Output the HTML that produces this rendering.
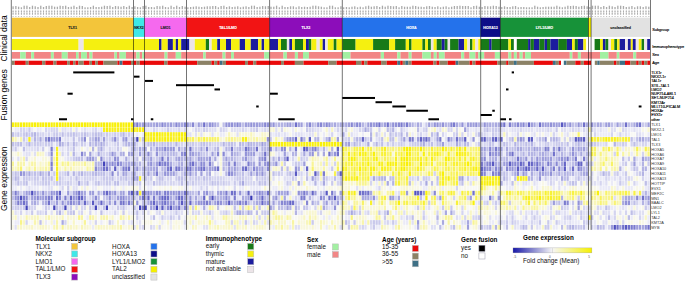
<!DOCTYPE html>
<html><head><meta charset="utf-8"><title>T-ALL clinical and molecular overview</title>
<style>
html,body{margin:0;padding:0;background:#fff;width:685px;height:282px;overflow:hidden;}
svg{display:block;font-family:"Liberation Sans",sans-serif;}
svg text{shape-rendering:auto;}
.q0{fill:#1818aa}.q1{fill:#2323ae}.q2{fill:#2e2eb2}.q3{fill:#3939b6}.q4{fill:#4444ba}.q5{fill:#4f4fbe}.q6{fill:#5a5ac2}.q7{fill:#6565c6}.q8{fill:#7070ca}.q9{fill:#7b7bce}.q10{fill:#8787d3}.q11{fill:#9292d7}.q12{fill:#9d9ddb}.q13{fill:#a8a8df}.q14{fill:#b3b3e3}.q15{fill:#bebee7}.q16{fill:#c9c9eb}.q17{fill:#d4d4ef}.q18{fill:#dfdff3}.q19{fill:#eaeaf7}.q20{fill:#f8f8f4}.q21{fill:#f8f7e8}.q22{fill:#f8f7dc}.q23{fill:#f8f6d0}.q24{fill:#f8f6c5}.q25{fill:#f8f6b9}.q26{fill:#f8f5ad}.q27{fill:#f8f5a2}.q28{fill:#f8f496}.q29{fill:#f8f48a}.q30{fill:#f8f47f}.q31{fill:#f8f373}.q32{fill:#f8f367}.q33{fill:#f8f25b}.q34{fill:#f8f250}.q35{fill:#f8f244}.q36{fill:#f8f138}.q37{fill:#f8f12d}.q38{fill:#f8f021}.q39{fill:#f8f015}.q40{fill:#f8f00a}.w0 rect{width:2.27px;height:4.69px}.w1 rect{width:2.25px;height:4.69px}.w2 rect{width:2.30px;height:4.69px}.w3 rect{width:2.27px;height:4.69px}.w4 rect{width:2.30px;height:4.69px}.w5 rect{width:2.27px;height:4.69px}.w6 rect{width:2.31px;height:4.69px}.w7 rect{width:2.25px;height:4.69px}.w8 rect{width:2.10px;height:4.69px}.w9 rect{width:2.31px;height:4.69px}
</style></head><body>
<svg width="685" height="282" viewBox="0 0 685 282" font-family='"Liberation Sans", sans-serif'><rect x="12.43" y="6.30" width="1.30" height="2.90" fill="#aaaaaa"/>
<rect x="12.63" y="10.00" width="0.90" height="4.90" fill="#c8c8c8"/>
<rect x="12.58" y="11.00" width="1.00" height="1.10" fill="#acacac"/>
<rect x="12.58" y="13.20" width="1.00" height="1.20" fill="#a8a8a8"/>
<rect x="12.48" y="16.10" width="1.20" height="0.70" fill="#a8a8a8"/>
<rect x="15.20" y="6.00" width="1.30" height="3.20" fill="#aaaaaa"/>
<rect x="15.40" y="10.00" width="0.90" height="4.90" fill="#c8c8c8"/>
<rect x="15.35" y="11.00" width="1.00" height="1.10" fill="#acacac"/>
<rect x="15.35" y="13.20" width="1.00" height="1.20" fill="#a8a8a8"/>
<rect x="15.25" y="16.10" width="1.20" height="0.70" fill="#a8a8a8"/>
<rect x="17.97" y="6.70" width="1.30" height="2.50" fill="#aaaaaa"/>
<rect x="18.17" y="10.00" width="0.90" height="4.90" fill="#c8c8c8"/>
<rect x="18.12" y="11.00" width="1.00" height="1.10" fill="#acacac"/>
<rect x="18.12" y="13.20" width="1.00" height="1.20" fill="#a8a8a8"/>
<rect x="18.02" y="16.10" width="1.20" height="0.70" fill="#a8a8a8"/>
<rect x="20.74" y="7.30" width="1.30" height="1.90" fill="#aaaaaa"/>
<rect x="20.94" y="10.00" width="0.90" height="4.90" fill="#c8c8c8"/>
<rect x="20.89" y="11.00" width="1.00" height="1.10" fill="#acacac"/>
<rect x="20.89" y="13.20" width="1.00" height="1.20" fill="#a8a8a8"/>
<rect x="20.79" y="16.10" width="1.20" height="0.70" fill="#a8a8a8"/>
<rect x="23.51" y="5.70" width="1.30" height="3.50" fill="#aaaaaa"/>
<rect x="23.71" y="10.00" width="0.90" height="4.90" fill="#c8c8c8"/>
<rect x="23.66" y="11.00" width="1.00" height="1.10" fill="#acacac"/>
<rect x="23.66" y="13.20" width="1.00" height="1.20" fill="#a8a8a8"/>
<rect x="23.56" y="16.10" width="1.20" height="0.70" fill="#a8a8a8"/>
<rect x="26.27" y="5.70" width="1.30" height="3.50" fill="#aaaaaa"/>
<rect x="26.47" y="10.00" width="0.90" height="4.90" fill="#c8c8c8"/>
<rect x="26.42" y="11.00" width="1.00" height="1.10" fill="#acacac"/>
<rect x="26.42" y="13.20" width="1.00" height="1.20" fill="#a8a8a8"/>
<rect x="26.32" y="16.10" width="1.20" height="0.70" fill="#a8a8a8"/>
<rect x="29.04" y="7.00" width="1.30" height="2.20" fill="#aaaaaa"/>
<rect x="29.24" y="10.00" width="0.90" height="4.90" fill="#c8c8c8"/>
<rect x="29.19" y="11.00" width="1.00" height="1.10" fill="#acacac"/>
<rect x="29.19" y="13.20" width="1.00" height="1.20" fill="#a8a8a8"/>
<rect x="29.09" y="16.10" width="1.20" height="0.70" fill="#a8a8a8"/>
<rect x="31.81" y="5.70" width="1.30" height="3.50" fill="#aaaaaa"/>
<rect x="32.01" y="10.00" width="0.90" height="4.90" fill="#c8c8c8"/>
<rect x="31.96" y="11.00" width="1.00" height="1.10" fill="#acacac"/>
<rect x="31.96" y="13.20" width="1.00" height="1.20" fill="#a8a8a8"/>
<rect x="31.86" y="16.10" width="1.20" height="0.70" fill="#a8a8a8"/>
<rect x="34.58" y="6.30" width="1.30" height="2.90" fill="#aaaaaa"/>
<rect x="34.78" y="10.00" width="0.90" height="4.90" fill="#c8c8c8"/>
<rect x="34.73" y="11.00" width="1.00" height="1.10" fill="#acacac"/>
<rect x="34.73" y="13.20" width="1.00" height="1.20" fill="#a8a8a8"/>
<rect x="34.63" y="16.10" width="1.20" height="0.70" fill="#a8a8a8"/>
<rect x="37.35" y="7.00" width="1.30" height="2.20" fill="#aaaaaa"/>
<rect x="37.55" y="10.00" width="0.90" height="4.90" fill="#c8c8c8"/>
<rect x="37.50" y="11.00" width="1.00" height="1.10" fill="#acacac"/>
<rect x="37.50" y="13.20" width="1.00" height="1.20" fill="#a8a8a8"/>
<rect x="37.40" y="16.10" width="1.20" height="0.70" fill="#a8a8a8"/>
<rect x="40.12" y="5.70" width="1.30" height="3.50" fill="#aaaaaa"/>
<rect x="40.32" y="10.00" width="0.90" height="4.90" fill="#c8c8c8"/>
<rect x="40.27" y="11.00" width="1.00" height="1.10" fill="#acacac"/>
<rect x="40.27" y="13.20" width="1.00" height="1.20" fill="#a8a8a8"/>
<rect x="40.17" y="16.10" width="1.20" height="0.70" fill="#a8a8a8"/>
<rect x="42.88" y="7.00" width="1.30" height="2.20" fill="#aaaaaa"/>
<rect x="43.08" y="10.00" width="0.90" height="4.90" fill="#c8c8c8"/>
<rect x="43.03" y="11.00" width="1.00" height="1.10" fill="#acacac"/>
<rect x="43.03" y="13.20" width="1.00" height="1.20" fill="#a8a8a8"/>
<rect x="42.93" y="16.10" width="1.20" height="0.70" fill="#a8a8a8"/>
<rect x="45.65" y="6.00" width="1.30" height="3.20" fill="#aaaaaa"/>
<rect x="45.85" y="10.00" width="0.90" height="4.90" fill="#c8c8c8"/>
<rect x="45.80" y="11.00" width="1.00" height="1.10" fill="#acacac"/>
<rect x="45.80" y="13.20" width="1.00" height="1.20" fill="#a8a8a8"/>
<rect x="45.70" y="16.10" width="1.20" height="0.70" fill="#a8a8a8"/>
<rect x="48.42" y="5.70" width="1.30" height="3.50" fill="#aaaaaa"/>
<rect x="48.62" y="10.00" width="0.90" height="4.90" fill="#c8c8c8"/>
<rect x="48.57" y="11.00" width="1.00" height="1.10" fill="#acacac"/>
<rect x="48.57" y="13.20" width="1.00" height="1.20" fill="#a8a8a8"/>
<rect x="48.47" y="16.10" width="1.20" height="0.70" fill="#a8a8a8"/>
<rect x="51.19" y="5.70" width="1.30" height="3.50" fill="#aaaaaa"/>
<rect x="51.39" y="10.00" width="0.90" height="4.90" fill="#c8c8c8"/>
<rect x="51.34" y="11.00" width="1.00" height="1.10" fill="#acacac"/>
<rect x="51.34" y="13.20" width="1.00" height="1.20" fill="#a8a8a8"/>
<rect x="51.24" y="16.10" width="1.20" height="0.70" fill="#a8a8a8"/>
<rect x="53.96" y="6.70" width="1.30" height="2.50" fill="#aaaaaa"/>
<rect x="54.16" y="10.00" width="0.90" height="4.90" fill="#c8c8c8"/>
<rect x="54.11" y="11.00" width="1.00" height="1.10" fill="#acacac"/>
<rect x="54.11" y="13.20" width="1.00" height="1.20" fill="#a8a8a8"/>
<rect x="54.01" y="16.10" width="1.20" height="0.70" fill="#a8a8a8"/>
<rect x="56.72" y="6.70" width="1.30" height="2.50" fill="#aaaaaa"/>
<rect x="56.92" y="10.00" width="0.90" height="4.90" fill="#c8c8c8"/>
<rect x="56.87" y="11.00" width="1.00" height="1.10" fill="#acacac"/>
<rect x="56.87" y="13.20" width="1.00" height="1.20" fill="#a8a8a8"/>
<rect x="56.77" y="16.10" width="1.20" height="0.70" fill="#a8a8a8"/>
<rect x="59.49" y="5.70" width="1.30" height="3.50" fill="#aaaaaa"/>
<rect x="59.69" y="10.00" width="0.90" height="4.90" fill="#c8c8c8"/>
<rect x="59.64" y="11.00" width="1.00" height="1.10" fill="#acacac"/>
<rect x="59.64" y="13.20" width="1.00" height="1.20" fill="#a8a8a8"/>
<rect x="59.54" y="16.10" width="1.20" height="0.70" fill="#a8a8a8"/>
<rect x="62.26" y="6.00" width="1.30" height="3.20" fill="#aaaaaa"/>
<rect x="62.46" y="10.00" width="0.90" height="4.90" fill="#c8c8c8"/>
<rect x="62.41" y="11.00" width="1.00" height="1.10" fill="#acacac"/>
<rect x="62.41" y="13.20" width="1.00" height="1.20" fill="#a8a8a8"/>
<rect x="62.31" y="16.10" width="1.20" height="0.70" fill="#a8a8a8"/>
<rect x="65.03" y="5.70" width="1.30" height="3.50" fill="#aaaaaa"/>
<rect x="65.23" y="10.00" width="0.90" height="4.90" fill="#c8c8c8"/>
<rect x="65.18" y="11.00" width="1.00" height="1.10" fill="#acacac"/>
<rect x="65.18" y="13.20" width="1.00" height="1.20" fill="#a8a8a8"/>
<rect x="65.08" y="16.10" width="1.20" height="0.70" fill="#a8a8a8"/>
<rect x="67.80" y="7.00" width="1.30" height="2.20" fill="#aaaaaa"/>
<rect x="68.00" y="10.00" width="0.90" height="4.90" fill="#c8c8c8"/>
<rect x="67.95" y="11.00" width="1.00" height="1.10" fill="#acacac"/>
<rect x="67.95" y="13.20" width="1.00" height="1.20" fill="#a8a8a8"/>
<rect x="67.85" y="16.10" width="1.20" height="0.70" fill="#a8a8a8"/>
<rect x="70.57" y="6.70" width="1.30" height="2.50" fill="#aaaaaa"/>
<rect x="70.77" y="10.00" width="0.90" height="4.90" fill="#c8c8c8"/>
<rect x="70.72" y="11.00" width="1.00" height="1.10" fill="#acacac"/>
<rect x="70.72" y="13.20" width="1.00" height="1.20" fill="#a8a8a8"/>
<rect x="70.62" y="16.10" width="1.20" height="0.70" fill="#a8a8a8"/>
<rect x="73.33" y="5.70" width="1.30" height="3.50" fill="#aaaaaa"/>
<rect x="73.53" y="10.00" width="0.90" height="4.90" fill="#c8c8c8"/>
<rect x="73.48" y="11.00" width="1.00" height="1.10" fill="#acacac"/>
<rect x="73.48" y="13.20" width="1.00" height="1.20" fill="#a8a8a8"/>
<rect x="73.38" y="16.10" width="1.20" height="0.70" fill="#a8a8a8"/>
<rect x="76.10" y="7.00" width="1.30" height="2.20" fill="#aaaaaa"/>
<rect x="76.30" y="10.00" width="0.90" height="4.90" fill="#c8c8c8"/>
<rect x="76.25" y="11.00" width="1.00" height="1.10" fill="#acacac"/>
<rect x="76.25" y="13.20" width="1.00" height="1.20" fill="#a8a8a8"/>
<rect x="76.15" y="16.10" width="1.20" height="0.70" fill="#a8a8a8"/>
<rect x="78.87" y="5.70" width="1.30" height="3.50" fill="#aaaaaa"/>
<rect x="79.07" y="10.00" width="0.90" height="4.90" fill="#c8c8c8"/>
<rect x="79.02" y="11.00" width="1.00" height="1.10" fill="#acacac"/>
<rect x="79.02" y="13.20" width="1.00" height="1.20" fill="#a8a8a8"/>
<rect x="78.92" y="16.10" width="1.20" height="0.70" fill="#a8a8a8"/>
<rect x="81.64" y="6.00" width="1.30" height="3.20" fill="#aaaaaa"/>
<rect x="81.84" y="10.00" width="0.90" height="4.90" fill="#c8c8c8"/>
<rect x="81.79" y="11.00" width="1.00" height="1.10" fill="#acacac"/>
<rect x="81.79" y="13.20" width="1.00" height="1.20" fill="#a8a8a8"/>
<rect x="81.69" y="16.10" width="1.20" height="0.70" fill="#a8a8a8"/>
<rect x="84.41" y="7.30" width="1.30" height="1.90" fill="#aaaaaa"/>
<rect x="84.61" y="10.00" width="0.90" height="4.90" fill="#c8c8c8"/>
<rect x="84.56" y="11.00" width="1.00" height="1.10" fill="#acacac"/>
<rect x="84.56" y="13.20" width="1.00" height="1.20" fill="#a8a8a8"/>
<rect x="84.46" y="16.10" width="1.20" height="0.70" fill="#a8a8a8"/>
<rect x="87.17" y="7.30" width="1.30" height="1.90" fill="#aaaaaa"/>
<rect x="87.37" y="10.00" width="0.90" height="4.90" fill="#c8c8c8"/>
<rect x="87.32" y="11.00" width="1.00" height="1.10" fill="#acacac"/>
<rect x="87.32" y="13.20" width="1.00" height="1.20" fill="#a8a8a8"/>
<rect x="87.22" y="16.10" width="1.20" height="0.70" fill="#a8a8a8"/>
<rect x="89.94" y="7.00" width="1.30" height="2.20" fill="#aaaaaa"/>
<rect x="90.14" y="10.00" width="0.90" height="4.90" fill="#c8c8c8"/>
<rect x="90.09" y="11.00" width="1.00" height="1.10" fill="#acacac"/>
<rect x="90.09" y="13.20" width="1.00" height="1.20" fill="#a8a8a8"/>
<rect x="89.99" y="16.10" width="1.20" height="0.70" fill="#a8a8a8"/>
<rect x="92.71" y="5.70" width="1.30" height="3.50" fill="#aaaaaa"/>
<rect x="92.91" y="10.00" width="0.90" height="4.90" fill="#c8c8c8"/>
<rect x="92.86" y="11.00" width="1.00" height="1.10" fill="#acacac"/>
<rect x="92.86" y="13.20" width="1.00" height="1.20" fill="#a8a8a8"/>
<rect x="92.76" y="16.10" width="1.20" height="0.70" fill="#a8a8a8"/>
<rect x="95.48" y="7.00" width="1.30" height="2.20" fill="#aaaaaa"/>
<rect x="95.68" y="10.00" width="0.90" height="4.90" fill="#c8c8c8"/>
<rect x="95.63" y="11.00" width="1.00" height="1.10" fill="#acacac"/>
<rect x="95.63" y="13.20" width="1.00" height="1.20" fill="#a8a8a8"/>
<rect x="95.53" y="16.10" width="1.20" height="0.70" fill="#a8a8a8"/>
<rect x="98.25" y="7.00" width="1.30" height="2.20" fill="#aaaaaa"/>
<rect x="98.45" y="10.00" width="0.90" height="4.90" fill="#c8c8c8"/>
<rect x="98.40" y="11.00" width="1.00" height="1.10" fill="#acacac"/>
<rect x="98.40" y="13.20" width="1.00" height="1.20" fill="#a8a8a8"/>
<rect x="98.30" y="16.10" width="1.20" height="0.70" fill="#a8a8a8"/>
<rect x="101.02" y="6.70" width="1.30" height="2.50" fill="#aaaaaa"/>
<rect x="101.22" y="10.00" width="0.90" height="4.90" fill="#c8c8c8"/>
<rect x="101.17" y="11.00" width="1.00" height="1.10" fill="#acacac"/>
<rect x="101.17" y="13.20" width="1.00" height="1.20" fill="#a8a8a8"/>
<rect x="101.07" y="16.10" width="1.20" height="0.70" fill="#a8a8a8"/>
<rect x="103.78" y="5.70" width="1.30" height="3.50" fill="#aaaaaa"/>
<rect x="103.98" y="10.00" width="0.90" height="4.90" fill="#c8c8c8"/>
<rect x="103.93" y="11.00" width="1.00" height="1.10" fill="#acacac"/>
<rect x="103.93" y="13.20" width="1.00" height="1.20" fill="#a8a8a8"/>
<rect x="103.83" y="16.10" width="1.20" height="0.70" fill="#a8a8a8"/>
<rect x="106.55" y="6.00" width="1.30" height="3.20" fill="#aaaaaa"/>
<rect x="106.75" y="10.00" width="0.90" height="4.90" fill="#c8c8c8"/>
<rect x="106.70" y="11.00" width="1.00" height="1.10" fill="#acacac"/>
<rect x="106.70" y="13.20" width="1.00" height="1.20" fill="#a8a8a8"/>
<rect x="106.60" y="16.10" width="1.20" height="0.70" fill="#a8a8a8"/>
<rect x="109.32" y="5.70" width="1.30" height="3.50" fill="#aaaaaa"/>
<rect x="109.52" y="10.00" width="0.90" height="4.90" fill="#c8c8c8"/>
<rect x="109.47" y="11.00" width="1.00" height="1.10" fill="#acacac"/>
<rect x="109.47" y="13.20" width="1.00" height="1.20" fill="#a8a8a8"/>
<rect x="109.37" y="16.10" width="1.20" height="0.70" fill="#a8a8a8"/>
<rect x="112.09" y="7.00" width="1.30" height="2.20" fill="#aaaaaa"/>
<rect x="112.29" y="10.00" width="0.90" height="4.90" fill="#c8c8c8"/>
<rect x="112.24" y="11.00" width="1.00" height="1.10" fill="#acacac"/>
<rect x="112.24" y="13.20" width="1.00" height="1.20" fill="#a8a8a8"/>
<rect x="112.14" y="16.10" width="1.20" height="0.70" fill="#a8a8a8"/>
<rect x="114.86" y="6.00" width="1.30" height="3.20" fill="#aaaaaa"/>
<rect x="115.06" y="10.00" width="0.90" height="4.90" fill="#c8c8c8"/>
<rect x="115.01" y="11.00" width="1.00" height="1.10" fill="#acacac"/>
<rect x="115.01" y="13.20" width="1.00" height="1.20" fill="#a8a8a8"/>
<rect x="114.91" y="16.10" width="1.20" height="0.70" fill="#a8a8a8"/>
<rect x="117.62" y="6.30" width="1.30" height="2.90" fill="#aaaaaa"/>
<rect x="117.83" y="10.00" width="0.90" height="4.90" fill="#c8c8c8"/>
<rect x="117.78" y="11.00" width="1.00" height="1.10" fill="#acacac"/>
<rect x="117.78" y="13.20" width="1.00" height="1.20" fill="#a8a8a8"/>
<rect x="117.68" y="16.10" width="1.20" height="0.70" fill="#a8a8a8"/>
<rect x="120.39" y="6.70" width="1.30" height="2.50" fill="#aaaaaa"/>
<rect x="120.59" y="10.00" width="0.90" height="4.90" fill="#c8c8c8"/>
<rect x="120.54" y="11.00" width="1.00" height="1.10" fill="#acacac"/>
<rect x="120.54" y="13.20" width="1.00" height="1.20" fill="#a8a8a8"/>
<rect x="120.44" y="16.10" width="1.20" height="0.70" fill="#a8a8a8"/>
<rect x="123.16" y="6.00" width="1.30" height="3.20" fill="#aaaaaa"/>
<rect x="123.36" y="10.00" width="0.90" height="4.90" fill="#c8c8c8"/>
<rect x="123.31" y="11.00" width="1.00" height="1.10" fill="#acacac"/>
<rect x="123.31" y="13.20" width="1.00" height="1.20" fill="#a8a8a8"/>
<rect x="123.21" y="16.10" width="1.20" height="0.70" fill="#a8a8a8"/>
<rect x="125.93" y="7.00" width="1.30" height="2.20" fill="#aaaaaa"/>
<rect x="126.13" y="10.00" width="0.90" height="4.90" fill="#c8c8c8"/>
<rect x="126.08" y="11.00" width="1.00" height="1.10" fill="#acacac"/>
<rect x="126.08" y="13.20" width="1.00" height="1.20" fill="#a8a8a8"/>
<rect x="125.98" y="16.10" width="1.20" height="0.70" fill="#a8a8a8"/>
<rect x="128.70" y="5.70" width="1.30" height="3.50" fill="#aaaaaa"/>
<rect x="128.90" y="10.00" width="0.90" height="4.90" fill="#c8c8c8"/>
<rect x="128.85" y="11.00" width="1.00" height="1.10" fill="#acacac"/>
<rect x="128.85" y="13.20" width="1.00" height="1.20" fill="#a8a8a8"/>
<rect x="128.75" y="16.10" width="1.20" height="0.70" fill="#a8a8a8"/>
<rect x="131.47" y="7.00" width="1.30" height="2.20" fill="#aaaaaa"/>
<rect x="131.67" y="10.00" width="0.90" height="4.90" fill="#c8c8c8"/>
<rect x="131.62" y="11.00" width="1.00" height="1.10" fill="#acacac"/>
<rect x="131.62" y="13.20" width="1.00" height="1.20" fill="#a8a8a8"/>
<rect x="131.52" y="16.10" width="1.20" height="0.70" fill="#a8a8a8"/>
<rect x="134.22" y="6.30" width="1.30" height="2.90" fill="#aaaaaa"/>
<rect x="134.43" y="10.00" width="0.90" height="4.90" fill="#c8c8c8"/>
<rect x="134.38" y="11.00" width="1.00" height="1.10" fill="#acacac"/>
<rect x="134.38" y="13.20" width="1.00" height="1.20" fill="#a8a8a8"/>
<rect x="134.28" y="16.10" width="1.20" height="0.70" fill="#a8a8a8"/>
<rect x="136.97" y="7.00" width="1.30" height="2.20" fill="#aaaaaa"/>
<rect x="137.18" y="10.00" width="0.90" height="4.90" fill="#c8c8c8"/>
<rect x="137.12" y="11.00" width="1.00" height="1.10" fill="#acacac"/>
<rect x="137.12" y="13.20" width="1.00" height="1.20" fill="#a8a8a8"/>
<rect x="137.03" y="16.10" width="1.20" height="0.70" fill="#a8a8a8"/>
<rect x="139.72" y="7.30" width="1.30" height="1.90" fill="#aaaaaa"/>
<rect x="139.93" y="10.00" width="0.90" height="4.90" fill="#c8c8c8"/>
<rect x="139.88" y="11.00" width="1.00" height="1.10" fill="#acacac"/>
<rect x="139.88" y="13.20" width="1.00" height="1.20" fill="#a8a8a8"/>
<rect x="139.78" y="16.10" width="1.20" height="0.70" fill="#a8a8a8"/>
<rect x="142.47" y="6.00" width="1.30" height="3.20" fill="#aaaaaa"/>
<rect x="142.68" y="10.00" width="0.90" height="4.90" fill="#c8c8c8"/>
<rect x="142.62" y="11.00" width="1.00" height="1.10" fill="#acacac"/>
<rect x="142.62" y="13.20" width="1.00" height="1.20" fill="#a8a8a8"/>
<rect x="142.53" y="16.10" width="1.20" height="0.70" fill="#a8a8a8"/>
<rect x="145.25" y="5.70" width="1.30" height="3.50" fill="#aaaaaa"/>
<rect x="145.45" y="10.00" width="0.90" height="4.90" fill="#c8c8c8"/>
<rect x="145.40" y="11.00" width="1.00" height="1.10" fill="#acacac"/>
<rect x="145.40" y="13.20" width="1.00" height="1.20" fill="#a8a8a8"/>
<rect x="145.30" y="16.10" width="1.20" height="0.70" fill="#a8a8a8"/>
<rect x="148.05" y="7.00" width="1.30" height="2.20" fill="#aaaaaa"/>
<rect x="148.25" y="10.00" width="0.90" height="4.90" fill="#c8c8c8"/>
<rect x="148.20" y="11.00" width="1.00" height="1.10" fill="#acacac"/>
<rect x="148.20" y="13.20" width="1.00" height="1.20" fill="#a8a8a8"/>
<rect x="148.10" y="16.10" width="1.20" height="0.70" fill="#a8a8a8"/>
<rect x="150.85" y="7.00" width="1.30" height="2.20" fill="#aaaaaa"/>
<rect x="151.05" y="10.00" width="0.90" height="4.90" fill="#c8c8c8"/>
<rect x="151.00" y="11.00" width="1.00" height="1.10" fill="#acacac"/>
<rect x="151.00" y="13.20" width="1.00" height="1.20" fill="#a8a8a8"/>
<rect x="150.90" y="16.10" width="1.20" height="0.70" fill="#a8a8a8"/>
<rect x="153.65" y="7.30" width="1.30" height="1.90" fill="#aaaaaa"/>
<rect x="153.85" y="10.00" width="0.90" height="4.90" fill="#c8c8c8"/>
<rect x="153.80" y="11.00" width="1.00" height="1.10" fill="#acacac"/>
<rect x="153.80" y="13.20" width="1.00" height="1.20" fill="#a8a8a8"/>
<rect x="153.70" y="16.10" width="1.20" height="0.70" fill="#a8a8a8"/>
<rect x="156.45" y="6.00" width="1.30" height="3.20" fill="#aaaaaa"/>
<rect x="156.65" y="10.00" width="0.90" height="4.90" fill="#c8c8c8"/>
<rect x="156.60" y="11.00" width="1.00" height="1.10" fill="#acacac"/>
<rect x="156.60" y="13.20" width="1.00" height="1.20" fill="#a8a8a8"/>
<rect x="156.50" y="16.10" width="1.20" height="0.70" fill="#a8a8a8"/>
<rect x="159.25" y="6.30" width="1.30" height="2.90" fill="#aaaaaa"/>
<rect x="159.45" y="10.00" width="0.90" height="4.90" fill="#c8c8c8"/>
<rect x="159.40" y="11.00" width="1.00" height="1.10" fill="#acacac"/>
<rect x="159.40" y="13.20" width="1.00" height="1.20" fill="#a8a8a8"/>
<rect x="159.30" y="16.10" width="1.20" height="0.70" fill="#a8a8a8"/>
<rect x="162.05" y="5.70" width="1.30" height="3.50" fill="#aaaaaa"/>
<rect x="162.25" y="10.00" width="0.90" height="4.90" fill="#c8c8c8"/>
<rect x="162.20" y="11.00" width="1.00" height="1.10" fill="#acacac"/>
<rect x="162.20" y="13.20" width="1.00" height="1.20" fill="#a8a8a8"/>
<rect x="162.10" y="16.10" width="1.20" height="0.70" fill="#a8a8a8"/>
<rect x="164.85" y="7.00" width="1.30" height="2.20" fill="#aaaaaa"/>
<rect x="165.05" y="10.00" width="0.90" height="4.90" fill="#c8c8c8"/>
<rect x="165.00" y="11.00" width="1.00" height="1.10" fill="#acacac"/>
<rect x="165.00" y="13.20" width="1.00" height="1.20" fill="#a8a8a8"/>
<rect x="164.90" y="16.10" width="1.20" height="0.70" fill="#a8a8a8"/>
<rect x="167.65" y="7.30" width="1.30" height="1.90" fill="#aaaaaa"/>
<rect x="167.85" y="10.00" width="0.90" height="4.90" fill="#c8c8c8"/>
<rect x="167.80" y="11.00" width="1.00" height="1.10" fill="#acacac"/>
<rect x="167.80" y="13.20" width="1.00" height="1.20" fill="#a8a8a8"/>
<rect x="167.70" y="16.10" width="1.20" height="0.70" fill="#a8a8a8"/>
<rect x="170.45" y="5.70" width="1.30" height="3.50" fill="#aaaaaa"/>
<rect x="170.65" y="10.00" width="0.90" height="4.90" fill="#c8c8c8"/>
<rect x="170.60" y="11.00" width="1.00" height="1.10" fill="#acacac"/>
<rect x="170.60" y="13.20" width="1.00" height="1.20" fill="#a8a8a8"/>
<rect x="170.50" y="16.10" width="1.20" height="0.70" fill="#a8a8a8"/>
<rect x="173.25" y="7.00" width="1.30" height="2.20" fill="#aaaaaa"/>
<rect x="173.45" y="10.00" width="0.90" height="4.90" fill="#c8c8c8"/>
<rect x="173.40" y="11.00" width="1.00" height="1.10" fill="#acacac"/>
<rect x="173.40" y="13.20" width="1.00" height="1.20" fill="#a8a8a8"/>
<rect x="173.30" y="16.10" width="1.20" height="0.70" fill="#a8a8a8"/>
<rect x="176.05" y="5.70" width="1.30" height="3.50" fill="#aaaaaa"/>
<rect x="176.25" y="10.00" width="0.90" height="4.90" fill="#c8c8c8"/>
<rect x="176.20" y="11.00" width="1.00" height="1.10" fill="#acacac"/>
<rect x="176.20" y="13.20" width="1.00" height="1.20" fill="#a8a8a8"/>
<rect x="176.10" y="16.10" width="1.20" height="0.70" fill="#a8a8a8"/>
<rect x="178.85" y="7.00" width="1.30" height="2.20" fill="#aaaaaa"/>
<rect x="179.05" y="10.00" width="0.90" height="4.90" fill="#c8c8c8"/>
<rect x="179.00" y="11.00" width="1.00" height="1.10" fill="#acacac"/>
<rect x="179.00" y="13.20" width="1.00" height="1.20" fill="#a8a8a8"/>
<rect x="178.90" y="16.10" width="1.20" height="0.70" fill="#a8a8a8"/>
<rect x="181.65" y="6.00" width="1.30" height="3.20" fill="#aaaaaa"/>
<rect x="181.85" y="10.00" width="0.90" height="4.90" fill="#c8c8c8"/>
<rect x="181.80" y="11.00" width="1.00" height="1.10" fill="#acacac"/>
<rect x="181.80" y="13.20" width="1.00" height="1.20" fill="#a8a8a8"/>
<rect x="181.70" y="16.10" width="1.20" height="0.70" fill="#a8a8a8"/>
<rect x="184.45" y="6.70" width="1.30" height="2.50" fill="#aaaaaa"/>
<rect x="184.65" y="10.00" width="0.90" height="4.90" fill="#c8c8c8"/>
<rect x="184.60" y="11.00" width="1.00" height="1.10" fill="#acacac"/>
<rect x="184.60" y="13.20" width="1.00" height="1.20" fill="#a8a8a8"/>
<rect x="184.50" y="16.10" width="1.20" height="0.70" fill="#a8a8a8"/>
<rect x="187.23" y="7.30" width="1.30" height="1.90" fill="#aaaaaa"/>
<rect x="187.44" y="10.00" width="0.90" height="4.90" fill="#c8c8c8"/>
<rect x="187.38" y="11.00" width="1.00" height="1.10" fill="#acacac"/>
<rect x="187.38" y="13.20" width="1.00" height="1.20" fill="#a8a8a8"/>
<rect x="187.28" y="16.10" width="1.20" height="0.70" fill="#a8a8a8"/>
<rect x="190.00" y="7.00" width="1.30" height="2.20" fill="#aaaaaa"/>
<rect x="190.21" y="10.00" width="0.90" height="4.90" fill="#c8c8c8"/>
<rect x="190.16" y="11.00" width="1.00" height="1.10" fill="#acacac"/>
<rect x="190.16" y="13.20" width="1.00" height="1.20" fill="#a8a8a8"/>
<rect x="190.06" y="16.10" width="1.20" height="0.70" fill="#a8a8a8"/>
<rect x="192.78" y="6.70" width="1.30" height="2.50" fill="#aaaaaa"/>
<rect x="192.98" y="10.00" width="0.90" height="4.90" fill="#c8c8c8"/>
<rect x="192.93" y="11.00" width="1.00" height="1.10" fill="#acacac"/>
<rect x="192.93" y="13.20" width="1.00" height="1.20" fill="#a8a8a8"/>
<rect x="192.83" y="16.10" width="1.20" height="0.70" fill="#a8a8a8"/>
<rect x="195.54" y="6.30" width="1.30" height="2.90" fill="#aaaaaa"/>
<rect x="195.75" y="10.00" width="0.90" height="4.90" fill="#c8c8c8"/>
<rect x="195.69" y="11.00" width="1.00" height="1.10" fill="#acacac"/>
<rect x="195.69" y="13.20" width="1.00" height="1.20" fill="#a8a8a8"/>
<rect x="195.59" y="16.10" width="1.20" height="0.70" fill="#a8a8a8"/>
<rect x="198.31" y="6.70" width="1.30" height="2.50" fill="#aaaaaa"/>
<rect x="198.52" y="10.00" width="0.90" height="4.90" fill="#c8c8c8"/>
<rect x="198.47" y="11.00" width="1.00" height="1.10" fill="#acacac"/>
<rect x="198.47" y="13.20" width="1.00" height="1.20" fill="#a8a8a8"/>
<rect x="198.37" y="16.10" width="1.20" height="0.70" fill="#a8a8a8"/>
<rect x="201.09" y="7.00" width="1.30" height="2.20" fill="#aaaaaa"/>
<rect x="201.29" y="10.00" width="0.90" height="4.90" fill="#c8c8c8"/>
<rect x="201.24" y="11.00" width="1.00" height="1.10" fill="#acacac"/>
<rect x="201.24" y="13.20" width="1.00" height="1.20" fill="#a8a8a8"/>
<rect x="201.14" y="16.10" width="1.20" height="0.70" fill="#a8a8a8"/>
<rect x="203.85" y="6.70" width="1.30" height="2.50" fill="#aaaaaa"/>
<rect x="204.06" y="10.00" width="0.90" height="4.90" fill="#c8c8c8"/>
<rect x="204.00" y="11.00" width="1.00" height="1.10" fill="#acacac"/>
<rect x="204.00" y="13.20" width="1.00" height="1.20" fill="#a8a8a8"/>
<rect x="203.91" y="16.10" width="1.20" height="0.70" fill="#a8a8a8"/>
<rect x="206.62" y="6.30" width="1.30" height="2.90" fill="#aaaaaa"/>
<rect x="206.83" y="10.00" width="0.90" height="4.90" fill="#c8c8c8"/>
<rect x="206.78" y="11.00" width="1.00" height="1.10" fill="#acacac"/>
<rect x="206.78" y="13.20" width="1.00" height="1.20" fill="#a8a8a8"/>
<rect x="206.68" y="16.10" width="1.20" height="0.70" fill="#a8a8a8"/>
<rect x="209.40" y="6.30" width="1.30" height="2.90" fill="#aaaaaa"/>
<rect x="209.60" y="10.00" width="0.90" height="4.90" fill="#c8c8c8"/>
<rect x="209.55" y="11.00" width="1.00" height="1.10" fill="#acacac"/>
<rect x="209.55" y="13.20" width="1.00" height="1.20" fill="#a8a8a8"/>
<rect x="209.45" y="16.10" width="1.20" height="0.70" fill="#a8a8a8"/>
<rect x="212.16" y="6.00" width="1.30" height="3.20" fill="#aaaaaa"/>
<rect x="212.37" y="10.00" width="0.90" height="4.90" fill="#c8c8c8"/>
<rect x="212.31" y="11.00" width="1.00" height="1.10" fill="#acacac"/>
<rect x="212.31" y="13.20" width="1.00" height="1.20" fill="#a8a8a8"/>
<rect x="212.22" y="16.10" width="1.20" height="0.70" fill="#a8a8a8"/>
<rect x="214.94" y="6.00" width="1.30" height="3.20" fill="#aaaaaa"/>
<rect x="215.14" y="10.00" width="0.90" height="4.90" fill="#c8c8c8"/>
<rect x="215.09" y="11.00" width="1.00" height="1.10" fill="#acacac"/>
<rect x="215.09" y="13.20" width="1.00" height="1.20" fill="#a8a8a8"/>
<rect x="214.99" y="16.10" width="1.20" height="0.70" fill="#a8a8a8"/>
<rect x="217.71" y="7.30" width="1.30" height="1.90" fill="#aaaaaa"/>
<rect x="217.91" y="10.00" width="0.90" height="4.90" fill="#c8c8c8"/>
<rect x="217.86" y="11.00" width="1.00" height="1.10" fill="#acacac"/>
<rect x="217.86" y="13.20" width="1.00" height="1.20" fill="#a8a8a8"/>
<rect x="217.76" y="16.10" width="1.20" height="0.70" fill="#a8a8a8"/>
<rect x="220.47" y="6.00" width="1.30" height="3.20" fill="#aaaaaa"/>
<rect x="220.68" y="10.00" width="0.90" height="4.90" fill="#c8c8c8"/>
<rect x="220.62" y="11.00" width="1.00" height="1.10" fill="#acacac"/>
<rect x="220.62" y="13.20" width="1.00" height="1.20" fill="#a8a8a8"/>
<rect x="220.53" y="16.10" width="1.20" height="0.70" fill="#a8a8a8"/>
<rect x="223.25" y="5.70" width="1.30" height="3.50" fill="#aaaaaa"/>
<rect x="223.45" y="10.00" width="0.90" height="4.90" fill="#c8c8c8"/>
<rect x="223.40" y="11.00" width="1.00" height="1.10" fill="#acacac"/>
<rect x="223.40" y="13.20" width="1.00" height="1.20" fill="#a8a8a8"/>
<rect x="223.30" y="16.10" width="1.20" height="0.70" fill="#a8a8a8"/>
<rect x="226.02" y="7.00" width="1.30" height="2.20" fill="#aaaaaa"/>
<rect x="226.22" y="10.00" width="0.90" height="4.90" fill="#c8c8c8"/>
<rect x="226.17" y="11.00" width="1.00" height="1.10" fill="#acacac"/>
<rect x="226.17" y="13.20" width="1.00" height="1.20" fill="#a8a8a8"/>
<rect x="226.07" y="16.10" width="1.20" height="0.70" fill="#a8a8a8"/>
<rect x="228.78" y="6.30" width="1.30" height="2.90" fill="#aaaaaa"/>
<rect x="228.99" y="10.00" width="0.90" height="4.90" fill="#c8c8c8"/>
<rect x="228.94" y="11.00" width="1.00" height="1.10" fill="#acacac"/>
<rect x="228.94" y="13.20" width="1.00" height="1.20" fill="#a8a8a8"/>
<rect x="228.84" y="16.10" width="1.20" height="0.70" fill="#a8a8a8"/>
<rect x="231.56" y="7.00" width="1.30" height="2.20" fill="#aaaaaa"/>
<rect x="231.76" y="10.00" width="0.90" height="4.90" fill="#c8c8c8"/>
<rect x="231.71" y="11.00" width="1.00" height="1.10" fill="#acacac"/>
<rect x="231.71" y="13.20" width="1.00" height="1.20" fill="#a8a8a8"/>
<rect x="231.61" y="16.10" width="1.20" height="0.70" fill="#a8a8a8"/>
<rect x="234.33" y="6.70" width="1.30" height="2.50" fill="#aaaaaa"/>
<rect x="234.53" y="10.00" width="0.90" height="4.90" fill="#c8c8c8"/>
<rect x="234.48" y="11.00" width="1.00" height="1.10" fill="#acacac"/>
<rect x="234.48" y="13.20" width="1.00" height="1.20" fill="#a8a8a8"/>
<rect x="234.38" y="16.10" width="1.20" height="0.70" fill="#a8a8a8"/>
<rect x="237.09" y="6.30" width="1.30" height="2.90" fill="#aaaaaa"/>
<rect x="237.30" y="10.00" width="0.90" height="4.90" fill="#c8c8c8"/>
<rect x="237.25" y="11.00" width="1.00" height="1.10" fill="#acacac"/>
<rect x="237.25" y="13.20" width="1.00" height="1.20" fill="#a8a8a8"/>
<rect x="237.15" y="16.10" width="1.20" height="0.70" fill="#a8a8a8"/>
<rect x="239.87" y="7.30" width="1.30" height="1.90" fill="#aaaaaa"/>
<rect x="240.07" y="10.00" width="0.90" height="4.90" fill="#c8c8c8"/>
<rect x="240.02" y="11.00" width="1.00" height="1.10" fill="#acacac"/>
<rect x="240.02" y="13.20" width="1.00" height="1.20" fill="#a8a8a8"/>
<rect x="239.92" y="16.10" width="1.20" height="0.70" fill="#a8a8a8"/>
<rect x="242.64" y="6.70" width="1.30" height="2.50" fill="#aaaaaa"/>
<rect x="242.84" y="10.00" width="0.90" height="4.90" fill="#c8c8c8"/>
<rect x="242.79" y="11.00" width="1.00" height="1.10" fill="#acacac"/>
<rect x="242.79" y="13.20" width="1.00" height="1.20" fill="#a8a8a8"/>
<rect x="242.69" y="16.10" width="1.20" height="0.70" fill="#a8a8a8"/>
<rect x="245.41" y="6.30" width="1.30" height="2.90" fill="#aaaaaa"/>
<rect x="245.61" y="10.00" width="0.90" height="4.90" fill="#c8c8c8"/>
<rect x="245.56" y="11.00" width="1.00" height="1.10" fill="#acacac"/>
<rect x="245.56" y="13.20" width="1.00" height="1.20" fill="#a8a8a8"/>
<rect x="245.46" y="16.10" width="1.20" height="0.70" fill="#a8a8a8"/>
<rect x="248.18" y="7.00" width="1.30" height="2.20" fill="#aaaaaa"/>
<rect x="248.38" y="10.00" width="0.90" height="4.90" fill="#c8c8c8"/>
<rect x="248.33" y="11.00" width="1.00" height="1.10" fill="#acacac"/>
<rect x="248.33" y="13.20" width="1.00" height="1.20" fill="#a8a8a8"/>
<rect x="248.23" y="16.10" width="1.20" height="0.70" fill="#a8a8a8"/>
<rect x="250.95" y="5.70" width="1.30" height="3.50" fill="#aaaaaa"/>
<rect x="251.15" y="10.00" width="0.90" height="4.90" fill="#c8c8c8"/>
<rect x="251.10" y="11.00" width="1.00" height="1.10" fill="#acacac"/>
<rect x="251.10" y="13.20" width="1.00" height="1.20" fill="#a8a8a8"/>
<rect x="251.00" y="16.10" width="1.20" height="0.70" fill="#a8a8a8"/>
<rect x="253.72" y="5.70" width="1.30" height="3.50" fill="#aaaaaa"/>
<rect x="253.92" y="10.00" width="0.90" height="4.90" fill="#c8c8c8"/>
<rect x="253.87" y="11.00" width="1.00" height="1.10" fill="#acacac"/>
<rect x="253.87" y="13.20" width="1.00" height="1.20" fill="#a8a8a8"/>
<rect x="253.77" y="16.10" width="1.20" height="0.70" fill="#a8a8a8"/>
<rect x="256.49" y="7.00" width="1.30" height="2.20" fill="#aaaaaa"/>
<rect x="256.69" y="10.00" width="0.90" height="4.90" fill="#c8c8c8"/>
<rect x="256.64" y="11.00" width="1.00" height="1.10" fill="#acacac"/>
<rect x="256.64" y="13.20" width="1.00" height="1.20" fill="#a8a8a8"/>
<rect x="256.54" y="16.10" width="1.20" height="0.70" fill="#a8a8a8"/>
<rect x="259.26" y="6.70" width="1.30" height="2.50" fill="#aaaaaa"/>
<rect x="259.46" y="10.00" width="0.90" height="4.90" fill="#c8c8c8"/>
<rect x="259.41" y="11.00" width="1.00" height="1.10" fill="#acacac"/>
<rect x="259.41" y="13.20" width="1.00" height="1.20" fill="#a8a8a8"/>
<rect x="259.31" y="16.10" width="1.20" height="0.70" fill="#a8a8a8"/>
<rect x="262.03" y="6.00" width="1.30" height="3.20" fill="#aaaaaa"/>
<rect x="262.23" y="10.00" width="0.90" height="4.90" fill="#c8c8c8"/>
<rect x="262.18" y="11.00" width="1.00" height="1.10" fill="#acacac"/>
<rect x="262.18" y="13.20" width="1.00" height="1.20" fill="#a8a8a8"/>
<rect x="262.08" y="16.10" width="1.20" height="0.70" fill="#a8a8a8"/>
<rect x="264.80" y="6.30" width="1.30" height="2.90" fill="#aaaaaa"/>
<rect x="265.00" y="10.00" width="0.90" height="4.90" fill="#c8c8c8"/>
<rect x="264.95" y="11.00" width="1.00" height="1.10" fill="#acacac"/>
<rect x="264.95" y="13.20" width="1.00" height="1.20" fill="#a8a8a8"/>
<rect x="264.85" y="16.10" width="1.20" height="0.70" fill="#a8a8a8"/>
<rect x="267.57" y="6.00" width="1.30" height="3.20" fill="#aaaaaa"/>
<rect x="267.77" y="10.00" width="0.90" height="4.90" fill="#c8c8c8"/>
<rect x="267.72" y="11.00" width="1.00" height="1.10" fill="#acacac"/>
<rect x="267.72" y="13.20" width="1.00" height="1.20" fill="#a8a8a8"/>
<rect x="267.62" y="16.10" width="1.20" height="0.70" fill="#a8a8a8"/>
<rect x="270.35" y="6.70" width="1.30" height="2.50" fill="#aaaaaa"/>
<rect x="270.55" y="10.00" width="0.90" height="4.90" fill="#c8c8c8"/>
<rect x="270.50" y="11.00" width="1.00" height="1.10" fill="#acacac"/>
<rect x="270.50" y="13.20" width="1.00" height="1.20" fill="#a8a8a8"/>
<rect x="270.40" y="16.10" width="1.20" height="0.70" fill="#a8a8a8"/>
<rect x="273.14" y="6.70" width="1.30" height="2.50" fill="#aaaaaa"/>
<rect x="273.34" y="10.00" width="0.90" height="4.90" fill="#c8c8c8"/>
<rect x="273.29" y="11.00" width="1.00" height="1.10" fill="#acacac"/>
<rect x="273.29" y="13.20" width="1.00" height="1.20" fill="#a8a8a8"/>
<rect x="273.19" y="16.10" width="1.20" height="0.70" fill="#a8a8a8"/>
<rect x="275.94" y="5.70" width="1.30" height="3.50" fill="#aaaaaa"/>
<rect x="276.14" y="10.00" width="0.90" height="4.90" fill="#c8c8c8"/>
<rect x="276.09" y="11.00" width="1.00" height="1.10" fill="#acacac"/>
<rect x="276.09" y="13.20" width="1.00" height="1.20" fill="#a8a8a8"/>
<rect x="275.99" y="16.10" width="1.20" height="0.70" fill="#a8a8a8"/>
<rect x="278.74" y="7.30" width="1.30" height="1.90" fill="#aaaaaa"/>
<rect x="278.94" y="10.00" width="0.90" height="4.90" fill="#c8c8c8"/>
<rect x="278.89" y="11.00" width="1.00" height="1.10" fill="#acacac"/>
<rect x="278.89" y="13.20" width="1.00" height="1.20" fill="#a8a8a8"/>
<rect x="278.79" y="16.10" width="1.20" height="0.70" fill="#a8a8a8"/>
<rect x="281.53" y="5.70" width="1.30" height="3.50" fill="#aaaaaa"/>
<rect x="281.73" y="10.00" width="0.90" height="4.90" fill="#c8c8c8"/>
<rect x="281.68" y="11.00" width="1.00" height="1.10" fill="#acacac"/>
<rect x="281.68" y="13.20" width="1.00" height="1.20" fill="#a8a8a8"/>
<rect x="281.58" y="16.10" width="1.20" height="0.70" fill="#a8a8a8"/>
<rect x="284.33" y="7.00" width="1.30" height="2.20" fill="#aaaaaa"/>
<rect x="284.53" y="10.00" width="0.90" height="4.90" fill="#c8c8c8"/>
<rect x="284.48" y="11.00" width="1.00" height="1.10" fill="#acacac"/>
<rect x="284.48" y="13.20" width="1.00" height="1.20" fill="#a8a8a8"/>
<rect x="284.38" y="16.10" width="1.20" height="0.70" fill="#a8a8a8"/>
<rect x="287.13" y="7.00" width="1.30" height="2.20" fill="#aaaaaa"/>
<rect x="287.33" y="10.00" width="0.90" height="4.90" fill="#c8c8c8"/>
<rect x="287.28" y="11.00" width="1.00" height="1.10" fill="#acacac"/>
<rect x="287.28" y="13.20" width="1.00" height="1.20" fill="#a8a8a8"/>
<rect x="287.18" y="16.10" width="1.20" height="0.70" fill="#a8a8a8"/>
<rect x="289.92" y="6.30" width="1.30" height="2.90" fill="#aaaaaa"/>
<rect x="290.12" y="10.00" width="0.90" height="4.90" fill="#c8c8c8"/>
<rect x="290.07" y="11.00" width="1.00" height="1.10" fill="#acacac"/>
<rect x="290.07" y="13.20" width="1.00" height="1.20" fill="#a8a8a8"/>
<rect x="289.97" y="16.10" width="1.20" height="0.70" fill="#a8a8a8"/>
<rect x="292.72" y="6.30" width="1.30" height="2.90" fill="#aaaaaa"/>
<rect x="292.92" y="10.00" width="0.90" height="4.90" fill="#c8c8c8"/>
<rect x="292.87" y="11.00" width="1.00" height="1.10" fill="#acacac"/>
<rect x="292.87" y="13.20" width="1.00" height="1.20" fill="#a8a8a8"/>
<rect x="292.77" y="16.10" width="1.20" height="0.70" fill="#a8a8a8"/>
<rect x="295.51" y="7.30" width="1.30" height="1.90" fill="#aaaaaa"/>
<rect x="295.71" y="10.00" width="0.90" height="4.90" fill="#c8c8c8"/>
<rect x="295.66" y="11.00" width="1.00" height="1.10" fill="#acacac"/>
<rect x="295.66" y="13.20" width="1.00" height="1.20" fill="#a8a8a8"/>
<rect x="295.56" y="16.10" width="1.20" height="0.70" fill="#a8a8a8"/>
<rect x="298.31" y="6.30" width="1.30" height="2.90" fill="#aaaaaa"/>
<rect x="298.51" y="10.00" width="0.90" height="4.90" fill="#c8c8c8"/>
<rect x="298.46" y="11.00" width="1.00" height="1.10" fill="#acacac"/>
<rect x="298.46" y="13.20" width="1.00" height="1.20" fill="#a8a8a8"/>
<rect x="298.36" y="16.10" width="1.20" height="0.70" fill="#a8a8a8"/>
<rect x="301.11" y="7.00" width="1.30" height="2.20" fill="#aaaaaa"/>
<rect x="301.31" y="10.00" width="0.90" height="4.90" fill="#c8c8c8"/>
<rect x="301.26" y="11.00" width="1.00" height="1.10" fill="#acacac"/>
<rect x="301.26" y="13.20" width="1.00" height="1.20" fill="#a8a8a8"/>
<rect x="301.16" y="16.10" width="1.20" height="0.70" fill="#a8a8a8"/>
<rect x="303.90" y="6.70" width="1.30" height="2.50" fill="#aaaaaa"/>
<rect x="304.10" y="10.00" width="0.90" height="4.90" fill="#c8c8c8"/>
<rect x="304.05" y="11.00" width="1.00" height="1.10" fill="#acacac"/>
<rect x="304.05" y="13.20" width="1.00" height="1.20" fill="#a8a8a8"/>
<rect x="303.95" y="16.10" width="1.20" height="0.70" fill="#a8a8a8"/>
<rect x="306.70" y="7.00" width="1.30" height="2.20" fill="#aaaaaa"/>
<rect x="306.90" y="10.00" width="0.90" height="4.90" fill="#c8c8c8"/>
<rect x="306.85" y="11.00" width="1.00" height="1.10" fill="#acacac"/>
<rect x="306.85" y="13.20" width="1.00" height="1.20" fill="#a8a8a8"/>
<rect x="306.75" y="16.10" width="1.20" height="0.70" fill="#a8a8a8"/>
<rect x="309.49" y="6.70" width="1.30" height="2.50" fill="#aaaaaa"/>
<rect x="309.69" y="10.00" width="0.90" height="4.90" fill="#c8c8c8"/>
<rect x="309.64" y="11.00" width="1.00" height="1.10" fill="#acacac"/>
<rect x="309.64" y="13.20" width="1.00" height="1.20" fill="#a8a8a8"/>
<rect x="309.54" y="16.10" width="1.20" height="0.70" fill="#a8a8a8"/>
<rect x="312.29" y="5.70" width="1.30" height="3.50" fill="#aaaaaa"/>
<rect x="312.49" y="10.00" width="0.90" height="4.90" fill="#c8c8c8"/>
<rect x="312.44" y="11.00" width="1.00" height="1.10" fill="#acacac"/>
<rect x="312.44" y="13.20" width="1.00" height="1.20" fill="#a8a8a8"/>
<rect x="312.34" y="16.10" width="1.20" height="0.70" fill="#a8a8a8"/>
<rect x="315.09" y="5.70" width="1.30" height="3.50" fill="#aaaaaa"/>
<rect x="315.29" y="10.00" width="0.90" height="4.90" fill="#c8c8c8"/>
<rect x="315.24" y="11.00" width="1.00" height="1.10" fill="#acacac"/>
<rect x="315.24" y="13.20" width="1.00" height="1.20" fill="#a8a8a8"/>
<rect x="315.14" y="16.10" width="1.20" height="0.70" fill="#a8a8a8"/>
<rect x="317.88" y="6.30" width="1.30" height="2.90" fill="#aaaaaa"/>
<rect x="318.08" y="10.00" width="0.90" height="4.90" fill="#c8c8c8"/>
<rect x="318.03" y="11.00" width="1.00" height="1.10" fill="#acacac"/>
<rect x="318.03" y="13.20" width="1.00" height="1.20" fill="#a8a8a8"/>
<rect x="317.93" y="16.10" width="1.20" height="0.70" fill="#a8a8a8"/>
<rect x="320.68" y="6.70" width="1.30" height="2.50" fill="#aaaaaa"/>
<rect x="320.88" y="10.00" width="0.90" height="4.90" fill="#c8c8c8"/>
<rect x="320.83" y="11.00" width="1.00" height="1.10" fill="#acacac"/>
<rect x="320.83" y="13.20" width="1.00" height="1.20" fill="#a8a8a8"/>
<rect x="320.73" y="16.10" width="1.20" height="0.70" fill="#a8a8a8"/>
<rect x="323.48" y="7.30" width="1.30" height="1.90" fill="#aaaaaa"/>
<rect x="323.68" y="10.00" width="0.90" height="4.90" fill="#c8c8c8"/>
<rect x="323.62" y="11.00" width="1.00" height="1.10" fill="#acacac"/>
<rect x="323.62" y="13.20" width="1.00" height="1.20" fill="#a8a8a8"/>
<rect x="323.52" y="16.10" width="1.20" height="0.70" fill="#a8a8a8"/>
<rect x="326.27" y="7.30" width="1.30" height="1.90" fill="#aaaaaa"/>
<rect x="326.47" y="10.00" width="0.90" height="4.90" fill="#c8c8c8"/>
<rect x="326.42" y="11.00" width="1.00" height="1.10" fill="#acacac"/>
<rect x="326.42" y="13.20" width="1.00" height="1.20" fill="#a8a8a8"/>
<rect x="326.32" y="16.10" width="1.20" height="0.70" fill="#a8a8a8"/>
<rect x="329.07" y="5.70" width="1.30" height="3.50" fill="#aaaaaa"/>
<rect x="329.27" y="10.00" width="0.90" height="4.90" fill="#c8c8c8"/>
<rect x="329.22" y="11.00" width="1.00" height="1.10" fill="#acacac"/>
<rect x="329.22" y="13.20" width="1.00" height="1.20" fill="#a8a8a8"/>
<rect x="329.12" y="16.10" width="1.20" height="0.70" fill="#a8a8a8"/>
<rect x="331.86" y="5.70" width="1.30" height="3.50" fill="#aaaaaa"/>
<rect x="332.06" y="10.00" width="0.90" height="4.90" fill="#c8c8c8"/>
<rect x="332.01" y="11.00" width="1.00" height="1.10" fill="#acacac"/>
<rect x="332.01" y="13.20" width="1.00" height="1.20" fill="#a8a8a8"/>
<rect x="331.91" y="16.10" width="1.20" height="0.70" fill="#a8a8a8"/>
<rect x="334.66" y="7.30" width="1.30" height="1.90" fill="#aaaaaa"/>
<rect x="334.86" y="10.00" width="0.90" height="4.90" fill="#c8c8c8"/>
<rect x="334.81" y="11.00" width="1.00" height="1.10" fill="#acacac"/>
<rect x="334.81" y="13.20" width="1.00" height="1.20" fill="#a8a8a8"/>
<rect x="334.71" y="16.10" width="1.20" height="0.70" fill="#a8a8a8"/>
<rect x="337.46" y="7.30" width="1.30" height="1.90" fill="#aaaaaa"/>
<rect x="337.66" y="10.00" width="0.90" height="4.90" fill="#c8c8c8"/>
<rect x="337.61" y="11.00" width="1.00" height="1.10" fill="#acacac"/>
<rect x="337.61" y="13.20" width="1.00" height="1.20" fill="#a8a8a8"/>
<rect x="337.51" y="16.10" width="1.20" height="0.70" fill="#a8a8a8"/>
<rect x="340.25" y="6.30" width="1.30" height="2.90" fill="#aaaaaa"/>
<rect x="340.45" y="10.00" width="0.90" height="4.90" fill="#c8c8c8"/>
<rect x="340.40" y="11.00" width="1.00" height="1.10" fill="#acacac"/>
<rect x="340.40" y="13.20" width="1.00" height="1.20" fill="#a8a8a8"/>
<rect x="340.30" y="16.10" width="1.20" height="0.70" fill="#a8a8a8"/>
<rect x="343.03" y="7.30" width="1.30" height="1.90" fill="#aaaaaa"/>
<rect x="343.23" y="10.00" width="0.90" height="4.90" fill="#c8c8c8"/>
<rect x="343.18" y="11.00" width="1.00" height="1.10" fill="#acacac"/>
<rect x="343.18" y="13.20" width="1.00" height="1.20" fill="#a8a8a8"/>
<rect x="343.08" y="16.10" width="1.20" height="0.70" fill="#a8a8a8"/>
<rect x="345.80" y="7.00" width="1.30" height="2.20" fill="#aaaaaa"/>
<rect x="346.00" y="10.00" width="0.90" height="4.90" fill="#c8c8c8"/>
<rect x="345.95" y="11.00" width="1.00" height="1.10" fill="#acacac"/>
<rect x="345.95" y="13.20" width="1.00" height="1.20" fill="#a8a8a8"/>
<rect x="345.85" y="16.10" width="1.20" height="0.70" fill="#a8a8a8"/>
<rect x="348.57" y="7.30" width="1.30" height="1.90" fill="#aaaaaa"/>
<rect x="348.77" y="10.00" width="0.90" height="4.90" fill="#c8c8c8"/>
<rect x="348.72" y="11.00" width="1.00" height="1.10" fill="#acacac"/>
<rect x="348.72" y="13.20" width="1.00" height="1.20" fill="#a8a8a8"/>
<rect x="348.62" y="16.10" width="1.20" height="0.70" fill="#a8a8a8"/>
<rect x="351.34" y="6.70" width="1.30" height="2.50" fill="#aaaaaa"/>
<rect x="351.54" y="10.00" width="0.90" height="4.90" fill="#c8c8c8"/>
<rect x="351.49" y="11.00" width="1.00" height="1.10" fill="#acacac"/>
<rect x="351.49" y="13.20" width="1.00" height="1.20" fill="#a8a8a8"/>
<rect x="351.39" y="16.10" width="1.20" height="0.70" fill="#a8a8a8"/>
<rect x="354.11" y="6.30" width="1.30" height="2.90" fill="#aaaaaa"/>
<rect x="354.31" y="10.00" width="0.90" height="4.90" fill="#c8c8c8"/>
<rect x="354.26" y="11.00" width="1.00" height="1.10" fill="#acacac"/>
<rect x="354.26" y="13.20" width="1.00" height="1.20" fill="#a8a8a8"/>
<rect x="354.16" y="16.10" width="1.20" height="0.70" fill="#a8a8a8"/>
<rect x="356.87" y="7.30" width="1.30" height="1.90" fill="#aaaaaa"/>
<rect x="357.07" y="10.00" width="0.90" height="4.90" fill="#c8c8c8"/>
<rect x="357.02" y="11.00" width="1.00" height="1.10" fill="#acacac"/>
<rect x="357.02" y="13.20" width="1.00" height="1.20" fill="#a8a8a8"/>
<rect x="356.92" y="16.10" width="1.20" height="0.70" fill="#a8a8a8"/>
<rect x="359.64" y="6.70" width="1.30" height="2.50" fill="#aaaaaa"/>
<rect x="359.84" y="10.00" width="0.90" height="4.90" fill="#c8c8c8"/>
<rect x="359.79" y="11.00" width="1.00" height="1.10" fill="#acacac"/>
<rect x="359.79" y="13.20" width="1.00" height="1.20" fill="#a8a8a8"/>
<rect x="359.69" y="16.10" width="1.20" height="0.70" fill="#a8a8a8"/>
<rect x="362.41" y="7.30" width="1.30" height="1.90" fill="#aaaaaa"/>
<rect x="362.61" y="10.00" width="0.90" height="4.90" fill="#c8c8c8"/>
<rect x="362.56" y="11.00" width="1.00" height="1.10" fill="#acacac"/>
<rect x="362.56" y="13.20" width="1.00" height="1.20" fill="#a8a8a8"/>
<rect x="362.46" y="16.10" width="1.20" height="0.70" fill="#a8a8a8"/>
<rect x="365.18" y="6.30" width="1.30" height="2.90" fill="#aaaaaa"/>
<rect x="365.38" y="10.00" width="0.90" height="4.90" fill="#c8c8c8"/>
<rect x="365.33" y="11.00" width="1.00" height="1.10" fill="#acacac"/>
<rect x="365.33" y="13.20" width="1.00" height="1.20" fill="#a8a8a8"/>
<rect x="365.23" y="16.10" width="1.20" height="0.70" fill="#a8a8a8"/>
<rect x="367.95" y="5.70" width="1.30" height="3.50" fill="#aaaaaa"/>
<rect x="368.15" y="10.00" width="0.90" height="4.90" fill="#c8c8c8"/>
<rect x="368.10" y="11.00" width="1.00" height="1.10" fill="#acacac"/>
<rect x="368.10" y="13.20" width="1.00" height="1.20" fill="#a8a8a8"/>
<rect x="368.00" y="16.10" width="1.20" height="0.70" fill="#a8a8a8"/>
<rect x="370.71" y="6.70" width="1.30" height="2.50" fill="#aaaaaa"/>
<rect x="370.91" y="10.00" width="0.90" height="4.90" fill="#c8c8c8"/>
<rect x="370.86" y="11.00" width="1.00" height="1.10" fill="#acacac"/>
<rect x="370.86" y="13.20" width="1.00" height="1.20" fill="#a8a8a8"/>
<rect x="370.76" y="16.10" width="1.20" height="0.70" fill="#a8a8a8"/>
<rect x="373.48" y="6.30" width="1.30" height="2.90" fill="#aaaaaa"/>
<rect x="373.68" y="10.00" width="0.90" height="4.90" fill="#c8c8c8"/>
<rect x="373.63" y="11.00" width="1.00" height="1.10" fill="#acacac"/>
<rect x="373.63" y="13.20" width="1.00" height="1.20" fill="#a8a8a8"/>
<rect x="373.53" y="16.10" width="1.20" height="0.70" fill="#a8a8a8"/>
<rect x="376.25" y="6.00" width="1.30" height="3.20" fill="#aaaaaa"/>
<rect x="376.45" y="10.00" width="0.90" height="4.90" fill="#c8c8c8"/>
<rect x="376.40" y="11.00" width="1.00" height="1.10" fill="#acacac"/>
<rect x="376.40" y="13.20" width="1.00" height="1.20" fill="#a8a8a8"/>
<rect x="376.30" y="16.10" width="1.20" height="0.70" fill="#a8a8a8"/>
<rect x="379.02" y="7.00" width="1.30" height="2.20" fill="#aaaaaa"/>
<rect x="379.22" y="10.00" width="0.90" height="4.90" fill="#c8c8c8"/>
<rect x="379.17" y="11.00" width="1.00" height="1.10" fill="#acacac"/>
<rect x="379.17" y="13.20" width="1.00" height="1.20" fill="#a8a8a8"/>
<rect x="379.07" y="16.10" width="1.20" height="0.70" fill="#a8a8a8"/>
<rect x="381.79" y="5.70" width="1.30" height="3.50" fill="#aaaaaa"/>
<rect x="381.99" y="10.00" width="0.90" height="4.90" fill="#c8c8c8"/>
<rect x="381.94" y="11.00" width="1.00" height="1.10" fill="#acacac"/>
<rect x="381.94" y="13.20" width="1.00" height="1.20" fill="#a8a8a8"/>
<rect x="381.84" y="16.10" width="1.20" height="0.70" fill="#a8a8a8"/>
<rect x="384.55" y="6.70" width="1.30" height="2.50" fill="#aaaaaa"/>
<rect x="384.75" y="10.00" width="0.90" height="4.90" fill="#c8c8c8"/>
<rect x="384.70" y="11.00" width="1.00" height="1.10" fill="#acacac"/>
<rect x="384.70" y="13.20" width="1.00" height="1.20" fill="#a8a8a8"/>
<rect x="384.60" y="16.10" width="1.20" height="0.70" fill="#a8a8a8"/>
<rect x="387.32" y="5.70" width="1.30" height="3.50" fill="#aaaaaa"/>
<rect x="387.52" y="10.00" width="0.90" height="4.90" fill="#c8c8c8"/>
<rect x="387.47" y="11.00" width="1.00" height="1.10" fill="#acacac"/>
<rect x="387.47" y="13.20" width="1.00" height="1.20" fill="#a8a8a8"/>
<rect x="387.37" y="16.10" width="1.20" height="0.70" fill="#a8a8a8"/>
<rect x="390.09" y="6.00" width="1.30" height="3.20" fill="#aaaaaa"/>
<rect x="390.29" y="10.00" width="0.90" height="4.90" fill="#c8c8c8"/>
<rect x="390.24" y="11.00" width="1.00" height="1.10" fill="#acacac"/>
<rect x="390.24" y="13.20" width="1.00" height="1.20" fill="#a8a8a8"/>
<rect x="390.14" y="16.10" width="1.20" height="0.70" fill="#a8a8a8"/>
<rect x="392.86" y="6.30" width="1.30" height="2.90" fill="#aaaaaa"/>
<rect x="393.06" y="10.00" width="0.90" height="4.90" fill="#c8c8c8"/>
<rect x="393.01" y="11.00" width="1.00" height="1.10" fill="#acacac"/>
<rect x="393.01" y="13.20" width="1.00" height="1.20" fill="#a8a8a8"/>
<rect x="392.91" y="16.10" width="1.20" height="0.70" fill="#a8a8a8"/>
<rect x="395.63" y="6.00" width="1.30" height="3.20" fill="#aaaaaa"/>
<rect x="395.83" y="10.00" width="0.90" height="4.90" fill="#c8c8c8"/>
<rect x="395.78" y="11.00" width="1.00" height="1.10" fill="#acacac"/>
<rect x="395.78" y="13.20" width="1.00" height="1.20" fill="#a8a8a8"/>
<rect x="395.68" y="16.10" width="1.20" height="0.70" fill="#a8a8a8"/>
<rect x="398.39" y="7.30" width="1.30" height="1.90" fill="#aaaaaa"/>
<rect x="398.59" y="10.00" width="0.90" height="4.90" fill="#c8c8c8"/>
<rect x="398.54" y="11.00" width="1.00" height="1.10" fill="#acacac"/>
<rect x="398.54" y="13.20" width="1.00" height="1.20" fill="#a8a8a8"/>
<rect x="398.44" y="16.10" width="1.20" height="0.70" fill="#a8a8a8"/>
<rect x="401.16" y="6.00" width="1.30" height="3.20" fill="#aaaaaa"/>
<rect x="401.36" y="10.00" width="0.90" height="4.90" fill="#c8c8c8"/>
<rect x="401.31" y="11.00" width="1.00" height="1.10" fill="#acacac"/>
<rect x="401.31" y="13.20" width="1.00" height="1.20" fill="#a8a8a8"/>
<rect x="401.21" y="16.10" width="1.20" height="0.70" fill="#a8a8a8"/>
<rect x="403.93" y="6.70" width="1.30" height="2.50" fill="#aaaaaa"/>
<rect x="404.13" y="10.00" width="0.90" height="4.90" fill="#c8c8c8"/>
<rect x="404.08" y="11.00" width="1.00" height="1.10" fill="#acacac"/>
<rect x="404.08" y="13.20" width="1.00" height="1.20" fill="#a8a8a8"/>
<rect x="403.98" y="16.10" width="1.20" height="0.70" fill="#a8a8a8"/>
<rect x="406.70" y="6.70" width="1.30" height="2.50" fill="#aaaaaa"/>
<rect x="406.90" y="10.00" width="0.90" height="4.90" fill="#c8c8c8"/>
<rect x="406.85" y="11.00" width="1.00" height="1.10" fill="#acacac"/>
<rect x="406.85" y="13.20" width="1.00" height="1.20" fill="#a8a8a8"/>
<rect x="406.75" y="16.10" width="1.20" height="0.70" fill="#a8a8a8"/>
<rect x="409.47" y="6.70" width="1.30" height="2.50" fill="#aaaaaa"/>
<rect x="409.67" y="10.00" width="0.90" height="4.90" fill="#c8c8c8"/>
<rect x="409.62" y="11.00" width="1.00" height="1.10" fill="#acacac"/>
<rect x="409.62" y="13.20" width="1.00" height="1.20" fill="#a8a8a8"/>
<rect x="409.52" y="16.10" width="1.20" height="0.70" fill="#a8a8a8"/>
<rect x="412.23" y="5.70" width="1.30" height="3.50" fill="#aaaaaa"/>
<rect x="412.43" y="10.00" width="0.90" height="4.90" fill="#c8c8c8"/>
<rect x="412.38" y="11.00" width="1.00" height="1.10" fill="#acacac"/>
<rect x="412.38" y="13.20" width="1.00" height="1.20" fill="#a8a8a8"/>
<rect x="412.28" y="16.10" width="1.20" height="0.70" fill="#a8a8a8"/>
<rect x="415.00" y="6.00" width="1.30" height="3.20" fill="#aaaaaa"/>
<rect x="415.20" y="10.00" width="0.90" height="4.90" fill="#c8c8c8"/>
<rect x="415.15" y="11.00" width="1.00" height="1.10" fill="#acacac"/>
<rect x="415.15" y="13.20" width="1.00" height="1.20" fill="#a8a8a8"/>
<rect x="415.05" y="16.10" width="1.20" height="0.70" fill="#a8a8a8"/>
<rect x="417.77" y="6.70" width="1.30" height="2.50" fill="#aaaaaa"/>
<rect x="417.97" y="10.00" width="0.90" height="4.90" fill="#c8c8c8"/>
<rect x="417.92" y="11.00" width="1.00" height="1.10" fill="#acacac"/>
<rect x="417.92" y="13.20" width="1.00" height="1.20" fill="#a8a8a8"/>
<rect x="417.82" y="16.10" width="1.20" height="0.70" fill="#a8a8a8"/>
<rect x="420.54" y="6.70" width="1.30" height="2.50" fill="#aaaaaa"/>
<rect x="420.74" y="10.00" width="0.90" height="4.90" fill="#c8c8c8"/>
<rect x="420.69" y="11.00" width="1.00" height="1.10" fill="#acacac"/>
<rect x="420.69" y="13.20" width="1.00" height="1.20" fill="#a8a8a8"/>
<rect x="420.59" y="16.10" width="1.20" height="0.70" fill="#a8a8a8"/>
<rect x="423.31" y="7.00" width="1.30" height="2.20" fill="#aaaaaa"/>
<rect x="423.51" y="10.00" width="0.90" height="4.90" fill="#c8c8c8"/>
<rect x="423.46" y="11.00" width="1.00" height="1.10" fill="#acacac"/>
<rect x="423.46" y="13.20" width="1.00" height="1.20" fill="#a8a8a8"/>
<rect x="423.36" y="16.10" width="1.20" height="0.70" fill="#a8a8a8"/>
<rect x="426.07" y="6.30" width="1.30" height="2.90" fill="#aaaaaa"/>
<rect x="426.27" y="10.00" width="0.90" height="4.90" fill="#c8c8c8"/>
<rect x="426.22" y="11.00" width="1.00" height="1.10" fill="#acacac"/>
<rect x="426.22" y="13.20" width="1.00" height="1.20" fill="#a8a8a8"/>
<rect x="426.12" y="16.10" width="1.20" height="0.70" fill="#a8a8a8"/>
<rect x="428.84" y="6.00" width="1.30" height="3.20" fill="#aaaaaa"/>
<rect x="429.04" y="10.00" width="0.90" height="4.90" fill="#c8c8c8"/>
<rect x="428.99" y="11.00" width="1.00" height="1.10" fill="#acacac"/>
<rect x="428.99" y="13.20" width="1.00" height="1.20" fill="#a8a8a8"/>
<rect x="428.89" y="16.10" width="1.20" height="0.70" fill="#a8a8a8"/>
<rect x="431.61" y="6.70" width="1.30" height="2.50" fill="#aaaaaa"/>
<rect x="431.81" y="10.00" width="0.90" height="4.90" fill="#c8c8c8"/>
<rect x="431.76" y="11.00" width="1.00" height="1.10" fill="#acacac"/>
<rect x="431.76" y="13.20" width="1.00" height="1.20" fill="#a8a8a8"/>
<rect x="431.66" y="16.10" width="1.20" height="0.70" fill="#a8a8a8"/>
<rect x="434.38" y="7.00" width="1.30" height="2.20" fill="#aaaaaa"/>
<rect x="434.58" y="10.00" width="0.90" height="4.90" fill="#c8c8c8"/>
<rect x="434.53" y="11.00" width="1.00" height="1.10" fill="#acacac"/>
<rect x="434.53" y="13.20" width="1.00" height="1.20" fill="#a8a8a8"/>
<rect x="434.43" y="16.10" width="1.20" height="0.70" fill="#a8a8a8"/>
<rect x="437.15" y="6.30" width="1.30" height="2.90" fill="#aaaaaa"/>
<rect x="437.35" y="10.00" width="0.90" height="4.90" fill="#c8c8c8"/>
<rect x="437.30" y="11.00" width="1.00" height="1.10" fill="#acacac"/>
<rect x="437.30" y="13.20" width="1.00" height="1.20" fill="#a8a8a8"/>
<rect x="437.20" y="16.10" width="1.20" height="0.70" fill="#a8a8a8"/>
<rect x="439.91" y="7.30" width="1.30" height="1.90" fill="#aaaaaa"/>
<rect x="440.11" y="10.00" width="0.90" height="4.90" fill="#c8c8c8"/>
<rect x="440.06" y="11.00" width="1.00" height="1.10" fill="#acacac"/>
<rect x="440.06" y="13.20" width="1.00" height="1.20" fill="#a8a8a8"/>
<rect x="439.96" y="16.10" width="1.20" height="0.70" fill="#a8a8a8"/>
<rect x="442.68" y="6.70" width="1.30" height="2.50" fill="#aaaaaa"/>
<rect x="442.88" y="10.00" width="0.90" height="4.90" fill="#c8c8c8"/>
<rect x="442.83" y="11.00" width="1.00" height="1.10" fill="#acacac"/>
<rect x="442.83" y="13.20" width="1.00" height="1.20" fill="#a8a8a8"/>
<rect x="442.73" y="16.10" width="1.20" height="0.70" fill="#a8a8a8"/>
<rect x="445.45" y="6.30" width="1.30" height="2.90" fill="#aaaaaa"/>
<rect x="445.65" y="10.00" width="0.90" height="4.90" fill="#c8c8c8"/>
<rect x="445.60" y="11.00" width="1.00" height="1.10" fill="#acacac"/>
<rect x="445.60" y="13.20" width="1.00" height="1.20" fill="#a8a8a8"/>
<rect x="445.50" y="16.10" width="1.20" height="0.70" fill="#a8a8a8"/>
<rect x="448.22" y="7.30" width="1.30" height="1.90" fill="#aaaaaa"/>
<rect x="448.42" y="10.00" width="0.90" height="4.90" fill="#c8c8c8"/>
<rect x="448.37" y="11.00" width="1.00" height="1.10" fill="#acacac"/>
<rect x="448.37" y="13.20" width="1.00" height="1.20" fill="#a8a8a8"/>
<rect x="448.27" y="16.10" width="1.20" height="0.70" fill="#a8a8a8"/>
<rect x="450.99" y="6.70" width="1.30" height="2.50" fill="#aaaaaa"/>
<rect x="451.19" y="10.00" width="0.90" height="4.90" fill="#c8c8c8"/>
<rect x="451.14" y="11.00" width="1.00" height="1.10" fill="#acacac"/>
<rect x="451.14" y="13.20" width="1.00" height="1.20" fill="#a8a8a8"/>
<rect x="451.04" y="16.10" width="1.20" height="0.70" fill="#a8a8a8"/>
<rect x="453.75" y="6.00" width="1.30" height="3.20" fill="#aaaaaa"/>
<rect x="453.95" y="10.00" width="0.90" height="4.90" fill="#c8c8c8"/>
<rect x="453.90" y="11.00" width="1.00" height="1.10" fill="#acacac"/>
<rect x="453.90" y="13.20" width="1.00" height="1.20" fill="#a8a8a8"/>
<rect x="453.80" y="16.10" width="1.20" height="0.70" fill="#a8a8a8"/>
<rect x="456.52" y="6.00" width="1.30" height="3.20" fill="#aaaaaa"/>
<rect x="456.72" y="10.00" width="0.90" height="4.90" fill="#c8c8c8"/>
<rect x="456.67" y="11.00" width="1.00" height="1.10" fill="#acacac"/>
<rect x="456.67" y="13.20" width="1.00" height="1.20" fill="#a8a8a8"/>
<rect x="456.57" y="16.10" width="1.20" height="0.70" fill="#a8a8a8"/>
<rect x="459.29" y="5.70" width="1.30" height="3.50" fill="#aaaaaa"/>
<rect x="459.49" y="10.00" width="0.90" height="4.90" fill="#c8c8c8"/>
<rect x="459.44" y="11.00" width="1.00" height="1.10" fill="#acacac"/>
<rect x="459.44" y="13.20" width="1.00" height="1.20" fill="#a8a8a8"/>
<rect x="459.34" y="16.10" width="1.20" height="0.70" fill="#a8a8a8"/>
<rect x="462.06" y="6.00" width="1.30" height="3.20" fill="#aaaaaa"/>
<rect x="462.26" y="10.00" width="0.90" height="4.90" fill="#c8c8c8"/>
<rect x="462.21" y="11.00" width="1.00" height="1.10" fill="#acacac"/>
<rect x="462.21" y="13.20" width="1.00" height="1.20" fill="#a8a8a8"/>
<rect x="462.11" y="16.10" width="1.20" height="0.70" fill="#a8a8a8"/>
<rect x="464.83" y="6.00" width="1.30" height="3.20" fill="#aaaaaa"/>
<rect x="465.03" y="10.00" width="0.90" height="4.90" fill="#c8c8c8"/>
<rect x="464.98" y="11.00" width="1.00" height="1.10" fill="#acacac"/>
<rect x="464.98" y="13.20" width="1.00" height="1.20" fill="#a8a8a8"/>
<rect x="464.88" y="16.10" width="1.20" height="0.70" fill="#a8a8a8"/>
<rect x="467.59" y="6.00" width="1.30" height="3.20" fill="#aaaaaa"/>
<rect x="467.79" y="10.00" width="0.90" height="4.90" fill="#c8c8c8"/>
<rect x="467.74" y="11.00" width="1.00" height="1.10" fill="#acacac"/>
<rect x="467.74" y="13.20" width="1.00" height="1.20" fill="#a8a8a8"/>
<rect x="467.64" y="16.10" width="1.20" height="0.70" fill="#a8a8a8"/>
<rect x="470.36" y="7.30" width="1.30" height="1.90" fill="#aaaaaa"/>
<rect x="470.56" y="10.00" width="0.90" height="4.90" fill="#c8c8c8"/>
<rect x="470.51" y="11.00" width="1.00" height="1.10" fill="#acacac"/>
<rect x="470.51" y="13.20" width="1.00" height="1.20" fill="#a8a8a8"/>
<rect x="470.41" y="16.10" width="1.20" height="0.70" fill="#a8a8a8"/>
<rect x="473.13" y="6.00" width="1.30" height="3.20" fill="#aaaaaa"/>
<rect x="473.33" y="10.00" width="0.90" height="4.90" fill="#c8c8c8"/>
<rect x="473.28" y="11.00" width="1.00" height="1.10" fill="#acacac"/>
<rect x="473.28" y="13.20" width="1.00" height="1.20" fill="#a8a8a8"/>
<rect x="473.18" y="16.10" width="1.20" height="0.70" fill="#a8a8a8"/>
<rect x="475.90" y="5.70" width="1.30" height="3.50" fill="#aaaaaa"/>
<rect x="476.10" y="10.00" width="0.90" height="4.90" fill="#c8c8c8"/>
<rect x="476.05" y="11.00" width="1.00" height="1.10" fill="#acacac"/>
<rect x="476.05" y="13.20" width="1.00" height="1.20" fill="#a8a8a8"/>
<rect x="475.95" y="16.10" width="1.20" height="0.70" fill="#a8a8a8"/>
<rect x="478.67" y="6.70" width="1.30" height="2.50" fill="#aaaaaa"/>
<rect x="478.87" y="10.00" width="0.90" height="4.90" fill="#c8c8c8"/>
<rect x="478.82" y="11.00" width="1.00" height="1.10" fill="#acacac"/>
<rect x="478.82" y="13.20" width="1.00" height="1.20" fill="#a8a8a8"/>
<rect x="478.72" y="16.10" width="1.20" height="0.70" fill="#a8a8a8"/>
<rect x="481.46" y="7.00" width="1.30" height="2.20" fill="#aaaaaa"/>
<rect x="481.66" y="10.00" width="0.90" height="4.90" fill="#c8c8c8"/>
<rect x="481.61" y="11.00" width="1.00" height="1.10" fill="#acacac"/>
<rect x="481.61" y="13.20" width="1.00" height="1.20" fill="#a8a8a8"/>
<rect x="481.51" y="16.10" width="1.20" height="0.70" fill="#a8a8a8"/>
<rect x="484.27" y="6.00" width="1.30" height="3.20" fill="#aaaaaa"/>
<rect x="484.47" y="10.00" width="0.90" height="4.90" fill="#c8c8c8"/>
<rect x="484.42" y="11.00" width="1.00" height="1.10" fill="#acacac"/>
<rect x="484.42" y="13.20" width="1.00" height="1.20" fill="#a8a8a8"/>
<rect x="484.32" y="16.10" width="1.20" height="0.70" fill="#a8a8a8"/>
<rect x="487.09" y="6.30" width="1.30" height="2.90" fill="#aaaaaa"/>
<rect x="487.29" y="10.00" width="0.90" height="4.90" fill="#c8c8c8"/>
<rect x="487.24" y="11.00" width="1.00" height="1.10" fill="#acacac"/>
<rect x="487.24" y="13.20" width="1.00" height="1.20" fill="#a8a8a8"/>
<rect x="487.14" y="16.10" width="1.20" height="0.70" fill="#a8a8a8"/>
<rect x="489.90" y="6.30" width="1.30" height="2.90" fill="#aaaaaa"/>
<rect x="490.10" y="10.00" width="0.90" height="4.90" fill="#c8c8c8"/>
<rect x="490.05" y="11.00" width="1.00" height="1.10" fill="#acacac"/>
<rect x="490.05" y="13.20" width="1.00" height="1.20" fill="#a8a8a8"/>
<rect x="489.95" y="16.10" width="1.20" height="0.70" fill="#a8a8a8"/>
<rect x="492.71" y="5.70" width="1.30" height="3.50" fill="#aaaaaa"/>
<rect x="492.91" y="10.00" width="0.90" height="4.90" fill="#c8c8c8"/>
<rect x="492.86" y="11.00" width="1.00" height="1.10" fill="#acacac"/>
<rect x="492.86" y="13.20" width="1.00" height="1.20" fill="#a8a8a8"/>
<rect x="492.76" y="16.10" width="1.20" height="0.70" fill="#a8a8a8"/>
<rect x="495.53" y="6.00" width="1.30" height="3.20" fill="#aaaaaa"/>
<rect x="495.73" y="10.00" width="0.90" height="4.90" fill="#c8c8c8"/>
<rect x="495.68" y="11.00" width="1.00" height="1.10" fill="#acacac"/>
<rect x="495.68" y="13.20" width="1.00" height="1.20" fill="#a8a8a8"/>
<rect x="495.58" y="16.10" width="1.20" height="0.70" fill="#a8a8a8"/>
<rect x="498.34" y="6.70" width="1.30" height="2.50" fill="#aaaaaa"/>
<rect x="498.54" y="10.00" width="0.90" height="4.90" fill="#c8c8c8"/>
<rect x="498.49" y="11.00" width="1.00" height="1.10" fill="#acacac"/>
<rect x="498.49" y="13.20" width="1.00" height="1.20" fill="#a8a8a8"/>
<rect x="498.39" y="16.10" width="1.20" height="0.70" fill="#a8a8a8"/>
<rect x="501.13" y="7.00" width="1.30" height="2.20" fill="#aaaaaa"/>
<rect x="501.33" y="10.00" width="0.90" height="4.90" fill="#c8c8c8"/>
<rect x="501.28" y="11.00" width="1.00" height="1.10" fill="#acacac"/>
<rect x="501.28" y="13.20" width="1.00" height="1.20" fill="#a8a8a8"/>
<rect x="501.18" y="16.10" width="1.20" height="0.70" fill="#a8a8a8"/>
<rect x="503.88" y="6.30" width="1.30" height="2.90" fill="#aaaaaa"/>
<rect x="504.08" y="10.00" width="0.90" height="4.90" fill="#c8c8c8"/>
<rect x="504.03" y="11.00" width="1.00" height="1.10" fill="#acacac"/>
<rect x="504.03" y="13.20" width="1.00" height="1.20" fill="#a8a8a8"/>
<rect x="503.93" y="16.10" width="1.20" height="0.70" fill="#a8a8a8"/>
<rect x="506.63" y="7.00" width="1.30" height="2.20" fill="#aaaaaa"/>
<rect x="506.83" y="10.00" width="0.90" height="4.90" fill="#c8c8c8"/>
<rect x="506.78" y="11.00" width="1.00" height="1.10" fill="#acacac"/>
<rect x="506.78" y="13.20" width="1.00" height="1.20" fill="#a8a8a8"/>
<rect x="506.68" y="16.10" width="1.20" height="0.70" fill="#a8a8a8"/>
<rect x="509.39" y="7.00" width="1.30" height="2.20" fill="#aaaaaa"/>
<rect x="509.59" y="10.00" width="0.90" height="4.90" fill="#c8c8c8"/>
<rect x="509.54" y="11.00" width="1.00" height="1.10" fill="#acacac"/>
<rect x="509.54" y="13.20" width="1.00" height="1.20" fill="#a8a8a8"/>
<rect x="509.44" y="16.10" width="1.20" height="0.70" fill="#a8a8a8"/>
<rect x="512.14" y="6.30" width="1.30" height="2.90" fill="#aaaaaa"/>
<rect x="512.34" y="10.00" width="0.90" height="4.90" fill="#c8c8c8"/>
<rect x="512.29" y="11.00" width="1.00" height="1.10" fill="#acacac"/>
<rect x="512.29" y="13.20" width="1.00" height="1.20" fill="#a8a8a8"/>
<rect x="512.19" y="16.10" width="1.20" height="0.70" fill="#a8a8a8"/>
<rect x="514.89" y="6.00" width="1.30" height="3.20" fill="#aaaaaa"/>
<rect x="515.09" y="10.00" width="0.90" height="4.90" fill="#c8c8c8"/>
<rect x="515.04" y="11.00" width="1.00" height="1.10" fill="#acacac"/>
<rect x="515.04" y="13.20" width="1.00" height="1.20" fill="#a8a8a8"/>
<rect x="514.94" y="16.10" width="1.20" height="0.70" fill="#a8a8a8"/>
<rect x="517.65" y="7.30" width="1.30" height="1.90" fill="#aaaaaa"/>
<rect x="517.85" y="10.00" width="0.90" height="4.90" fill="#c8c8c8"/>
<rect x="517.80" y="11.00" width="1.00" height="1.10" fill="#acacac"/>
<rect x="517.80" y="13.20" width="1.00" height="1.20" fill="#a8a8a8"/>
<rect x="517.70" y="16.10" width="1.20" height="0.70" fill="#a8a8a8"/>
<rect x="520.40" y="7.00" width="1.30" height="2.20" fill="#aaaaaa"/>
<rect x="520.60" y="10.00" width="0.90" height="4.90" fill="#c8c8c8"/>
<rect x="520.55" y="11.00" width="1.00" height="1.10" fill="#acacac"/>
<rect x="520.55" y="13.20" width="1.00" height="1.20" fill="#a8a8a8"/>
<rect x="520.45" y="16.10" width="1.20" height="0.70" fill="#a8a8a8"/>
<rect x="523.15" y="7.00" width="1.30" height="2.20" fill="#aaaaaa"/>
<rect x="523.35" y="10.00" width="0.90" height="4.90" fill="#c8c8c8"/>
<rect x="523.30" y="11.00" width="1.00" height="1.10" fill="#acacac"/>
<rect x="523.30" y="13.20" width="1.00" height="1.20" fill="#a8a8a8"/>
<rect x="523.20" y="16.10" width="1.20" height="0.70" fill="#a8a8a8"/>
<rect x="525.90" y="7.30" width="1.30" height="1.90" fill="#aaaaaa"/>
<rect x="526.10" y="10.00" width="0.90" height="4.90" fill="#c8c8c8"/>
<rect x="526.05" y="11.00" width="1.00" height="1.10" fill="#acacac"/>
<rect x="526.05" y="13.20" width="1.00" height="1.20" fill="#a8a8a8"/>
<rect x="525.95" y="16.10" width="1.20" height="0.70" fill="#a8a8a8"/>
<rect x="528.66" y="7.30" width="1.30" height="1.90" fill="#aaaaaa"/>
<rect x="528.86" y="10.00" width="0.90" height="4.90" fill="#c8c8c8"/>
<rect x="528.81" y="11.00" width="1.00" height="1.10" fill="#acacac"/>
<rect x="528.81" y="13.20" width="1.00" height="1.20" fill="#a8a8a8"/>
<rect x="528.71" y="16.10" width="1.20" height="0.70" fill="#a8a8a8"/>
<rect x="531.41" y="7.30" width="1.30" height="1.90" fill="#aaaaaa"/>
<rect x="531.61" y="10.00" width="0.90" height="4.90" fill="#c8c8c8"/>
<rect x="531.56" y="11.00" width="1.00" height="1.10" fill="#acacac"/>
<rect x="531.56" y="13.20" width="1.00" height="1.20" fill="#a8a8a8"/>
<rect x="531.46" y="16.10" width="1.20" height="0.70" fill="#a8a8a8"/>
<rect x="534.16" y="5.70" width="1.30" height="3.50" fill="#aaaaaa"/>
<rect x="534.36" y="10.00" width="0.90" height="4.90" fill="#c8c8c8"/>
<rect x="534.31" y="11.00" width="1.00" height="1.10" fill="#acacac"/>
<rect x="534.31" y="13.20" width="1.00" height="1.20" fill="#a8a8a8"/>
<rect x="534.21" y="16.10" width="1.20" height="0.70" fill="#a8a8a8"/>
<rect x="536.92" y="6.70" width="1.30" height="2.50" fill="#aaaaaa"/>
<rect x="537.12" y="10.00" width="0.90" height="4.90" fill="#c8c8c8"/>
<rect x="537.07" y="11.00" width="1.00" height="1.10" fill="#acacac"/>
<rect x="537.07" y="13.20" width="1.00" height="1.20" fill="#a8a8a8"/>
<rect x="536.97" y="16.10" width="1.20" height="0.70" fill="#a8a8a8"/>
<rect x="539.67" y="7.30" width="1.30" height="1.90" fill="#aaaaaa"/>
<rect x="539.87" y="10.00" width="0.90" height="4.90" fill="#c8c8c8"/>
<rect x="539.82" y="11.00" width="1.00" height="1.10" fill="#acacac"/>
<rect x="539.82" y="13.20" width="1.00" height="1.20" fill="#a8a8a8"/>
<rect x="539.72" y="16.10" width="1.20" height="0.70" fill="#a8a8a8"/>
<rect x="542.42" y="7.00" width="1.30" height="2.20" fill="#aaaaaa"/>
<rect x="542.62" y="10.00" width="0.90" height="4.90" fill="#c8c8c8"/>
<rect x="542.57" y="11.00" width="1.00" height="1.10" fill="#acacac"/>
<rect x="542.57" y="13.20" width="1.00" height="1.20" fill="#a8a8a8"/>
<rect x="542.47" y="16.10" width="1.20" height="0.70" fill="#a8a8a8"/>
<rect x="545.18" y="6.70" width="1.30" height="2.50" fill="#aaaaaa"/>
<rect x="545.38" y="10.00" width="0.90" height="4.90" fill="#c8c8c8"/>
<rect x="545.33" y="11.00" width="1.00" height="1.10" fill="#acacac"/>
<rect x="545.33" y="13.20" width="1.00" height="1.20" fill="#a8a8a8"/>
<rect x="545.23" y="16.10" width="1.20" height="0.70" fill="#a8a8a8"/>
<rect x="547.93" y="6.70" width="1.30" height="2.50" fill="#aaaaaa"/>
<rect x="548.13" y="10.00" width="0.90" height="4.90" fill="#c8c8c8"/>
<rect x="548.08" y="11.00" width="1.00" height="1.10" fill="#acacac"/>
<rect x="548.08" y="13.20" width="1.00" height="1.20" fill="#a8a8a8"/>
<rect x="547.98" y="16.10" width="1.20" height="0.70" fill="#a8a8a8"/>
<rect x="550.68" y="6.70" width="1.30" height="2.50" fill="#aaaaaa"/>
<rect x="550.88" y="10.00" width="0.90" height="4.90" fill="#c8c8c8"/>
<rect x="550.83" y="11.00" width="1.00" height="1.10" fill="#acacac"/>
<rect x="550.83" y="13.20" width="1.00" height="1.20" fill="#a8a8a8"/>
<rect x="550.73" y="16.10" width="1.20" height="0.70" fill="#a8a8a8"/>
<rect x="553.44" y="6.70" width="1.30" height="2.50" fill="#aaaaaa"/>
<rect x="553.64" y="10.00" width="0.90" height="4.90" fill="#c8c8c8"/>
<rect x="553.59" y="11.00" width="1.00" height="1.10" fill="#acacac"/>
<rect x="553.59" y="13.20" width="1.00" height="1.20" fill="#a8a8a8"/>
<rect x="553.49" y="16.10" width="1.20" height="0.70" fill="#a8a8a8"/>
<rect x="556.19" y="5.70" width="1.30" height="3.50" fill="#aaaaaa"/>
<rect x="556.39" y="10.00" width="0.90" height="4.90" fill="#c8c8c8"/>
<rect x="556.34" y="11.00" width="1.00" height="1.10" fill="#acacac"/>
<rect x="556.34" y="13.20" width="1.00" height="1.20" fill="#a8a8a8"/>
<rect x="556.24" y="16.10" width="1.20" height="0.70" fill="#a8a8a8"/>
<rect x="558.94" y="6.70" width="1.30" height="2.50" fill="#aaaaaa"/>
<rect x="559.14" y="10.00" width="0.90" height="4.90" fill="#c8c8c8"/>
<rect x="559.09" y="11.00" width="1.00" height="1.10" fill="#acacac"/>
<rect x="559.09" y="13.20" width="1.00" height="1.20" fill="#a8a8a8"/>
<rect x="558.99" y="16.10" width="1.20" height="0.70" fill="#a8a8a8"/>
<rect x="561.70" y="7.30" width="1.30" height="1.90" fill="#aaaaaa"/>
<rect x="561.90" y="10.00" width="0.90" height="4.90" fill="#c8c8c8"/>
<rect x="561.85" y="11.00" width="1.00" height="1.10" fill="#acacac"/>
<rect x="561.85" y="13.20" width="1.00" height="1.20" fill="#a8a8a8"/>
<rect x="561.75" y="16.10" width="1.20" height="0.70" fill="#a8a8a8"/>
<rect x="564.45" y="6.70" width="1.30" height="2.50" fill="#aaaaaa"/>
<rect x="564.65" y="10.00" width="0.90" height="4.90" fill="#c8c8c8"/>
<rect x="564.60" y="11.00" width="1.00" height="1.10" fill="#acacac"/>
<rect x="564.60" y="13.20" width="1.00" height="1.20" fill="#a8a8a8"/>
<rect x="564.50" y="16.10" width="1.20" height="0.70" fill="#a8a8a8"/>
<rect x="567.20" y="5.70" width="1.30" height="3.50" fill="#aaaaaa"/>
<rect x="567.40" y="10.00" width="0.90" height="4.90" fill="#c8c8c8"/>
<rect x="567.35" y="11.00" width="1.00" height="1.10" fill="#acacac"/>
<rect x="567.35" y="13.20" width="1.00" height="1.20" fill="#a8a8a8"/>
<rect x="567.25" y="16.10" width="1.20" height="0.70" fill="#a8a8a8"/>
<rect x="569.95" y="6.00" width="1.30" height="3.20" fill="#aaaaaa"/>
<rect x="570.15" y="10.00" width="0.90" height="4.90" fill="#c8c8c8"/>
<rect x="570.10" y="11.00" width="1.00" height="1.10" fill="#acacac"/>
<rect x="570.10" y="13.20" width="1.00" height="1.20" fill="#a8a8a8"/>
<rect x="570.00" y="16.10" width="1.20" height="0.70" fill="#a8a8a8"/>
<rect x="572.71" y="5.70" width="1.30" height="3.50" fill="#aaaaaa"/>
<rect x="572.91" y="10.00" width="0.90" height="4.90" fill="#c8c8c8"/>
<rect x="572.86" y="11.00" width="1.00" height="1.10" fill="#acacac"/>
<rect x="572.86" y="13.20" width="1.00" height="1.20" fill="#a8a8a8"/>
<rect x="572.76" y="16.10" width="1.20" height="0.70" fill="#a8a8a8"/>
<rect x="575.46" y="6.00" width="1.30" height="3.20" fill="#aaaaaa"/>
<rect x="575.66" y="10.00" width="0.90" height="4.90" fill="#c8c8c8"/>
<rect x="575.61" y="11.00" width="1.00" height="1.10" fill="#acacac"/>
<rect x="575.61" y="13.20" width="1.00" height="1.20" fill="#a8a8a8"/>
<rect x="575.51" y="16.10" width="1.20" height="0.70" fill="#a8a8a8"/>
<rect x="578.21" y="6.70" width="1.30" height="2.50" fill="#aaaaaa"/>
<rect x="578.41" y="10.00" width="0.90" height="4.90" fill="#c8c8c8"/>
<rect x="578.36" y="11.00" width="1.00" height="1.10" fill="#acacac"/>
<rect x="578.36" y="13.20" width="1.00" height="1.20" fill="#a8a8a8"/>
<rect x="578.26" y="16.10" width="1.20" height="0.70" fill="#a8a8a8"/>
<rect x="580.97" y="6.00" width="1.30" height="3.20" fill="#aaaaaa"/>
<rect x="581.17" y="10.00" width="0.90" height="4.90" fill="#c8c8c8"/>
<rect x="581.12" y="11.00" width="1.00" height="1.10" fill="#acacac"/>
<rect x="581.12" y="13.20" width="1.00" height="1.20" fill="#a8a8a8"/>
<rect x="581.02" y="16.10" width="1.20" height="0.70" fill="#a8a8a8"/>
<rect x="583.72" y="5.70" width="1.30" height="3.50" fill="#aaaaaa"/>
<rect x="583.92" y="10.00" width="0.90" height="4.90" fill="#c8c8c8"/>
<rect x="583.87" y="11.00" width="1.00" height="1.10" fill="#acacac"/>
<rect x="583.87" y="13.20" width="1.00" height="1.20" fill="#a8a8a8"/>
<rect x="583.77" y="16.10" width="1.20" height="0.70" fill="#a8a8a8"/>
<rect x="586.47" y="6.30" width="1.30" height="2.90" fill="#aaaaaa"/>
<rect x="586.67" y="10.00" width="0.90" height="4.90" fill="#c8c8c8"/>
<rect x="586.62" y="11.00" width="1.00" height="1.10" fill="#acacac"/>
<rect x="586.62" y="13.20" width="1.00" height="1.20" fill="#a8a8a8"/>
<rect x="586.52" y="16.10" width="1.20" height="0.70" fill="#a8a8a8"/>
<rect x="589.15" y="7.00" width="1.30" height="2.20" fill="#aaaaaa"/>
<rect x="589.35" y="10.00" width="0.90" height="4.90" fill="#c8c8c8"/>
<rect x="589.30" y="11.00" width="1.00" height="1.10" fill="#acacac"/>
<rect x="589.30" y="13.20" width="1.00" height="1.20" fill="#a8a8a8"/>
<rect x="589.20" y="16.10" width="1.20" height="0.70" fill="#a8a8a8"/>
<rect x="591.86" y="5.70" width="1.30" height="3.50" fill="#aaaaaa"/>
<rect x="592.06" y="10.00" width="0.90" height="4.90" fill="#c8c8c8"/>
<rect x="592.01" y="11.00" width="1.00" height="1.10" fill="#acacac"/>
<rect x="592.01" y="13.20" width="1.00" height="1.20" fill="#a8a8a8"/>
<rect x="591.91" y="16.10" width="1.20" height="0.70" fill="#a8a8a8"/>
<rect x="594.67" y="5.70" width="1.30" height="3.50" fill="#aaaaaa"/>
<rect x="594.87" y="10.00" width="0.90" height="4.90" fill="#c8c8c8"/>
<rect x="594.82" y="11.00" width="1.00" height="1.10" fill="#acacac"/>
<rect x="594.82" y="13.20" width="1.00" height="1.20" fill="#a8a8a8"/>
<rect x="594.72" y="16.10" width="1.20" height="0.70" fill="#a8a8a8"/>
<rect x="597.49" y="5.70" width="1.30" height="3.50" fill="#aaaaaa"/>
<rect x="597.69" y="10.00" width="0.90" height="4.90" fill="#c8c8c8"/>
<rect x="597.64" y="11.00" width="1.00" height="1.10" fill="#acacac"/>
<rect x="597.64" y="13.20" width="1.00" height="1.20" fill="#a8a8a8"/>
<rect x="597.54" y="16.10" width="1.20" height="0.70" fill="#a8a8a8"/>
<rect x="600.30" y="7.00" width="1.30" height="2.20" fill="#aaaaaa"/>
<rect x="600.50" y="10.00" width="0.90" height="4.90" fill="#c8c8c8"/>
<rect x="600.45" y="11.00" width="1.00" height="1.10" fill="#acacac"/>
<rect x="600.45" y="13.20" width="1.00" height="1.20" fill="#a8a8a8"/>
<rect x="600.35" y="16.10" width="1.20" height="0.70" fill="#a8a8a8"/>
<rect x="603.11" y="6.00" width="1.30" height="3.20" fill="#aaaaaa"/>
<rect x="603.31" y="10.00" width="0.90" height="4.90" fill="#c8c8c8"/>
<rect x="603.26" y="11.00" width="1.00" height="1.10" fill="#acacac"/>
<rect x="603.26" y="13.20" width="1.00" height="1.20" fill="#a8a8a8"/>
<rect x="603.16" y="16.10" width="1.20" height="0.70" fill="#a8a8a8"/>
<rect x="605.93" y="7.00" width="1.30" height="2.20" fill="#aaaaaa"/>
<rect x="606.13" y="10.00" width="0.90" height="4.90" fill="#c8c8c8"/>
<rect x="606.08" y="11.00" width="1.00" height="1.10" fill="#acacac"/>
<rect x="606.08" y="13.20" width="1.00" height="1.20" fill="#a8a8a8"/>
<rect x="605.98" y="16.10" width="1.20" height="0.70" fill="#a8a8a8"/>
<rect x="608.74" y="5.70" width="1.30" height="3.50" fill="#aaaaaa"/>
<rect x="608.94" y="10.00" width="0.90" height="4.90" fill="#c8c8c8"/>
<rect x="608.89" y="11.00" width="1.00" height="1.10" fill="#acacac"/>
<rect x="608.89" y="13.20" width="1.00" height="1.20" fill="#a8a8a8"/>
<rect x="608.79" y="16.10" width="1.20" height="0.70" fill="#a8a8a8"/>
<rect x="611.56" y="6.30" width="1.30" height="2.90" fill="#aaaaaa"/>
<rect x="611.76" y="10.00" width="0.90" height="4.90" fill="#c8c8c8"/>
<rect x="611.71" y="11.00" width="1.00" height="1.10" fill="#acacac"/>
<rect x="611.71" y="13.20" width="1.00" height="1.20" fill="#a8a8a8"/>
<rect x="611.61" y="16.10" width="1.20" height="0.70" fill="#a8a8a8"/>
<rect x="614.37" y="7.00" width="1.30" height="2.20" fill="#aaaaaa"/>
<rect x="614.57" y="10.00" width="0.90" height="4.90" fill="#c8c8c8"/>
<rect x="614.52" y="11.00" width="1.00" height="1.10" fill="#acacac"/>
<rect x="614.52" y="13.20" width="1.00" height="1.20" fill="#a8a8a8"/>
<rect x="614.42" y="16.10" width="1.20" height="0.70" fill="#a8a8a8"/>
<rect x="617.19" y="5.70" width="1.30" height="3.50" fill="#aaaaaa"/>
<rect x="617.39" y="10.00" width="0.90" height="4.90" fill="#c8c8c8"/>
<rect x="617.34" y="11.00" width="1.00" height="1.10" fill="#acacac"/>
<rect x="617.34" y="13.20" width="1.00" height="1.20" fill="#a8a8a8"/>
<rect x="617.24" y="16.10" width="1.20" height="0.70" fill="#a8a8a8"/>
<rect x="620.00" y="5.70" width="1.30" height="3.50" fill="#aaaaaa"/>
<rect x="620.20" y="10.00" width="0.90" height="4.90" fill="#c8c8c8"/>
<rect x="620.15" y="11.00" width="1.00" height="1.10" fill="#acacac"/>
<rect x="620.15" y="13.20" width="1.00" height="1.20" fill="#a8a8a8"/>
<rect x="620.05" y="16.10" width="1.20" height="0.70" fill="#a8a8a8"/>
<rect x="622.81" y="6.00" width="1.30" height="3.20" fill="#aaaaaa"/>
<rect x="623.01" y="10.00" width="0.90" height="4.90" fill="#c8c8c8"/>
<rect x="622.96" y="11.00" width="1.00" height="1.10" fill="#acacac"/>
<rect x="622.96" y="13.20" width="1.00" height="1.20" fill="#a8a8a8"/>
<rect x="622.86" y="16.10" width="1.20" height="0.70" fill="#a8a8a8"/>
<rect x="625.63" y="7.00" width="1.30" height="2.20" fill="#aaaaaa"/>
<rect x="625.83" y="10.00" width="0.90" height="4.90" fill="#c8c8c8"/>
<rect x="625.78" y="11.00" width="1.00" height="1.10" fill="#acacac"/>
<rect x="625.78" y="13.20" width="1.00" height="1.20" fill="#a8a8a8"/>
<rect x="625.68" y="16.10" width="1.20" height="0.70" fill="#a8a8a8"/>
<rect x="628.44" y="6.70" width="1.30" height="2.50" fill="#aaaaaa"/>
<rect x="628.64" y="10.00" width="0.90" height="4.90" fill="#c8c8c8"/>
<rect x="628.59" y="11.00" width="1.00" height="1.10" fill="#acacac"/>
<rect x="628.59" y="13.20" width="1.00" height="1.20" fill="#a8a8a8"/>
<rect x="628.49" y="16.10" width="1.20" height="0.70" fill="#a8a8a8"/>
<rect x="631.26" y="6.00" width="1.30" height="3.20" fill="#aaaaaa"/>
<rect x="631.46" y="10.00" width="0.90" height="4.90" fill="#c8c8c8"/>
<rect x="631.41" y="11.00" width="1.00" height="1.10" fill="#acacac"/>
<rect x="631.41" y="13.20" width="1.00" height="1.20" fill="#a8a8a8"/>
<rect x="631.31" y="16.10" width="1.20" height="0.70" fill="#a8a8a8"/>
<rect x="634.07" y="7.30" width="1.30" height="1.90" fill="#aaaaaa"/>
<rect x="634.27" y="10.00" width="0.90" height="4.90" fill="#c8c8c8"/>
<rect x="634.22" y="11.00" width="1.00" height="1.10" fill="#acacac"/>
<rect x="634.22" y="13.20" width="1.00" height="1.20" fill="#a8a8a8"/>
<rect x="634.12" y="16.10" width="1.20" height="0.70" fill="#a8a8a8"/>
<rect x="636.89" y="6.30" width="1.30" height="2.90" fill="#aaaaaa"/>
<rect x="637.09" y="10.00" width="0.90" height="4.90" fill="#c8c8c8"/>
<rect x="637.04" y="11.00" width="1.00" height="1.10" fill="#acacac"/>
<rect x="637.04" y="13.20" width="1.00" height="1.20" fill="#a8a8a8"/>
<rect x="636.94" y="16.10" width="1.20" height="0.70" fill="#a8a8a8"/>
<rect x="639.70" y="6.30" width="1.30" height="2.90" fill="#aaaaaa"/>
<rect x="639.90" y="10.00" width="0.90" height="4.90" fill="#c8c8c8"/>
<rect x="639.85" y="11.00" width="1.00" height="1.10" fill="#acacac"/>
<rect x="639.85" y="13.20" width="1.00" height="1.20" fill="#a8a8a8"/>
<rect x="639.75" y="16.10" width="1.20" height="0.70" fill="#a8a8a8"/>
<rect x="642.51" y="7.00" width="1.30" height="2.20" fill="#aaaaaa"/>
<rect x="642.71" y="10.00" width="0.90" height="4.90" fill="#c8c8c8"/>
<rect x="642.66" y="11.00" width="1.00" height="1.10" fill="#acacac"/>
<rect x="642.66" y="13.20" width="1.00" height="1.20" fill="#a8a8a8"/>
<rect x="642.56" y="16.10" width="1.20" height="0.70" fill="#a8a8a8"/>
<rect x="645.33" y="6.30" width="1.30" height="2.90" fill="#aaaaaa"/>
<rect x="645.53" y="10.00" width="0.90" height="4.90" fill="#c8c8c8"/>
<rect x="645.48" y="11.00" width="1.00" height="1.10" fill="#acacac"/>
<rect x="645.48" y="13.20" width="1.00" height="1.20" fill="#a8a8a8"/>
<rect x="645.38" y="16.10" width="1.20" height="0.70" fill="#a8a8a8"/>
<rect x="648.14" y="6.70" width="1.30" height="2.50" fill="#aaaaaa"/>
<rect x="648.34" y="10.00" width="0.90" height="4.90" fill="#c8c8c8"/>
<rect x="648.29" y="11.00" width="1.00" height="1.10" fill="#acacac"/>
<rect x="648.29" y="13.20" width="1.00" height="1.20" fill="#a8a8a8"/>
<rect x="648.19" y="16.10" width="1.20" height="0.70" fill="#a8a8a8"/>
<rect x="11.70" y="17.70" width="121.80" height="19.20" fill="#F3C53A"/>
<text x="72.60" y="28.90" font-size="3.6" fill="#222" font-weight="bold" text-anchor="middle" stroke="#222" stroke-width="0.12">TLX1</text>
<rect x="133.50" y="17.70" width="11.00" height="19.20" fill="#3EE8E8"/>
<text x="139.00" y="28.90" font-size="3.6" fill="#222" font-weight="bold" text-anchor="middle" stroke="#222" stroke-width="0.12">NKX2</text>
<rect x="144.50" y="17.70" width="42.00" height="19.20" fill="#F569EE"/>
<text x="165.50" y="28.90" font-size="3.6" fill="#222" font-weight="bold" text-anchor="middle" stroke="#222" stroke-width="0.12">LMO1</text>
<rect x="186.50" y="17.70" width="83.10" height="19.20" fill="#F21414"/>
<text x="228.05" y="28.90" font-size="3.6" fill="#fff" font-weight="bold" text-anchor="middle" stroke="#fff" stroke-width="0.12">TAL1/LMO</text>
<rect x="269.60" y="17.70" width="72.70" height="19.20" fill="#8C0DBA"/>
<text x="305.95" y="28.90" font-size="3.6" fill="#fff" font-weight="bold" text-anchor="middle" stroke="#fff" stroke-width="0.12">TLX3</text>
<rect x="342.30" y="17.70" width="138.40" height="19.20" fill="#2472EB"/>
<text x="411.50" y="28.90" font-size="3.6" fill="#fff" font-weight="bold" text-anchor="middle" stroke="#fff" stroke-width="0.12">HOXA</text>
<rect x="480.70" y="17.70" width="19.70" height="19.20" fill="#0D0D88"/>
<text x="490.55" y="28.90" font-size="3.6" fill="#fff" font-weight="bold" text-anchor="middle" stroke="#fff" stroke-width="0.12">HOXA13</text>
<rect x="500.40" y="17.70" width="88.10" height="19.20" fill="#179239"/>
<text x="544.45" y="28.90" font-size="3.6" fill="#fff" font-weight="bold" text-anchor="middle" stroke="#fff" stroke-width="0.12">LYL1/LMO</text>
<rect x="588.50" y="17.70" width="2.60" height="19.20" fill="#F5F000"/>
<rect x="591.10" y="17.70" width="59.10" height="19.20" fill="#E2E2E2"/>
<text x="620.65" y="28.90" font-size="3.6" fill="#222" font-weight="bold" text-anchor="middle" stroke="#222" stroke-width="0.12">unclassified</text>
<rect x="11.70" y="39.00" width="66.90" height="11.00" fill="#F5F010"/>
<rect x="78.60" y="39.00" width="5.10" height="11.00" fill="#ECE4E8"/>
<rect x="83.70" y="39.00" width="75.30" height="11.00" fill="#F5F010"/>
<rect x="159.00" y="39.00" width="2.60" height="11.00" fill="#1C1C9E"/>
<rect x="161.60" y="39.00" width="6.20" height="11.00" fill="#F5F010"/>
<rect x="167.80" y="39.00" width="5.10" height="11.00" fill="#1C1C9E"/>
<rect x="172.90" y="39.00" width="2.90" height="11.00" fill="#F5F010"/>
<rect x="175.80" y="39.00" width="2.20" height="11.00" fill="#1C1C9E"/>
<rect x="178.00" y="39.00" width="3.20" height="11.00" fill="#F5F010"/>
<rect x="181.20" y="39.00" width="8.20" height="11.00" fill="#1C1C9E"/>
<rect x="189.40" y="39.00" width="5.40" height="11.00" fill="#ECE4E8"/>
<rect x="194.80" y="39.00" width="11.00" height="11.00" fill="#F5F010"/>
<rect x="205.80" y="39.00" width="3.20" height="11.00" fill="#187A18"/>
<rect x="209.00" y="39.00" width="2.70" height="11.00" fill="#ECE4E8"/>
<rect x="211.70" y="39.00" width="5.50" height="11.00" fill="#F5F010"/>
<rect x="217.20" y="39.00" width="2.80" height="11.00" fill="#1C1C9E"/>
<rect x="220.00" y="39.00" width="6.00" height="11.00" fill="#F5F010"/>
<rect x="226.00" y="39.00" width="5.10" height="11.00" fill="#1C1C9E"/>
<rect x="231.10" y="39.00" width="8.60" height="11.00" fill="#F5F010"/>
<rect x="239.70" y="39.00" width="5.30" height="11.00" fill="#1C1C9E"/>
<rect x="245.00" y="39.00" width="5.80" height="11.00" fill="#F5F010"/>
<rect x="250.80" y="39.00" width="7.30" height="11.00" fill="#1C1C9E"/>
<rect x="258.10" y="39.00" width="3.50" height="11.00" fill="#F5F010"/>
<rect x="261.60" y="39.00" width="2.60" height="11.00" fill="#1C1C9E"/>
<rect x="264.20" y="39.00" width="5.60" height="11.00" fill="#F5F010"/>
<rect x="269.80" y="39.00" width="8.30" height="11.00" fill="#1C1C9E"/>
<rect x="278.10" y="39.00" width="2.90" height="11.00" fill="#F5F010"/>
<rect x="281.00" y="39.00" width="5.90" height="11.00" fill="#187A18"/>
<rect x="286.90" y="39.00" width="2.40" height="11.00" fill="#ECE4E8"/>
<rect x="289.30" y="39.00" width="2.70" height="11.00" fill="#1C1C9E"/>
<rect x="292.00" y="39.00" width="2.90" height="11.00" fill="#F5F010"/>
<rect x="294.90" y="39.00" width="8.10" height="11.00" fill="#187A18"/>
<rect x="303.00" y="39.00" width="3.00" height="11.00" fill="#F5F010"/>
<rect x="306.00" y="39.00" width="2.90" height="11.00" fill="#1C1C9E"/>
<rect x="308.90" y="39.00" width="2.50" height="11.00" fill="#187A18"/>
<rect x="311.40" y="39.00" width="5.20" height="11.00" fill="#F5F010"/>
<rect x="316.60" y="39.00" width="3.20" height="11.00" fill="#ECE4E8"/>
<rect x="319.80" y="39.00" width="2.90" height="11.00" fill="#F5F010"/>
<rect x="322.70" y="39.00" width="2.50" height="11.00" fill="#1C1C9E"/>
<rect x="325.20" y="39.00" width="2.60" height="11.00" fill="#ECE4E8"/>
<rect x="327.80" y="39.00" width="5.90" height="11.00" fill="#F5F010"/>
<rect x="333.70" y="39.00" width="2.90" height="11.00" fill="#187A18"/>
<rect x="336.60" y="39.00" width="5.80" height="11.00" fill="#F5F010"/>
<rect x="342.40" y="39.00" width="13.20" height="11.00" fill="#187A18"/>
<rect x="355.60" y="39.00" width="17.50" height="11.00" fill="#F5F010"/>
<rect x="373.10" y="39.00" width="16.10" height="11.00" fill="#187A18"/>
<rect x="389.20" y="39.00" width="5.90" height="11.00" fill="#F5F010"/>
<rect x="395.10" y="39.00" width="10.70" height="11.00" fill="#187A18"/>
<rect x="405.80" y="39.00" width="3.20" height="11.00" fill="#F5F010"/>
<rect x="409.00" y="39.00" width="2.60" height="11.00" fill="#187A18"/>
<rect x="411.60" y="39.00" width="10.80" height="11.00" fill="#F5F010"/>
<rect x="422.40" y="39.00" width="2.90" height="11.00" fill="#187A18"/>
<rect x="425.30" y="39.00" width="2.70" height="11.00" fill="#F5F010"/>
<rect x="428.00" y="39.00" width="2.90" height="11.00" fill="#187A18"/>
<rect x="430.90" y="39.00" width="2.60" height="11.00" fill="#ECE4E8"/>
<rect x="433.50" y="39.00" width="3.20" height="11.00" fill="#F5F010"/>
<rect x="436.70" y="39.00" width="5.10" height="11.00" fill="#187A18"/>
<rect x="441.80" y="39.00" width="2.90" height="11.00" fill="#1C1C9E"/>
<rect x="444.70" y="39.00" width="3.00" height="11.00" fill="#187A18"/>
<rect x="447.70" y="39.00" width="2.40" height="11.00" fill="#ECE4E8"/>
<rect x="450.10" y="39.00" width="8.50" height="11.00" fill="#187A18"/>
<rect x="458.60" y="39.00" width="5.60" height="11.00" fill="#1C1C9E"/>
<rect x="464.20" y="39.00" width="3.20" height="11.00" fill="#F5F010"/>
<rect x="467.40" y="39.00" width="2.60" height="11.00" fill="#ECE4E8"/>
<rect x="470.00" y="39.00" width="2.50" height="11.00" fill="#187A18"/>
<rect x="472.50" y="39.00" width="2.90" height="11.00" fill="#F5F010"/>
<rect x="475.40" y="39.00" width="2.90" height="11.00" fill="#ECE4E8"/>
<rect x="478.30" y="39.00" width="2.50" height="11.00" fill="#F5F010"/>
<rect x="480.80" y="39.00" width="8.30" height="11.00" fill="#187A18"/>
<rect x="489.10" y="39.00" width="2.50" height="11.00" fill="#1C1C9E"/>
<rect x="491.60" y="39.00" width="16.80" height="11.00" fill="#187A18"/>
<rect x="508.40" y="39.00" width="2.60" height="11.00" fill="#F5F010"/>
<rect x="511.00" y="39.00" width="2.90" height="11.00" fill="#187A18"/>
<rect x="513.90" y="39.00" width="2.90" height="11.00" fill="#FFFFFF"/>
<rect x="516.80" y="39.00" width="11.30" height="11.00" fill="#187A18"/>
<rect x="528.10" y="39.00" width="2.40" height="11.00" fill="#1C1C9E"/>
<rect x="530.50" y="39.00" width="3.40" height="11.00" fill="#187A18"/>
<rect x="533.90" y="39.00" width="5.40" height="11.00" fill="#1C1C9E"/>
<rect x="539.30" y="39.00" width="5.30" height="11.00" fill="#187A18"/>
<rect x="544.60" y="39.00" width="2.40" height="11.00" fill="#1C1C9E"/>
<rect x="547.00" y="39.00" width="3.40" height="11.00" fill="#187A18"/>
<rect x="550.40" y="39.00" width="7.90" height="11.00" fill="#1C1C9E"/>
<rect x="558.30" y="39.00" width="8.60" height="11.00" fill="#187A18"/>
<rect x="566.90" y="39.00" width="5.10" height="11.00" fill="#1C1C9E"/>
<rect x="572.00" y="39.00" width="2.80" height="11.00" fill="#F5F010"/>
<rect x="574.80" y="39.00" width="3.10" height="11.00" fill="#187A18"/>
<rect x="577.90" y="39.00" width="5.50" height="11.00" fill="#1C1C9E"/>
<rect x="583.40" y="39.00" width="2.90" height="11.00" fill="#F5F010"/>
<rect x="586.30" y="39.00" width="8.30" height="11.00" fill="#FFFFFF"/>
<rect x="594.60" y="39.00" width="5.40" height="11.00" fill="#187A18"/>
<rect x="600.00" y="39.00" width="2.90" height="11.00" fill="#F5F010"/>
<rect x="602.90" y="39.00" width="2.60" height="11.00" fill="#1C1C9E"/>
<rect x="605.50" y="39.00" width="3.00" height="11.00" fill="#187A18"/>
<rect x="608.50" y="39.00" width="2.50" height="11.00" fill="#ECE4E8"/>
<rect x="611.00" y="39.00" width="3.30" height="11.00" fill="#F5F010"/>
<rect x="614.30" y="39.00" width="2.90" height="11.00" fill="#187A18"/>
<rect x="617.20" y="39.00" width="2.50" height="11.00" fill="#F5F010"/>
<rect x="619.70" y="39.00" width="5.30" height="11.00" fill="#1C1C9E"/>
<rect x="625.00" y="39.00" width="2.90" height="11.00" fill="#ECE4E8"/>
<rect x="627.90" y="39.00" width="2.90" height="11.00" fill="#1C1C9E"/>
<rect x="630.80" y="39.00" width="2.00" height="11.00" fill="#F5F010"/>
<rect x="632.80" y="39.00" width="3.00" height="11.00" fill="#1C1C9E"/>
<rect x="635.80" y="39.00" width="2.90" height="11.00" fill="#ECE4E8"/>
<rect x="638.70" y="39.00" width="2.90" height="11.00" fill="#F5F010"/>
<rect x="641.60" y="39.00" width="2.60" height="11.00" fill="#187A18"/>
<rect x="644.20" y="39.00" width="3.00" height="11.00" fill="#ECE4E8"/>
<rect x="647.20" y="39.00" width="3.00" height="11.00" fill="#1C1C9E"/>
<rect x="11.70" y="52.00" width="8.50" height="6.70" fill="#F28686"/>
<rect x="20.20" y="52.00" width="5.60" height="6.70" fill="#A2F0A2"/>
<rect x="25.80" y="52.00" width="5.40" height="6.70" fill="#F28686"/>
<rect x="31.20" y="52.00" width="2.90" height="6.70" fill="#A2F0A2"/>
<rect x="34.10" y="52.00" width="16.80" height="6.70" fill="#F28686"/>
<rect x="50.90" y="52.00" width="2.90" height="6.70" fill="#A2F0A2"/>
<rect x="53.80" y="52.00" width="8.00" height="6.70" fill="#F28686"/>
<rect x="61.80" y="52.00" width="5.90" height="6.70" fill="#A2F0A2"/>
<rect x="67.70" y="52.00" width="8.30" height="6.70" fill="#F28686"/>
<rect x="76.00" y="52.00" width="2.60" height="6.70" fill="#A2F0A2"/>
<rect x="78.60" y="52.00" width="2.50" height="6.70" fill="#F28686"/>
<rect x="81.10" y="52.00" width="5.80" height="6.70" fill="#A2F0A2"/>
<rect x="86.90" y="52.00" width="2.70" height="6.70" fill="#F28686"/>
<rect x="89.60" y="52.00" width="2.90" height="6.70" fill="#A2F0A2"/>
<rect x="92.50" y="52.00" width="22.00" height="6.70" fill="#F28686"/>
<rect x="114.50" y="52.00" width="2.50" height="6.70" fill="#A2F0A2"/>
<rect x="117.00" y="52.00" width="2.60" height="6.70" fill="#F28686"/>
<rect x="119.60" y="52.00" width="6.30" height="6.70" fill="#A2F0A2"/>
<rect x="125.90" y="52.00" width="10.50" height="6.70" fill="#F28686"/>
<rect x="136.40" y="52.00" width="3.30" height="6.70" fill="#A2F0A2"/>
<rect x="139.70" y="52.00" width="2.50" height="6.70" fill="#F28686"/>
<rect x="142.20" y="52.00" width="2.20" height="6.70" fill="#A2F0A2"/>
<rect x="144.40" y="52.00" width="20.20" height="6.70" fill="#F28686"/>
<rect x="164.60" y="52.00" width="2.90" height="6.70" fill="#A2F0A2"/>
<rect x="167.50" y="52.00" width="8.30" height="6.70" fill="#F28686"/>
<rect x="175.80" y="52.00" width="5.40" height="6.70" fill="#A2F0A2"/>
<rect x="181.20" y="52.00" width="22.00" height="6.70" fill="#F28686"/>
<rect x="203.20" y="52.00" width="2.60" height="6.70" fill="#A2F0A2"/>
<rect x="205.80" y="52.00" width="16.80" height="6.70" fill="#F28686"/>
<rect x="222.60" y="52.00" width="2.90" height="6.70" fill="#A2F0A2"/>
<rect x="225.50" y="52.00" width="5.50" height="6.70" fill="#F28686"/>
<rect x="231.00" y="52.00" width="2.90" height="6.70" fill="#A2F0A2"/>
<rect x="233.90" y="52.00" width="30.30" height="6.70" fill="#F28686"/>
<rect x="264.20" y="52.00" width="5.10" height="6.70" fill="#A2F0A2"/>
<rect x="269.30" y="52.00" width="14.20" height="6.70" fill="#F28686"/>
<rect x="283.50" y="52.00" width="3.40" height="6.70" fill="#A2F0A2"/>
<rect x="286.90" y="52.00" width="8.00" height="6.70" fill="#F28686"/>
<rect x="294.90" y="52.00" width="3.00" height="6.70" fill="#A2F0A2"/>
<rect x="297.90" y="52.00" width="5.10" height="6.70" fill="#F28686"/>
<rect x="303.00" y="52.00" width="5.90" height="6.70" fill="#A2F0A2"/>
<rect x="308.90" y="52.00" width="33.50" height="6.70" fill="#F28686"/>
<rect x="342.40" y="52.00" width="8.10" height="6.70" fill="#A2F0A2"/>
<rect x="350.50" y="52.00" width="30.30" height="6.70" fill="#F28686"/>
<rect x="380.80" y="52.00" width="3.20" height="6.70" fill="#A2F0A2"/>
<rect x="384.00" y="52.00" width="13.30" height="6.70" fill="#F28686"/>
<rect x="397.30" y="52.00" width="3.20" height="6.70" fill="#A2F0A2"/>
<rect x="400.50" y="52.00" width="8.20" height="6.70" fill="#F28686"/>
<rect x="408.70" y="52.00" width="2.90" height="6.70" fill="#A2F0A2"/>
<rect x="411.60" y="52.00" width="10.80" height="6.70" fill="#F28686"/>
<rect x="422.40" y="52.00" width="8.50" height="6.70" fill="#A2F0A2"/>
<rect x="430.90" y="52.00" width="2.90" height="6.70" fill="#F28686"/>
<rect x="433.80" y="52.00" width="2.90" height="6.70" fill="#A2F0A2"/>
<rect x="436.70" y="52.00" width="2.20" height="6.70" fill="#F28686"/>
<rect x="438.90" y="52.00" width="5.80" height="6.70" fill="#A2F0A2"/>
<rect x="444.70" y="52.00" width="16.50" height="6.70" fill="#F28686"/>
<rect x="461.20" y="52.00" width="3.00" height="6.70" fill="#A2F0A2"/>
<rect x="464.20" y="52.00" width="5.40" height="6.70" fill="#F28686"/>
<rect x="469.60" y="52.00" width="5.80" height="6.70" fill="#A2F0A2"/>
<rect x="475.40" y="52.00" width="2.90" height="6.70" fill="#F28686"/>
<rect x="478.30" y="52.00" width="5.90" height="6.70" fill="#A2F0A2"/>
<rect x="484.20" y="52.00" width="10.70" height="6.70" fill="#F28686"/>
<rect x="494.90" y="52.00" width="5.40" height="6.70" fill="#A2F0A2"/>
<rect x="500.30" y="52.00" width="8.10" height="6.70" fill="#F28686"/>
<rect x="508.40" y="52.00" width="2.90" height="6.70" fill="#A2F0A2"/>
<rect x="511.30" y="52.00" width="2.60" height="6.70" fill="#F28686"/>
<rect x="513.90" y="52.00" width="2.90" height="6.70" fill="#A2F0A2"/>
<rect x="516.80" y="52.00" width="2.90" height="6.70" fill="#F28686"/>
<rect x="519.70" y="52.00" width="3.00" height="6.70" fill="#A2F0A2"/>
<rect x="522.70" y="52.00" width="2.40" height="6.70" fill="#F28686"/>
<rect x="525.10" y="52.00" width="5.90" height="6.70" fill="#A2F0A2"/>
<rect x="531.00" y="52.00" width="38.80" height="6.70" fill="#F28686"/>
<rect x="569.80" y="52.00" width="2.60" height="6.70" fill="#A2F0A2"/>
<rect x="572.40" y="52.00" width="5.50" height="6.70" fill="#F28686"/>
<rect x="577.90" y="52.00" width="2.90" height="6.70" fill="#A2F0A2"/>
<rect x="580.80" y="52.00" width="19.20" height="6.70" fill="#F28686"/>
<rect x="600.00" y="52.00" width="8.50" height="6.70" fill="#A2F0A2"/>
<rect x="608.50" y="52.00" width="8.30" height="6.70" fill="#F28686"/>
<rect x="616.80" y="52.00" width="2.60" height="6.70" fill="#A2F0A2"/>
<rect x="619.40" y="52.00" width="13.90" height="6.70" fill="#F28686"/>
<rect x="633.30" y="52.00" width="2.90" height="6.70" fill="#A2F0A2"/>
<rect x="636.20" y="52.00" width="14.00" height="6.70" fill="#F28686"/>
<rect x="11.70" y="60.70" width="3.00" height="4.20" fill="#8C8266"/>
<rect x="14.70" y="60.70" width="11.10" height="4.20" fill="#EA0A0A"/>
<rect x="25.80" y="60.70" width="2.90" height="4.20" fill="#8C8266"/>
<rect x="28.70" y="60.70" width="13.40" height="4.20" fill="#EA0A0A"/>
<rect x="42.10" y="60.70" width="3.20" height="4.20" fill="#8C8266"/>
<rect x="45.30" y="60.70" width="8.20" height="4.20" fill="#EA0A0A"/>
<rect x="53.50" y="60.70" width="2.90" height="4.20" fill="#8C8266"/>
<rect x="56.40" y="60.70" width="10.80" height="4.20" fill="#EA0A0A"/>
<rect x="67.20" y="60.70" width="2.70" height="4.20" fill="#8C8266"/>
<rect x="69.90" y="60.70" width="3.20" height="4.20" fill="#EA0A0A"/>
<rect x="73.10" y="60.70" width="2.30" height="4.20" fill="#8C8266"/>
<rect x="75.40" y="60.70" width="2.90" height="4.20" fill="#EA0A0A"/>
<rect x="78.30" y="60.70" width="5.40" height="4.20" fill="#8C8266"/>
<rect x="83.70" y="60.70" width="5.90" height="4.20" fill="#EA0A0A"/>
<rect x="89.60" y="60.70" width="2.40" height="4.20" fill="#8C8266"/>
<rect x="92.00" y="60.70" width="3.40" height="4.20" fill="#EA0A0A"/>
<rect x="95.40" y="60.70" width="2.50" height="4.20" fill="#8C8266"/>
<rect x="97.90" y="60.70" width="5.50" height="4.20" fill="#EA0A0A"/>
<rect x="103.40" y="60.70" width="14.00" height="4.20" fill="#8C8266"/>
<rect x="117.40" y="60.70" width="2.20" height="4.20" fill="#EA0A0A"/>
<rect x="119.60" y="60.70" width="2.90" height="4.20" fill="#3E7086"/>
<rect x="122.50" y="60.70" width="8.50" height="4.20" fill="#EA0A0A"/>
<rect x="131.00" y="60.70" width="2.80" height="4.20" fill="#8C8266"/>
<rect x="133.80" y="60.70" width="2.60" height="4.20" fill="#EA0A0A"/>
<rect x="136.40" y="60.70" width="3.30" height="4.20" fill="#8C8266"/>
<rect x="139.70" y="60.70" width="24.40" height="4.20" fill="#EA0A0A"/>
<rect x="164.10" y="60.70" width="3.40" height="4.20" fill="#8C8266"/>
<rect x="167.50" y="60.70" width="29.80" height="4.20" fill="#EA0A0A"/>
<rect x="197.30" y="60.70" width="14.10" height="4.20" fill="#8C8266"/>
<rect x="211.40" y="60.70" width="2.90" height="4.20" fill="#EA0A0A"/>
<rect x="214.30" y="60.70" width="2.90" height="4.20" fill="#8C8266"/>
<rect x="217.20" y="60.70" width="2.50" height="4.20" fill="#EA0A0A"/>
<rect x="219.70" y="60.70" width="2.90" height="4.20" fill="#3E7086"/>
<rect x="222.60" y="60.70" width="3.40" height="4.20" fill="#8C8266"/>
<rect x="226.00" y="60.70" width="19.00" height="4.20" fill="#EA0A0A"/>
<rect x="245.00" y="60.70" width="2.90" height="4.20" fill="#8C8266"/>
<rect x="247.90" y="60.70" width="5.40" height="4.20" fill="#EA0A0A"/>
<rect x="253.30" y="60.70" width="2.90" height="4.20" fill="#8C8266"/>
<rect x="256.20" y="60.70" width="24.80" height="4.20" fill="#EA0A0A"/>
<rect x="281.00" y="60.70" width="2.90" height="4.20" fill="#8C8266"/>
<rect x="283.90" y="60.70" width="11.00" height="4.20" fill="#EA0A0A"/>
<rect x="294.90" y="60.70" width="8.60" height="4.20" fill="#8C8266"/>
<rect x="303.50" y="60.70" width="24.80" height="4.20" fill="#EA0A0A"/>
<rect x="328.30" y="60.70" width="8.30" height="4.20" fill="#8C8266"/>
<rect x="336.60" y="60.70" width="19.40" height="4.20" fill="#EA0A0A"/>
<rect x="356.00" y="60.70" width="5.40" height="4.20" fill="#8C8266"/>
<rect x="361.40" y="60.70" width="2.90" height="4.20" fill="#EA0A0A"/>
<rect x="364.30" y="60.70" width="3.00" height="4.20" fill="#8C8266"/>
<rect x="367.30" y="60.70" width="13.80" height="4.20" fill="#EA0A0A"/>
<rect x="381.10" y="60.70" width="5.60" height="4.20" fill="#8C8266"/>
<rect x="386.70" y="60.70" width="10.60" height="4.20" fill="#EA0A0A"/>
<rect x="397.30" y="60.70" width="2.90" height="4.20" fill="#3E7086"/>
<rect x="400.20" y="60.70" width="2.60" height="4.20" fill="#EA0A0A"/>
<rect x="402.80" y="60.70" width="2.50" height="4.20" fill="#8C8266"/>
<rect x="405.30" y="60.70" width="2.90" height="4.20" fill="#3E7086"/>
<rect x="408.20" y="60.70" width="3.40" height="4.20" fill="#8C8266"/>
<rect x="411.60" y="60.70" width="21.90" height="4.20" fill="#EA0A0A"/>
<rect x="433.50" y="60.70" width="2.90" height="4.20" fill="#8C8266"/>
<rect x="436.40" y="60.70" width="2.90" height="4.20" fill="#EA0A0A"/>
<rect x="439.30" y="60.70" width="8.40" height="4.20" fill="#8C8266"/>
<rect x="447.70" y="60.70" width="8.00" height="4.20" fill="#EA0A0A"/>
<rect x="455.70" y="60.70" width="2.60" height="4.20" fill="#3E7086"/>
<rect x="458.30" y="60.70" width="11.30" height="4.20" fill="#8C8266"/>
<rect x="469.60" y="60.70" width="2.90" height="4.20" fill="#EA0A0A"/>
<rect x="472.50" y="60.70" width="2.90" height="4.20" fill="#8C8266"/>
<rect x="475.40" y="60.70" width="22.00" height="4.20" fill="#EA0A0A"/>
<rect x="497.40" y="60.70" width="8.80" height="4.20" fill="#8C8266"/>
<rect x="506.20" y="60.70" width="2.20" height="4.20" fill="#EA0A0A"/>
<rect x="508.40" y="60.70" width="5.50" height="4.20" fill="#8C8266"/>
<rect x="513.90" y="60.70" width="2.90" height="4.20" fill="#3E7086"/>
<rect x="516.80" y="60.70" width="17.10" height="4.20" fill="#8C8266"/>
<rect x="533.90" y="60.70" width="19.00" height="4.20" fill="#EA0A0A"/>
<rect x="552.90" y="60.70" width="2.90" height="4.20" fill="#3E7086"/>
<rect x="555.80" y="60.70" width="3.00" height="4.20" fill="#8C8266"/>
<rect x="558.80" y="60.70" width="2.20" height="4.20" fill="#EA0A0A"/>
<rect x="561.00" y="60.70" width="2.80" height="4.20" fill="#FFFFFF"/>
<rect x="563.80" y="60.70" width="2.70" height="4.20" fill="#3E7086"/>
<rect x="566.50" y="60.70" width="8.80" height="4.20" fill="#8C8266"/>
<rect x="575.30" y="60.70" width="5.50" height="4.20" fill="#EA0A0A"/>
<rect x="580.80" y="60.70" width="3.00" height="4.20" fill="#8C8266"/>
<rect x="583.80" y="60.70" width="7.50" height="4.20" fill="#EA0A0A"/>
<rect x="591.30" y="60.70" width="3.50" height="4.20" fill="#FFFFFF"/>
<rect x="594.80" y="60.70" width="2.50" height="4.20" fill="#8C8266"/>
<rect x="597.30" y="60.70" width="2.40" height="4.20" fill="#3E7086"/>
<rect x="599.70" y="60.70" width="14.20" height="4.20" fill="#8C8266"/>
<rect x="613.90" y="60.70" width="2.60" height="4.20" fill="#EA0A0A"/>
<rect x="616.50" y="60.70" width="3.20" height="4.20" fill="#8C8266"/>
<rect x="619.70" y="60.70" width="5.30" height="4.20" fill="#3E7086"/>
<rect x="625.00" y="60.70" width="5.40" height="4.20" fill="#EA0A0A"/>
<rect x="630.40" y="60.70" width="5.80" height="4.20" fill="#8C8266"/>
<rect x="636.20" y="60.70" width="2.50" height="4.20" fill="#EA0A0A"/>
<rect x="638.70" y="60.70" width="2.90" height="4.20" fill="#8C8266"/>
<rect x="641.60" y="60.70" width="2.60" height="4.20" fill="#EA0A0A"/>
<rect x="644.20" y="60.70" width="3.20" height="4.20" fill="#8C8266"/>
<rect x="647.40" y="60.70" width="2.80" height="4.20" fill="#EA0A0A"/>
<rect x="73.20" y="71.40" width="41.20" height="2.00" fill="#000"/>
<rect x="134.00" y="75.66" width="5.50" height="2.00" fill="#000"/>
<rect x="145.00" y="79.92" width="8.00" height="2.00" fill="#000"/>
<rect x="176.00" y="84.18" width="38.00" height="2.00" fill="#000"/>
<rect x="214.50" y="88.44" width="5.50" height="2.00" fill="#000"/>
<rect x="67.50" y="92.70" width="5.20" height="2.00" fill="#000"/>
<rect x="270.00" y="92.70" width="7.80" height="2.00" fill="#000"/>
<rect x="256.20" y="105.48" width="2.50" height="2.00" fill="#000"/>
<rect x="59.00" y="118.26" width="8.00" height="2.00" fill="#000"/>
<rect x="131.00" y="118.26" width="2.50" height="2.00" fill="#000"/>
<rect x="150.80" y="118.26" width="2.50" height="2.00" fill="#000"/>
<rect x="278.30" y="118.26" width="16.40" height="2.00" fill="#000"/>
<rect x="342.30" y="96.96" width="32.70" height="2.00" fill="#000"/>
<rect x="375.50" y="101.22" width="16.40" height="2.00" fill="#000"/>
<rect x="392.40" y="105.48" width="13.40" height="2.00" fill="#000"/>
<rect x="406.30" y="109.74" width="21.60" height="2.00" fill="#000"/>
<rect x="428.40" y="118.26" width="10.60" height="2.00" fill="#000"/>
<rect x="511.70" y="71.40" width="2.30" height="2.00" fill="#000"/>
<rect x="506.00" y="88.44" width="2.50" height="2.00" fill="#000"/>
<rect x="492.30" y="109.74" width="2.50" height="2.00" fill="#000"/>
<rect x="480.70" y="114.00" width="11.10" height="2.00" fill="#000"/>
<rect x="500.30" y="118.26" width="5.70" height="2.00" fill="#000"/>
<rect x="509.00" y="118.26" width="2.50" height="2.00" fill="#000"/>
<rect x="638.70" y="105.48" width="2.80" height="2.00" fill="#000"/>
<g transform="translate(0 122.40)">
<g class="w0">
<rect x="11.7" class="q40"/>
<rect x="14.5" class="q40"/>
<rect x="17.2" class="q39"/>
<rect x="20.0" class="q40"/>
<rect x="22.8" class="q40"/>
<rect x="25.5" class="q39"/>
<rect x="28.3" class="q40"/>
<rect x="31.1" class="q40"/>
<rect x="33.8" class="q40"/>
<rect x="36.6" class="q40"/>
<rect x="39.4" class="q40"/>
<rect x="42.1" class="q40"/>
<rect x="44.9" class="q40"/>
<rect x="47.7" class="q40"/>
<rect x="50.5" class="q40"/>
<rect x="53.2" class="q39"/>
<rect x="56.0" class="q40"/>
<rect x="58.8" class="q40"/>
<rect x="61.5" class="q40"/>
<rect x="64.3" class="q40"/>
<rect x="67.1" class="q40"/>
<rect x="69.8" class="q40"/>
<rect x="72.6" class="q40"/>
<rect x="75.4" class="q40"/>
<rect x="78.1" class="q40"/>
<rect x="80.9" class="q40"/>
<rect x="83.7" class="q40"/>
<rect x="86.4" class="q40"/>
<rect x="89.2" class="q39"/>
<rect x="92.0" class="q40"/>
<rect x="94.7" class="q40"/>
<rect x="97.5" class="q40"/>
<rect x="100.3" class="q40"/>
<rect x="103.0" class="q40"/>
<rect x="105.8" class="q40"/>
<rect x="108.6" class="q40"/>
<rect x="111.4" class="q40"/>
<rect x="114.1" class="q40"/>
<rect x="116.9" class="q39"/>
<rect x="119.7" class="q39"/>
<rect x="122.4" class="q40"/>
<rect x="125.2" class="q40"/>
<rect x="128.0" class="q40"/>
<rect x="130.7" class="q40"/>
</g>
<g class="w1">
<rect x="133.5" class="q12"/>
<rect x="136.2" class="q9"/>
<rect x="139.0" class="q13"/>
<rect x="141.8" class="q12"/>
</g>
<g class="w2">
<rect x="144.5" class="q13"/>
<rect x="147.3" class="q12"/>
<rect x="150.1" class="q13"/>
<rect x="152.9" class="q13"/>
<rect x="155.7" class="q12"/>
<rect x="158.5" class="q13"/>
<rect x="161.3" class="q10"/>
<rect x="164.1" class="q12"/>
<rect x="166.9" class="q13"/>
<rect x="169.7" class="q12"/>
<rect x="172.5" class="q14"/>
<rect x="175.3" class="q10"/>
<rect x="178.1" class="q12"/>
<rect x="180.9" class="q13"/>
<rect x="183.7" class="q10"/>
</g>
<g class="w3">
<rect x="186.5" class="q11"/>
<rect x="189.3" class="q14"/>
<rect x="192.0" class="q10"/>
<rect x="194.8" class="q17"/>
<rect x="197.6" class="q12"/>
<rect x="200.3" class="q14"/>
<rect x="203.1" class="q8"/>
<rect x="205.9" class="q14"/>
<rect x="208.7" class="q11"/>
<rect x="211.4" class="q11"/>
<rect x="214.2" class="q13"/>
<rect x="217.0" class="q15"/>
<rect x="219.7" class="q20"/>
<rect x="222.5" class="q15"/>
<rect x="225.3" class="q11"/>
<rect x="228.1" class="q11"/>
<rect x="230.8" class="q11"/>
<rect x="233.6" class="q12"/>
<rect x="236.4" class="q10"/>
<rect x="239.1" class="q12"/>
<rect x="241.9" class="q15"/>
<rect x="244.7" class="q12"/>
<rect x="247.4" class="q12"/>
<rect x="250.2" class="q11"/>
<rect x="253.0" class="q12"/>
<rect x="255.8" class="q12"/>
<rect x="258.5" class="q12"/>
<rect x="261.3" class="q12"/>
<rect x="264.1" class="q10"/>
<rect x="266.8" class="q11"/>
</g>
<g class="w4">
<rect x="269.6" class="q13"/>
<rect x="272.4" class="q11"/>
<rect x="275.2" class="q15"/>
<rect x="278.0" class="q14"/>
<rect x="280.8" class="q14"/>
<rect x="283.6" class="q14"/>
<rect x="286.4" class="q12"/>
<rect x="289.2" class="q12"/>
<rect x="292.0" class="q15"/>
<rect x="294.8" class="q8"/>
<rect x="297.6" class="q12"/>
<rect x="300.4" class="q12"/>
<rect x="303.2" class="q18"/>
<rect x="306.0" class="q13"/>
<rect x="308.7" class="q10"/>
<rect x="311.5" class="q14"/>
<rect x="314.3" class="q15"/>
<rect x="317.1" class="q11"/>
<rect x="319.9" class="q10"/>
<rect x="322.7" class="q13"/>
<rect x="325.5" class="q10"/>
<rect x="328.3" class="q11"/>
<rect x="331.1" class="q14"/>
<rect x="333.9" class="q13"/>
<rect x="336.7" class="q15"/>
<rect x="339.5" class="q13"/>
</g>
<g class="w5">
<rect x="342.3" class="q13"/>
<rect x="345.1" class="q13"/>
<rect x="347.8" class="q12"/>
<rect x="350.6" class="q10"/>
<rect x="353.4" class="q13"/>
<rect x="356.1" class="q10"/>
<rect x="358.9" class="q11"/>
<rect x="361.7" class="q14"/>
<rect x="364.4" class="q16"/>
<rect x="367.2" class="q12"/>
<rect x="370.0" class="q11"/>
<rect x="372.7" class="q12"/>
<rect x="375.5" class="q10"/>
<rect x="378.3" class="q8"/>
<rect x="381.1" class="q14"/>
<rect x="383.8" class="q12"/>
<rect x="386.6" class="q8"/>
<rect x="389.4" class="q14"/>
<rect x="392.1" class="q11"/>
<rect x="394.9" class="q11"/>
<rect x="397.7" class="q10"/>
<rect x="400.4" class="q9"/>
<rect x="403.2" class="q12"/>
<rect x="406.0" class="q9"/>
<rect x="408.7" class="q13"/>
<rect x="411.5" class="q14"/>
<rect x="414.3" class="q16"/>
<rect x="417.0" class="q13"/>
<rect x="419.8" class="q15"/>
<rect x="422.6" class="q19"/>
<rect x="425.3" class="q16"/>
<rect x="428.1" class="q12"/>
<rect x="430.9" class="q15"/>
<rect x="433.6" class="q11"/>
<rect x="436.4" class="q11"/>
<rect x="439.2" class="q13"/>
<rect x="441.9" class="q11"/>
<rect x="444.7" class="q14"/>
<rect x="447.5" class="q14"/>
<rect x="450.3" class="q10"/>
<rect x="453.0" class="q9"/>
<rect x="455.8" class="q13"/>
<rect x="458.6" class="q15"/>
<rect x="461.3" class="q11"/>
<rect x="464.1" class="q17"/>
<rect x="466.9" class="q12"/>
<rect x="469.6" class="q12"/>
<rect x="472.4" class="q12"/>
<rect x="475.2" class="q11"/>
<rect x="477.9" class="q14"/>
</g>
<g class="w6">
<rect x="480.7" class="q16"/>
<rect x="483.5" class="q11"/>
<rect x="486.3" class="q13"/>
<rect x="489.1" class="q13"/>
<rect x="492.0" class="q14"/>
<rect x="494.8" class="q13"/>
<rect x="497.6" class="q13"/>
</g>
<g class="w7">
<rect x="500.4" class="q10"/>
<rect x="503.2" class="q8"/>
<rect x="505.9" class="q18"/>
<rect x="508.7" class="q9"/>
<rect x="511.4" class="q13"/>
<rect x="514.2" class="q12"/>
<rect x="516.9" class="q10"/>
<rect x="519.7" class="q12"/>
<rect x="522.4" class="q10"/>
<rect x="525.2" class="q14"/>
<rect x="527.9" class="q7"/>
<rect x="530.7" class="q12"/>
<rect x="533.4" class="q13"/>
<rect x="536.2" class="q16"/>
<rect x="538.9" class="q8"/>
<rect x="541.7" class="q12"/>
<rect x="544.5" class="q12"/>
<rect x="547.2" class="q12"/>
<rect x="550.0" class="q11"/>
<rect x="552.7" class="q12"/>
<rect x="555.5" class="q12"/>
<rect x="558.2" class="q12"/>
<rect x="561.0" class="q6"/>
<rect x="563.7" class="q10"/>
<rect x="566.5" class="q14"/>
<rect x="569.2" class="q11"/>
<rect x="572.0" class="q15"/>
<rect x="574.7" class="q15"/>
<rect x="577.5" class="q11"/>
<rect x="580.2" class="q14"/>
<rect x="583.0" class="q8"/>
<rect x="585.7" class="q13"/>
</g>
<g class="w8">
<rect x="588.5" class="q17"/>
</g>
<g class="w9">
<rect x="591.1" class="q11"/>
<rect x="593.9" class="q15"/>
<rect x="596.7" class="q13"/>
<rect x="599.5" class="q13"/>
<rect x="602.4" class="q16"/>
<rect x="605.2" class="q12"/>
<rect x="608.0" class="q12"/>
<rect x="610.8" class="q15"/>
<rect x="613.6" class="q17"/>
<rect x="616.4" class="q12"/>
<rect x="619.2" class="q15"/>
<rect x="622.1" class="q15"/>
<rect x="624.9" class="q8"/>
<rect x="627.7" class="q15"/>
<rect x="630.5" class="q15"/>
<rect x="633.3" class="q13"/>
<rect x="636.1" class="q10"/>
<rect x="638.9" class="q8"/>
<rect x="641.8" class="q16"/>
<rect x="644.6" class="q16"/>
<rect x="647.4" class="q12"/>
</g>
</g>
<g transform="translate(0 127.29)">
<g class="w0">
<rect x="11.7" class="q20"/>
<rect x="14.5" class="q19"/>
<rect x="17.2" class="q19"/>
<rect x="20.0" class="q17"/>
<rect x="22.8" class="q17"/>
<rect x="25.5" class="q18"/>
<rect x="28.3" class="q16"/>
<rect x="31.1" class="q19"/>
<rect x="33.8" class="q20"/>
<rect x="36.6" class="q19"/>
<rect x="39.4" class="q19"/>
<rect x="42.1" class="q20"/>
<rect x="44.9" class="q17"/>
<rect x="47.7" class="q18"/>
<rect x="50.5" class="q17"/>
<rect x="53.2" class="q17"/>
<rect x="56.0" class="q17"/>
<rect x="58.8" class="q22"/>
<rect x="61.5" class="q18"/>
<rect x="64.3" class="q18"/>
<rect x="67.1" class="q19"/>
<rect x="69.8" class="q18"/>
<rect x="72.6" class="q22"/>
<rect x="75.4" class="q18"/>
<rect x="78.1" class="q20"/>
<rect x="80.9" class="q19"/>
<rect x="83.7" class="q18"/>
<rect x="86.4" class="q19"/>
<rect x="89.2" class="q19"/>
<rect x="92.0" class="q18"/>
<rect x="94.7" class="q17"/>
<rect x="97.5" class="q19"/>
<rect x="100.3" class="q18"/>
<rect x="103.0" class="q39"/>
<rect x="105.8" class="q40"/>
<rect x="108.6" class="q39"/>
<rect x="111.4" class="q39"/>
<rect x="114.1" class="q38"/>
<rect x="116.9" class="q38"/>
<rect x="119.7" class="q38"/>
<rect x="122.4" class="q39"/>
<rect x="125.2" class="q39"/>
<rect x="128.0" class="q39"/>
<rect x="130.7" class="q39"/>
</g>
<g class="w1">
<rect x="133.5" class="q39"/>
<rect x="136.2" class="q39"/>
<rect x="139.0" class="q39"/>
<rect x="141.8" class="q39"/>
</g>
<g class="w2">
<rect x="144.5" class="q18"/>
<rect x="147.3" class="q19"/>
<rect x="150.1" class="q19"/>
<rect x="152.9" class="q17"/>
<rect x="155.7" class="q18"/>
<rect x="158.5" class="q19"/>
<rect x="161.3" class="q18"/>
<rect x="164.1" class="q18"/>
<rect x="166.9" class="q16"/>
<rect x="169.7" class="q18"/>
<rect x="172.5" class="q18"/>
<rect x="175.3" class="q18"/>
<rect x="178.1" class="q17"/>
<rect x="180.9" class="q19"/>
<rect x="183.7" class="q17"/>
</g>
<g class="w3">
<rect x="186.5" class="q19"/>
<rect x="189.3" class="q20"/>
<rect x="192.0" class="q19"/>
<rect x="194.8" class="q17"/>
<rect x="197.6" class="q17"/>
<rect x="200.3" class="q18"/>
<rect x="203.1" class="q16"/>
<rect x="205.9" class="q17"/>
<rect x="208.7" class="q18"/>
<rect x="211.4" class="q18"/>
<rect x="214.2" class="q18"/>
<rect x="217.0" class="q20"/>
<rect x="219.7" class="q17"/>
<rect x="222.5" class="q17"/>
<rect x="225.3" class="q18"/>
<rect x="228.1" class="q20"/>
<rect x="230.8" class="q18"/>
<rect x="233.6" class="q18"/>
<rect x="236.4" class="q18"/>
<rect x="239.1" class="q18"/>
<rect x="241.9" class="q17"/>
<rect x="244.7" class="q18"/>
<rect x="247.4" class="q19"/>
<rect x="250.2" class="q17"/>
<rect x="253.0" class="q17"/>
<rect x="255.8" class="q16"/>
<rect x="258.5" class="q19"/>
<rect x="261.3" class="q18"/>
<rect x="264.1" class="q17"/>
<rect x="266.8" class="q18"/>
</g>
<g class="w4">
<rect x="269.6" class="q22"/>
<rect x="272.4" class="q23"/>
<rect x="275.2" class="q18"/>
<rect x="278.0" class="q21"/>
<rect x="280.8" class="q17"/>
<rect x="283.6" class="q22"/>
<rect x="286.4" class="q21"/>
<rect x="289.2" class="q20"/>
<rect x="292.0" class="q19"/>
<rect x="294.8" class="q22"/>
<rect x="297.6" class="q20"/>
<rect x="300.4" class="q19"/>
<rect x="303.2" class="q20"/>
<rect x="306.0" class="q16"/>
<rect x="308.7" class="q17"/>
<rect x="311.5" class="q17"/>
<rect x="314.3" class="q18"/>
<rect x="317.1" class="q18"/>
<rect x="319.9" class="q19"/>
<rect x="322.7" class="q20"/>
<rect x="325.5" class="q23"/>
<rect x="328.3" class="q19"/>
<rect x="331.1" class="q24"/>
<rect x="333.9" class="q19"/>
<rect x="336.7" class="q17"/>
<rect x="339.5" class="q18"/>
</g>
<g class="w5">
<rect x="342.3" class="q18"/>
<rect x="345.1" class="q17"/>
<rect x="347.8" class="q21"/>
<rect x="350.6" class="q22"/>
<rect x="353.4" class="q19"/>
<rect x="356.1" class="q19"/>
<rect x="358.9" class="q17"/>
<rect x="361.7" class="q17"/>
<rect x="364.4" class="q13"/>
<rect x="367.2" class="q15"/>
<rect x="370.0" class="q16"/>
<rect x="372.7" class="q20"/>
<rect x="375.5" class="q21"/>
<rect x="378.3" class="q17"/>
<rect x="381.1" class="q20"/>
<rect x="383.8" class="q21"/>
<rect x="386.6" class="q15"/>
<rect x="389.4" class="q16"/>
<rect x="392.1" class="q14"/>
<rect x="394.9" class="q19"/>
<rect x="397.7" class="q20"/>
<rect x="400.4" class="q16"/>
<rect x="403.2" class="q18"/>
<rect x="406.0" class="q19"/>
<rect x="408.7" class="q20"/>
<rect x="411.5" class="q20"/>
<rect x="414.3" class="q21"/>
<rect x="417.0" class="q15"/>
<rect x="419.8" class="q19"/>
<rect x="422.6" class="q17"/>
<rect x="425.3" class="q16"/>
<rect x="428.1" class="q21"/>
<rect x="430.9" class="q22"/>
<rect x="433.6" class="q25"/>
<rect x="436.4" class="q19"/>
<rect x="439.2" class="q18"/>
<rect x="441.9" class="q23"/>
<rect x="444.7" class="q22"/>
<rect x="447.5" class="q17"/>
<rect x="450.3" class="q17"/>
<rect x="453.0" class="q21"/>
<rect x="455.8" class="q17"/>
<rect x="458.6" class="q21"/>
<rect x="461.3" class="q20"/>
<rect x="464.1" class="q12"/>
<rect x="466.9" class="q17"/>
<rect x="469.6" class="q19"/>
<rect x="472.4" class="q19"/>
<rect x="475.2" class="q18"/>
<rect x="477.9" class="q19"/>
</g>
<g class="w6">
<rect x="480.7" class="q19"/>
<rect x="483.5" class="q16"/>
<rect x="486.3" class="q15"/>
<rect x="489.1" class="q17"/>
<rect x="492.0" class="q16"/>
<rect x="494.8" class="q16"/>
<rect x="497.6" class="q16"/>
</g>
<g class="w7">
<rect x="500.4" class="q17"/>
<rect x="503.2" class="q18"/>
<rect x="505.9" class="q19"/>
<rect x="508.7" class="q19"/>
<rect x="511.4" class="q18"/>
<rect x="514.2" class="q18"/>
<rect x="516.9" class="q18"/>
<rect x="519.7" class="q17"/>
<rect x="522.4" class="q18"/>
<rect x="525.2" class="q18"/>
<rect x="527.9" class="q18"/>
<rect x="530.7" class="q18"/>
<rect x="533.4" class="q19"/>
<rect x="536.2" class="q18"/>
<rect x="538.9" class="q18"/>
<rect x="541.7" class="q18"/>
<rect x="544.5" class="q18"/>
<rect x="547.2" class="q17"/>
<rect x="550.0" class="q18"/>
<rect x="552.7" class="q19"/>
<rect x="555.5" class="q16"/>
<rect x="558.2" class="q20"/>
<rect x="561.0" class="q18"/>
<rect x="563.7" class="q18"/>
<rect x="566.5" class="q19"/>
<rect x="569.2" class="q18"/>
<rect x="572.0" class="q17"/>
<rect x="574.7" class="q18"/>
<rect x="577.5" class="q17"/>
<rect x="580.2" class="q19"/>
<rect x="583.0" class="q17"/>
<rect x="585.7" class="q18"/>
</g>
<g class="w8">
<rect x="588.5" class="q27"/>
</g>
<g class="w9">
<rect x="591.1" class="q17"/>
<rect x="593.9" class="q18"/>
<rect x="596.7" class="q19"/>
<rect x="599.5" class="q18"/>
<rect x="602.4" class="q19"/>
<rect x="605.2" class="q19"/>
<rect x="608.0" class="q22"/>
<rect x="610.8" class="q18"/>
<rect x="613.6" class="q18"/>
<rect x="616.4" class="q20"/>
<rect x="619.2" class="q22"/>
<rect x="622.1" class="q17"/>
<rect x="624.9" class="q18"/>
<rect x="627.7" class="q19"/>
<rect x="630.5" class="q19"/>
<rect x="633.3" class="q18"/>
<rect x="636.1" class="q19"/>
<rect x="638.9" class="q19"/>
<rect x="641.8" class="q21"/>
<rect x="644.6" class="q20"/>
<rect x="647.4" class="q23"/>
</g>
</g>
<g transform="translate(0 132.17)">
<g class="w0">
<rect x="11.7" class="q15"/>
<rect x="14.5" class="q17"/>
<rect x="17.2" class="q16"/>
<rect x="20.0" class="q17"/>
<rect x="22.8" class="q16"/>
<rect x="25.5" class="q15"/>
<rect x="28.3" class="q16"/>
<rect x="31.1" class="q15"/>
<rect x="33.8" class="q14"/>
<rect x="36.6" class="q16"/>
<rect x="39.4" class="q17"/>
<rect x="42.1" class="q17"/>
<rect x="44.9" class="q18"/>
<rect x="47.7" class="q17"/>
<rect x="50.5" class="q18"/>
<rect x="53.2" class="q16"/>
<rect x="56.0" class="q16"/>
<rect x="58.8" class="q17"/>
<rect x="61.5" class="q15"/>
<rect x="64.3" class="q17"/>
<rect x="67.1" class="q16"/>
<rect x="69.8" class="q16"/>
<rect x="72.6" class="q15"/>
<rect x="75.4" class="q16"/>
<rect x="78.1" class="q17"/>
<rect x="80.9" class="q16"/>
<rect x="83.7" class="q15"/>
<rect x="86.4" class="q16"/>
<rect x="89.2" class="q17"/>
<rect x="92.0" class="q16"/>
<rect x="94.7" class="q15"/>
<rect x="97.5" class="q15"/>
<rect x="100.3" class="q15"/>
<rect x="103.0" class="q17"/>
<rect x="105.8" class="q16"/>
<rect x="108.6" class="q17"/>
<rect x="111.4" class="q17"/>
<rect x="114.1" class="q16"/>
<rect x="116.9" class="q17"/>
<rect x="119.7" class="q16"/>
<rect x="122.4" class="q14"/>
<rect x="125.2" class="q17"/>
<rect x="128.0" class="q16"/>
<rect x="130.7" class="q17"/>
</g>
<g class="w1">
<rect x="133.5" class="q20"/>
<rect x="136.2" class="q19"/>
<rect x="139.0" class="q20"/>
<rect x="141.8" class="q19"/>
</g>
<g class="w2">
<rect x="144.5" class="q40"/>
<rect x="147.3" class="q39"/>
<rect x="150.1" class="q39"/>
<rect x="152.9" class="q39"/>
<rect x="155.7" class="q40"/>
<rect x="158.5" class="q40"/>
<rect x="161.3" class="q39"/>
<rect x="164.1" class="q38"/>
<rect x="166.9" class="q39"/>
<rect x="169.7" class="q38"/>
<rect x="172.5" class="q38"/>
<rect x="175.3" class="q38"/>
<rect x="178.1" class="q40"/>
<rect x="180.9" class="q40"/>
<rect x="183.7" class="q40"/>
</g>
<g class="w3">
<rect x="186.5" class="q18"/>
<rect x="189.3" class="q18"/>
<rect x="192.0" class="q21"/>
<rect x="194.8" class="q18"/>
<rect x="197.6" class="q23"/>
<rect x="200.3" class="q18"/>
<rect x="203.1" class="q22"/>
<rect x="205.9" class="q20"/>
<rect x="208.7" class="q22"/>
<rect x="211.4" class="q18"/>
<rect x="214.2" class="q21"/>
<rect x="217.0" class="q22"/>
<rect x="219.7" class="q19"/>
<rect x="222.5" class="q19"/>
<rect x="225.3" class="q21"/>
<rect x="228.1" class="q25"/>
<rect x="230.8" class="q21"/>
<rect x="233.6" class="q21"/>
<rect x="236.4" class="q18"/>
<rect x="239.1" class="q23"/>
<rect x="241.9" class="q22"/>
<rect x="244.7" class="q23"/>
<rect x="247.4" class="q22"/>
<rect x="250.2" class="q25"/>
<rect x="253.0" class="q22"/>
<rect x="255.8" class="q20"/>
<rect x="258.5" class="q21"/>
<rect x="261.3" class="q24"/>
<rect x="264.1" class="q23"/>
<rect x="266.8" class="q22"/>
</g>
<g class="w4">
<rect x="269.6" class="q18"/>
<rect x="272.4" class="q19"/>
<rect x="275.2" class="q18"/>
<rect x="278.0" class="q18"/>
<rect x="280.8" class="q19"/>
<rect x="283.6" class="q18"/>
<rect x="286.4" class="q19"/>
<rect x="289.2" class="q21"/>
<rect x="292.0" class="q19"/>
<rect x="294.8" class="q18"/>
<rect x="297.6" class="q18"/>
<rect x="300.4" class="q18"/>
<rect x="303.2" class="q19"/>
<rect x="306.0" class="q19"/>
<rect x="308.7" class="q18"/>
<rect x="311.5" class="q18"/>
<rect x="314.3" class="q23"/>
<rect x="317.1" class="q18"/>
<rect x="319.9" class="q20"/>
<rect x="322.7" class="q19"/>
<rect x="325.5" class="q21"/>
<rect x="328.3" class="q19"/>
<rect x="331.1" class="q17"/>
<rect x="333.9" class="q20"/>
<rect x="336.7" class="q19"/>
<rect x="339.5" class="q18"/>
</g>
<g class="w5">
<rect x="342.3" class="q13"/>
<rect x="345.1" class="q19"/>
<rect x="347.8" class="q25"/>
<rect x="350.6" class="q18"/>
<rect x="353.4" class="q19"/>
<rect x="356.1" class="q19"/>
<rect x="358.9" class="q20"/>
<rect x="361.7" class="q19"/>
<rect x="364.4" class="q20"/>
<rect x="367.2" class="q20"/>
<rect x="370.0" class="q14"/>
<rect x="372.7" class="q22"/>
<rect x="375.5" class="q16"/>
<rect x="378.3" class="q18"/>
<rect x="381.1" class="q23"/>
<rect x="383.8" class="q18"/>
<rect x="386.6" class="q21"/>
<rect x="389.4" class="q15"/>
<rect x="392.1" class="q17"/>
<rect x="394.9" class="q16"/>
<rect x="397.7" class="q17"/>
<rect x="400.4" class="q14"/>
<rect x="403.2" class="q19"/>
<rect x="406.0" class="q15"/>
<rect x="408.7" class="q23"/>
<rect x="411.5" class="q19"/>
<rect x="414.3" class="q21"/>
<rect x="417.0" class="q18"/>
<rect x="419.8" class="q17"/>
<rect x="422.6" class="q19"/>
<rect x="425.3" class="q18"/>
<rect x="428.1" class="q22"/>
<rect x="430.9" class="q15"/>
<rect x="433.6" class="q17"/>
<rect x="436.4" class="q13"/>
<rect x="439.2" class="q20"/>
<rect x="441.9" class="q17"/>
<rect x="444.7" class="q19"/>
<rect x="447.5" class="q20"/>
<rect x="450.3" class="q20"/>
<rect x="453.0" class="q17"/>
<rect x="455.8" class="q16"/>
<rect x="458.6" class="q23"/>
<rect x="461.3" class="q17"/>
<rect x="464.1" class="q21"/>
<rect x="466.9" class="q18"/>
<rect x="469.6" class="q19"/>
<rect x="472.4" class="q22"/>
<rect x="475.2" class="q17"/>
<rect x="477.9" class="q15"/>
</g>
<g class="w6">
<rect x="480.7" class="q17"/>
<rect x="483.5" class="q17"/>
<rect x="486.3" class="q18"/>
<rect x="489.1" class="q19"/>
<rect x="492.0" class="q16"/>
<rect x="494.8" class="q17"/>
<rect x="497.6" class="q17"/>
</g>
<g class="w7">
<rect x="500.4" class="q18"/>
<rect x="503.2" class="q25"/>
<rect x="505.9" class="q18"/>
<rect x="508.7" class="q20"/>
<rect x="511.4" class="q19"/>
<rect x="514.2" class="q19"/>
<rect x="516.9" class="q17"/>
<rect x="519.7" class="q22"/>
<rect x="522.4" class="q19"/>
<rect x="525.2" class="q21"/>
<rect x="527.9" class="q21"/>
<rect x="530.7" class="q19"/>
<rect x="533.4" class="q18"/>
<rect x="536.2" class="q21"/>
<rect x="538.9" class="q19"/>
<rect x="541.7" class="q21"/>
<rect x="544.5" class="q19"/>
<rect x="547.2" class="q19"/>
<rect x="550.0" class="q22"/>
<rect x="552.7" class="q17"/>
<rect x="555.5" class="q19"/>
<rect x="558.2" class="q21"/>
<rect x="561.0" class="q23"/>
<rect x="563.7" class="q19"/>
<rect x="566.5" class="q18"/>
<rect x="569.2" class="q21"/>
<rect x="572.0" class="q22"/>
<rect x="574.7" class="q21"/>
<rect x="577.5" class="q32"/>
<rect x="580.2" class="q20"/>
<rect x="583.0" class="q19"/>
<rect x="585.7" class="q18"/>
</g>
<g class="w8">
<rect x="588.5" class="q20"/>
</g>
<g class="w9">
<rect x="591.1" class="q20"/>
<rect x="593.9" class="q17"/>
<rect x="596.7" class="q19"/>
<rect x="599.5" class="q19"/>
<rect x="602.4" class="q19"/>
<rect x="605.2" class="q19"/>
<rect x="608.0" class="q19"/>
<rect x="610.8" class="q17"/>
<rect x="613.6" class="q20"/>
<rect x="616.4" class="q19"/>
<rect x="619.2" class="q17"/>
<rect x="622.1" class="q19"/>
<rect x="624.9" class="q18"/>
<rect x="627.7" class="q19"/>
<rect x="630.5" class="q20"/>
<rect x="633.3" class="q20"/>
<rect x="636.1" class="q18"/>
<rect x="638.9" class="q18"/>
<rect x="641.8" class="q19"/>
<rect x="644.6" class="q20"/>
<rect x="647.4" class="q19"/>
</g>
</g>
<g transform="translate(0 137.06)">
<g class="w0">
<rect x="11.7" class="q27"/>
<rect x="14.5" class="q25"/>
<rect x="17.2" class="q21"/>
<rect x="20.0" class="q26"/>
<rect x="22.8" class="q16"/>
<rect x="25.5" class="q18"/>
<rect x="28.3" class="q39"/>
<rect x="31.1" class="q18"/>
<rect x="33.8" class="q14"/>
<rect x="36.6" class="q16"/>
<rect x="39.4" class="q13"/>
<rect x="42.1" class="q17"/>
<rect x="44.9" class="q11"/>
<rect x="47.7" class="q8"/>
<rect x="50.5" class="q11"/>
<rect x="53.2" class="q12"/>
<rect x="56.0" class="q12"/>
<rect x="58.8" class="q9"/>
<rect x="61.5" class="q19"/>
<rect x="64.3" class="q18"/>
<rect x="67.1" class="q18"/>
<rect x="69.8" class="q19"/>
<rect x="72.6" class="q15"/>
<rect x="75.4" class="q19"/>
<rect x="78.1" class="q16"/>
<rect x="80.9" class="q14"/>
<rect x="83.7" class="q10"/>
<rect x="86.4" class="q20"/>
<rect x="89.2" class="q15"/>
<rect x="92.0" class="q15"/>
<rect x="94.7" class="q12"/>
<rect x="97.5" class="q12"/>
<rect x="100.3" class="q17"/>
<rect x="103.0" class="q12"/>
<rect x="105.8" class="q17"/>
<rect x="108.6" class="q17"/>
<rect x="111.4" class="q14"/>
<rect x="114.1" class="q10"/>
<rect x="116.9" class="q16"/>
<rect x="119.7" class="q19"/>
<rect x="122.4" class="q12"/>
<rect x="125.2" class="q11"/>
<rect x="128.0" class="q18"/>
<rect x="130.7" class="q15"/>
</g>
<g class="w1">
<rect x="133.5" class="q15"/>
<rect x="136.2" class="q4"/>
<rect x="139.0" class="q29"/>
<rect x="141.8" class="q15"/>
</g>
<g class="w2">
<rect x="144.5" class="q38"/>
<rect x="147.3" class="q38"/>
<rect x="150.1" class="q39"/>
<rect x="152.9" class="q40"/>
<rect x="155.7" class="q38"/>
<rect x="158.5" class="q40"/>
<rect x="161.3" class="q39"/>
<rect x="164.1" class="q40"/>
<rect x="166.9" class="q39"/>
<rect x="169.7" class="q39"/>
<rect x="172.5" class="q38"/>
<rect x="175.3" class="q38"/>
<rect x="178.1" class="q40"/>
<rect x="180.9" class="q39"/>
<rect x="183.7" class="q39"/>
</g>
<g class="w3">
<rect x="186.5" class="q35"/>
<rect x="189.3" class="q32"/>
<rect x="192.0" class="q33"/>
<rect x="194.8" class="q27"/>
<rect x="197.6" class="q34"/>
<rect x="200.3" class="q31"/>
<rect x="203.1" class="q35"/>
<rect x="205.9" class="q32"/>
<rect x="208.7" class="q32"/>
<rect x="211.4" class="q33"/>
<rect x="214.2" class="q32"/>
<rect x="217.0" class="q31"/>
<rect x="219.7" class="q23"/>
<rect x="222.5" class="q22"/>
<rect x="225.3" class="q27"/>
<rect x="228.1" class="q29"/>
<rect x="230.8" class="q29"/>
<rect x="233.6" class="q28"/>
<rect x="236.4" class="q27"/>
<rect x="239.1" class="q27"/>
<rect x="241.9" class="q38"/>
<rect x="244.7" class="q39"/>
<rect x="247.4" class="q27"/>
<rect x="250.2" class="q25"/>
<rect x="253.0" class="q26"/>
<rect x="255.8" class="q27"/>
<rect x="258.5" class="q24"/>
<rect x="261.3" class="q26"/>
<rect x="264.1" class="q27"/>
<rect x="266.8" class="q11"/>
</g>
<g class="w4">
<rect x="269.6" class="q16"/>
<rect x="272.4" class="q21"/>
<rect x="275.2" class="q27"/>
<rect x="278.0" class="q22"/>
<rect x="280.8" class="q23"/>
<rect x="283.6" class="q16"/>
<rect x="286.4" class="q12"/>
<rect x="289.2" class="q11"/>
<rect x="292.0" class="q12"/>
<rect x="294.8" class="q7"/>
<rect x="297.6" class="q23"/>
<rect x="300.4" class="q9"/>
<rect x="303.2" class="q14"/>
<rect x="306.0" class="q22"/>
<rect x="308.7" class="q6"/>
<rect x="311.5" class="q20"/>
<rect x="314.3" class="q14"/>
<rect x="317.1" class="q14"/>
<rect x="319.9" class="q21"/>
<rect x="322.7" class="q18"/>
<rect x="325.5" class="q14"/>
<rect x="328.3" class="q11"/>
<rect x="331.1" class="q27"/>
<rect x="333.9" class="q26"/>
<rect x="336.7" class="q12"/>
<rect x="339.5" class="q20"/>
</g>
<g class="w5">
<rect x="342.3" class="q16"/>
<rect x="345.1" class="q17"/>
<rect x="347.8" class="q16"/>
<rect x="350.6" class="q22"/>
<rect x="353.4" class="q16"/>
<rect x="356.1" class="q14"/>
<rect x="358.9" class="q15"/>
<rect x="361.7" class="q7"/>
<rect x="364.4" class="q15"/>
<rect x="367.2" class="q17"/>
<rect x="370.0" class="q13"/>
<rect x="372.7" class="q20"/>
<rect x="375.5" class="q18"/>
<rect x="378.3" class="q17"/>
<rect x="381.1" class="q15"/>
<rect x="383.8" class="q23"/>
<rect x="386.6" class="q26"/>
<rect x="389.4" class="q15"/>
<rect x="392.1" class="q15"/>
<rect x="394.9" class="q23"/>
<rect x="397.7" class="q18"/>
<rect x="400.4" class="q15"/>
<rect x="403.2" class="q12"/>
<rect x="406.0" class="q18"/>
<rect x="408.7" class="q9"/>
<rect x="411.5" class="q9"/>
<rect x="414.3" class="q18"/>
<rect x="417.0" class="q12"/>
<rect x="419.8" class="q7"/>
<rect x="422.6" class="q10"/>
<rect x="425.3" class="q7"/>
<rect x="428.1" class="q11"/>
<rect x="430.9" class="q18"/>
<rect x="433.6" class="q17"/>
<rect x="436.4" class="q12"/>
<rect x="439.2" class="q9"/>
<rect x="441.9" class="q20"/>
<rect x="444.7" class="q18"/>
<rect x="447.5" class="q9"/>
<rect x="450.3" class="q13"/>
<rect x="453.0" class="q17"/>
<rect x="455.8" class="q8"/>
<rect x="458.6" class="q13"/>
<rect x="461.3" class="q13"/>
<rect x="464.1" class="q6"/>
<rect x="466.9" class="q20"/>
<rect x="469.6" class="q18"/>
<rect x="472.4" class="q11"/>
<rect x="475.2" class="q20"/>
<rect x="477.9" class="q19"/>
</g>
<g class="w6">
<rect x="480.7" class="q9"/>
<rect x="483.5" class="q6"/>
<rect x="486.3" class="q14"/>
<rect x="489.1" class="q14"/>
<rect x="492.0" class="q8"/>
<rect x="494.8" class="q6"/>
<rect x="497.6" class="q13"/>
</g>
<g class="w7">
<rect x="500.4" class="q7"/>
<rect x="503.2" class="q20"/>
<rect x="505.9" class="q18"/>
<rect x="508.7" class="q16"/>
<rect x="511.4" class="q14"/>
<rect x="514.2" class="q26"/>
<rect x="516.9" class="q13"/>
<rect x="519.7" class="q11"/>
<rect x="522.4" class="q12"/>
<rect x="525.2" class="q19"/>
<rect x="527.9" class="q6"/>
<rect x="530.7" class="q6"/>
<rect x="533.4" class="q19"/>
<rect x="536.2" class="q17"/>
<rect x="538.9" class="q15"/>
<rect x="541.7" class="q15"/>
<rect x="544.5" class="q11"/>
<rect x="547.2" class="q20"/>
<rect x="550.0" class="q15"/>
<rect x="552.7" class="q14"/>
<rect x="555.5" class="q14"/>
<rect x="558.2" class="q16"/>
<rect x="561.0" class="q21"/>
<rect x="563.7" class="q17"/>
<rect x="566.5" class="q22"/>
<rect x="569.2" class="q16"/>
<rect x="572.0" class="q17"/>
<rect x="574.7" class="q6"/>
<rect x="577.5" class="q7"/>
<rect x="580.2" class="q8"/>
<rect x="583.0" class="q6"/>
<rect x="585.7" class="q17"/>
</g>
<g class="w8">
<rect x="588.5" class="q26"/>
</g>
<g class="w9">
<rect x="591.1" class="q39"/>
<rect x="593.9" class="q35"/>
<rect x="596.7" class="q36"/>
<rect x="599.5" class="q33"/>
<rect x="602.4" class="q37"/>
<rect x="605.2" class="q40"/>
<rect x="608.0" class="q37"/>
<rect x="610.8" class="q37"/>
<rect x="613.6" class="q38"/>
<rect x="616.4" class="q37"/>
<rect x="619.2" class="q34"/>
<rect x="622.1" class="q36"/>
<rect x="624.9" class="q37"/>
<rect x="627.7" class="q35"/>
<rect x="630.5" class="q15"/>
<rect x="633.3" class="q18"/>
<rect x="636.1" class="q15"/>
<rect x="638.9" class="q13"/>
<rect x="641.8" class="q13"/>
<rect x="644.6" class="q15"/>
<rect x="647.4" class="q14"/>
</g>
</g>
<g transform="translate(0 141.95)">
<g class="w0">
<rect x="11.7" class="q15"/>
<rect x="14.5" class="q16"/>
<rect x="17.2" class="q15"/>
<rect x="20.0" class="q15"/>
<rect x="22.8" class="q18"/>
<rect x="25.5" class="q16"/>
<rect x="28.3" class="q14"/>
<rect x="31.1" class="q17"/>
<rect x="33.8" class="q16"/>
<rect x="36.6" class="q16"/>
<rect x="39.4" class="q16"/>
<rect x="42.1" class="q17"/>
<rect x="44.9" class="q16"/>
<rect x="47.7" class="q16"/>
<rect x="50.5" class="q16"/>
<rect x="53.2" class="q19"/>
<rect x="56.0" class="q17"/>
<rect x="58.8" class="q13"/>
<rect x="61.5" class="q14"/>
<rect x="64.3" class="q17"/>
<rect x="67.1" class="q15"/>
<rect x="69.8" class="q18"/>
<rect x="72.6" class="q14"/>
<rect x="75.4" class="q16"/>
<rect x="78.1" class="q18"/>
<rect x="80.9" class="q16"/>
<rect x="83.7" class="q17"/>
<rect x="86.4" class="q19"/>
<rect x="89.2" class="q14"/>
<rect x="92.0" class="q16"/>
<rect x="94.7" class="q14"/>
<rect x="97.5" class="q15"/>
<rect x="100.3" class="q13"/>
<rect x="103.0" class="q15"/>
<rect x="105.8" class="q17"/>
<rect x="108.6" class="q18"/>
<rect x="111.4" class="q18"/>
<rect x="114.1" class="q17"/>
<rect x="116.9" class="q16"/>
<rect x="119.7" class="q19"/>
<rect x="122.4" class="q16"/>
<rect x="125.2" class="q14"/>
<rect x="128.0" class="q14"/>
<rect x="130.7" class="q14"/>
</g>
<g class="w1">
<rect x="133.5" class="q13"/>
<rect x="136.2" class="q17"/>
<rect x="139.0" class="q19"/>
<rect x="141.8" class="q17"/>
</g>
<g class="w2">
<rect x="144.5" class="q17"/>
<rect x="147.3" class="q15"/>
<rect x="150.1" class="q15"/>
<rect x="152.9" class="q14"/>
<rect x="155.7" class="q16"/>
<rect x="158.5" class="q16"/>
<rect x="161.3" class="q15"/>
<rect x="164.1" class="q16"/>
<rect x="166.9" class="q15"/>
<rect x="169.7" class="q16"/>
<rect x="172.5" class="q17"/>
<rect x="175.3" class="q14"/>
<rect x="178.1" class="q17"/>
<rect x="180.9" class="q17"/>
<rect x="183.7" class="q18"/>
</g>
<g class="w3">
<rect x="186.5" class="q15"/>
<rect x="189.3" class="q16"/>
<rect x="192.0" class="q16"/>
<rect x="194.8" class="q17"/>
<rect x="197.6" class="q17"/>
<rect x="200.3" class="q15"/>
<rect x="203.1" class="q15"/>
<rect x="205.9" class="q16"/>
<rect x="208.7" class="q16"/>
<rect x="211.4" class="q17"/>
<rect x="214.2" class="q17"/>
<rect x="217.0" class="q17"/>
<rect x="219.7" class="q17"/>
<rect x="222.5" class="q14"/>
<rect x="225.3" class="q16"/>
<rect x="228.1" class="q15"/>
<rect x="230.8" class="q15"/>
<rect x="233.6" class="q16"/>
<rect x="236.4" class="q19"/>
<rect x="239.1" class="q14"/>
<rect x="241.9" class="q15"/>
<rect x="244.7" class="q16"/>
<rect x="247.4" class="q13"/>
<rect x="250.2" class="q14"/>
<rect x="253.0" class="q15"/>
<rect x="255.8" class="q15"/>
<rect x="258.5" class="q15"/>
<rect x="261.3" class="q12"/>
<rect x="264.1" class="q14"/>
<rect x="266.8" class="q15"/>
</g>
<g class="w4">
<rect x="269.6" class="q40"/>
<rect x="272.4" class="q40"/>
<rect x="275.2" class="q40"/>
<rect x="278.0" class="q40"/>
<rect x="280.8" class="q40"/>
<rect x="283.6" class="q40"/>
<rect x="286.4" class="q39"/>
<rect x="289.2" class="q40"/>
<rect x="292.0" class="q40"/>
<rect x="294.8" class="q40"/>
<rect x="297.6" class="q40"/>
<rect x="300.4" class="q39"/>
<rect x="303.2" class="q40"/>
<rect x="306.0" class="q39"/>
<rect x="308.7" class="q40"/>
<rect x="311.5" class="q40"/>
<rect x="314.3" class="q39"/>
<rect x="317.1" class="q39"/>
<rect x="319.9" class="q40"/>
<rect x="322.7" class="q40"/>
<rect x="325.5" class="q40"/>
<rect x="328.3" class="q40"/>
<rect x="331.1" class="q40"/>
<rect x="333.9" class="q40"/>
<rect x="336.7" class="q40"/>
<rect x="339.5" class="q40"/>
</g>
<g class="w5">
<rect x="342.3" class="q16"/>
<rect x="345.1" class="q13"/>
<rect x="347.8" class="q12"/>
<rect x="350.6" class="q17"/>
<rect x="353.4" class="q14"/>
<rect x="356.1" class="q16"/>
<rect x="358.9" class="q16"/>
<rect x="361.7" class="q18"/>
<rect x="364.4" class="q17"/>
<rect x="367.2" class="q13"/>
<rect x="370.0" class="q20"/>
<rect x="372.7" class="q17"/>
<rect x="375.5" class="q14"/>
<rect x="378.3" class="q17"/>
<rect x="381.1" class="q15"/>
<rect x="383.8" class="q19"/>
<rect x="386.6" class="q16"/>
<rect x="389.4" class="q18"/>
<rect x="392.1" class="q16"/>
<rect x="394.9" class="q18"/>
<rect x="397.7" class="q17"/>
<rect x="400.4" class="q16"/>
<rect x="403.2" class="q17"/>
<rect x="406.0" class="q19"/>
<rect x="408.7" class="q17"/>
<rect x="411.5" class="q16"/>
<rect x="414.3" class="q16"/>
<rect x="417.0" class="q16"/>
<rect x="419.8" class="q15"/>
<rect x="422.6" class="q13"/>
<rect x="425.3" class="q17"/>
<rect x="428.1" class="q16"/>
<rect x="430.9" class="q15"/>
<rect x="433.6" class="q18"/>
<rect x="436.4" class="q15"/>
<rect x="439.2" class="q15"/>
<rect x="441.9" class="q12"/>
<rect x="444.7" class="q18"/>
<rect x="447.5" class="q17"/>
<rect x="450.3" class="q17"/>
<rect x="453.0" class="q18"/>
<rect x="455.8" class="q13"/>
<rect x="458.6" class="q15"/>
<rect x="461.3" class="q17"/>
<rect x="464.1" class="q14"/>
<rect x="466.9" class="q15"/>
<rect x="469.6" class="q19"/>
<rect x="472.4" class="q21"/>
<rect x="475.2" class="q18"/>
<rect x="477.9" class="q16"/>
</g>
<g class="w6">
<rect x="480.7" class="q18"/>
<rect x="483.5" class="q17"/>
<rect x="486.3" class="q17"/>
<rect x="489.1" class="q15"/>
<rect x="492.0" class="q16"/>
<rect x="494.8" class="q19"/>
<rect x="497.6" class="q17"/>
</g>
<g class="w7">
<rect x="500.4" class="q16"/>
<rect x="503.2" class="q15"/>
<rect x="505.9" class="q16"/>
<rect x="508.7" class="q17"/>
<rect x="511.4" class="q18"/>
<rect x="514.2" class="q14"/>
<rect x="516.9" class="q16"/>
<rect x="519.7" class="q16"/>
<rect x="522.4" class="q16"/>
<rect x="525.2" class="q15"/>
<rect x="527.9" class="q16"/>
<rect x="530.7" class="q14"/>
<rect x="533.4" class="q17"/>
<rect x="536.2" class="q19"/>
<rect x="538.9" class="q17"/>
<rect x="541.7" class="q18"/>
<rect x="544.5" class="q16"/>
<rect x="547.2" class="q16"/>
<rect x="550.0" class="q18"/>
<rect x="552.7" class="q17"/>
<rect x="555.5" class="q16"/>
<rect x="558.2" class="q16"/>
<rect x="561.0" class="q16"/>
<rect x="563.7" class="q17"/>
<rect x="566.5" class="q15"/>
<rect x="569.2" class="q19"/>
<rect x="572.0" class="q17"/>
<rect x="574.7" class="q16"/>
<rect x="577.5" class="q14"/>
<rect x="580.2" class="q16"/>
<rect x="583.0" class="q16"/>
<rect x="585.7" class="q16"/>
</g>
<g class="w8">
<rect x="588.5" class="q17"/>
</g>
<g class="w9">
<rect x="591.1" class="q15"/>
<rect x="593.9" class="q16"/>
<rect x="596.7" class="q17"/>
<rect x="599.5" class="q18"/>
<rect x="602.4" class="q18"/>
<rect x="605.2" class="q17"/>
<rect x="608.0" class="q20"/>
<rect x="610.8" class="q20"/>
<rect x="613.6" class="q14"/>
<rect x="616.4" class="q17"/>
<rect x="619.2" class="q17"/>
<rect x="622.1" class="q16"/>
<rect x="624.9" class="q17"/>
<rect x="627.7" class="q20"/>
<rect x="630.5" class="q17"/>
<rect x="633.3" class="q15"/>
<rect x="636.1" class="q17"/>
<rect x="638.9" class="q18"/>
<rect x="641.8" class="q17"/>
<rect x="644.6" class="q17"/>
<rect x="647.4" class="q19"/>
</g>
</g>
<g transform="translate(0 146.83)">
<g class="w0">
<rect x="11.7" class="q18"/>
<rect x="14.5" class="q16"/>
<rect x="17.2" class="q19"/>
<rect x="20.0" class="q20"/>
<rect x="22.8" class="q15"/>
<rect x="25.5" class="q18"/>
<rect x="28.3" class="q18"/>
<rect x="31.1" class="q18"/>
<rect x="33.8" class="q18"/>
<rect x="36.6" class="q17"/>
<rect x="39.4" class="q19"/>
<rect x="42.1" class="q16"/>
<rect x="44.9" class="q20"/>
<rect x="47.7" class="q19"/>
<rect x="50.5" class="q9"/>
<rect x="53.2" class="q18"/>
<rect x="56.0" class="q38"/>
<rect x="58.8" class="q19"/>
<rect x="61.5" class="q18"/>
<rect x="64.3" class="q19"/>
<rect x="67.1" class="q17"/>
<rect x="69.8" class="q18"/>
<rect x="72.6" class="q15"/>
<rect x="75.4" class="q19"/>
<rect x="78.1" class="q19"/>
<rect x="80.9" class="q22"/>
<rect x="83.7" class="q20"/>
<rect x="86.4" class="q19"/>
<rect x="89.2" class="q22"/>
<rect x="92.0" class="q14"/>
<rect x="94.7" class="q21"/>
<rect x="97.5" class="q15"/>
<rect x="100.3" class="q13"/>
<rect x="103.0" class="q17"/>
<rect x="105.8" class="q19"/>
<rect x="108.6" class="q17"/>
<rect x="111.4" class="q18"/>
<rect x="114.1" class="q18"/>
<rect x="116.9" class="q16"/>
<rect x="119.7" class="q18"/>
<rect x="122.4" class="q21"/>
<rect x="125.2" class="q21"/>
<rect x="128.0" class="q19"/>
<rect x="130.7" class="q15"/>
</g>
<g class="w1">
<rect x="133.5" class="q13"/>
<rect x="136.2" class="q16"/>
<rect x="139.0" class="q13"/>
<rect x="141.8" class="q14"/>
</g>
<g class="w2">
<rect x="144.5" class="q13"/>
<rect x="147.3" class="q20"/>
<rect x="150.1" class="q14"/>
<rect x="152.9" class="q17"/>
<rect x="155.7" class="q12"/>
<rect x="158.5" class="q13"/>
<rect x="161.3" class="q12"/>
<rect x="164.1" class="q10"/>
<rect x="166.9" class="q12"/>
<rect x="169.7" class="q12"/>
<rect x="172.5" class="q11"/>
<rect x="175.3" class="q18"/>
<rect x="178.1" class="q12"/>
<rect x="180.9" class="q16"/>
<rect x="183.7" class="q13"/>
</g>
<g class="w3">
<rect x="186.5" class="q17"/>
<rect x="189.3" class="q8"/>
<rect x="192.0" class="q16"/>
<rect x="194.8" class="q16"/>
<rect x="197.6" class="q16"/>
<rect x="200.3" class="q13"/>
<rect x="203.1" class="q16"/>
<rect x="205.9" class="q10"/>
<rect x="208.7" class="q17"/>
<rect x="211.4" class="q17"/>
<rect x="214.2" class="q15"/>
<rect x="217.0" class="q14"/>
<rect x="219.7" class="q22"/>
<rect x="222.5" class="q18"/>
<rect x="225.3" class="q14"/>
<rect x="228.1" class="q15"/>
<rect x="230.8" class="q9"/>
<rect x="233.6" class="q16"/>
<rect x="236.4" class="q15"/>
<rect x="239.1" class="q14"/>
<rect x="241.9" class="q16"/>
<rect x="244.7" class="q8"/>
<rect x="247.4" class="q10"/>
<rect x="250.2" class="q13"/>
<rect x="253.0" class="q14"/>
<rect x="255.8" class="q8"/>
<rect x="258.5" class="q18"/>
<rect x="261.3" class="q14"/>
<rect x="264.1" class="q14"/>
<rect x="266.8" class="q14"/>
</g>
<g class="w4">
<rect x="269.6" class="q10"/>
<rect x="272.4" class="q18"/>
<rect x="275.2" class="q14"/>
<rect x="278.0" class="q17"/>
<rect x="280.8" class="q11"/>
<rect x="283.6" class="q10"/>
<rect x="286.4" class="q22"/>
<rect x="289.2" class="q14"/>
<rect x="292.0" class="q18"/>
<rect x="294.8" class="q9"/>
<rect x="297.6" class="q20"/>
<rect x="300.4" class="q18"/>
<rect x="303.2" class="q5"/>
<rect x="306.0" class="q8"/>
<rect x="308.7" class="q14"/>
<rect x="311.5" class="q10"/>
<rect x="314.3" class="q9"/>
<rect x="317.1" class="q14"/>
<rect x="319.9" class="q18"/>
<rect x="322.7" class="q14"/>
<rect x="325.5" class="q18"/>
<rect x="328.3" class="q25"/>
<rect x="331.1" class="q14"/>
<rect x="333.9" class="q20"/>
<rect x="336.7" class="q7"/>
<rect x="339.5" class="q19"/>
</g>
<g class="w5">
<rect x="342.3" class="q38"/>
<rect x="345.1" class="q33"/>
<rect x="347.8" class="q30"/>
<rect x="350.6" class="q28"/>
<rect x="353.4" class="q35"/>
<rect x="356.1" class="q34"/>
<rect x="358.9" class="q34"/>
<rect x="361.7" class="q40"/>
<rect x="364.4" class="q29"/>
<rect x="367.2" class="q35"/>
<rect x="370.0" class="q34"/>
<rect x="372.7" class="q26"/>
<rect x="375.5" class="q31"/>
<rect x="378.3" class="q31"/>
<rect x="381.1" class="q36"/>
<rect x="383.8" class="q38"/>
<rect x="386.6" class="q31"/>
<rect x="389.4" class="q30"/>
<rect x="392.1" class="q31"/>
<rect x="394.9" class="q28"/>
<rect x="397.7" class="q32"/>
<rect x="400.4" class="q32"/>
<rect x="403.2" class="q40"/>
<rect x="406.0" class="q40"/>
<rect x="408.7" class="q40"/>
<rect x="411.5" class="q35"/>
<rect x="414.3" class="q35"/>
<rect x="417.0" class="q33"/>
<rect x="419.8" class="q40"/>
<rect x="422.6" class="q35"/>
<rect x="425.3" class="q30"/>
<rect x="428.1" class="q31"/>
<rect x="430.9" class="q36"/>
<rect x="433.6" class="q31"/>
<rect x="436.4" class="q35"/>
<rect x="439.2" class="q33"/>
<rect x="441.9" class="q40"/>
<rect x="444.7" class="q36"/>
<rect x="447.5" class="q32"/>
<rect x="450.3" class="q37"/>
<rect x="453.0" class="q31"/>
<rect x="455.8" class="q35"/>
<rect x="458.6" class="q40"/>
<rect x="461.3" class="q32"/>
<rect x="464.1" class="q40"/>
<rect x="466.9" class="q25"/>
<rect x="469.6" class="q31"/>
<rect x="472.4" class="q31"/>
<rect x="475.2" class="q32"/>
<rect x="477.9" class="q32"/>
</g>
<g class="w6">
<rect x="480.7" class="q13"/>
<rect x="483.5" class="q12"/>
<rect x="486.3" class="q15"/>
<rect x="489.1" class="q10"/>
<rect x="492.0" class="q14"/>
<rect x="494.8" class="q9"/>
<rect x="497.6" class="q12"/>
</g>
<g class="w7">
<rect x="500.4" class="q12"/>
<rect x="503.2" class="q18"/>
<rect x="505.9" class="q13"/>
<rect x="508.7" class="q16"/>
<rect x="511.4" class="q15"/>
<rect x="514.2" class="q15"/>
<rect x="516.9" class="q13"/>
<rect x="519.7" class="q13"/>
<rect x="522.4" class="q15"/>
<rect x="525.2" class="q15"/>
<rect x="527.9" class="q14"/>
<rect x="530.7" class="q15"/>
<rect x="533.4" class="q12"/>
<rect x="536.2" class="q13"/>
<rect x="538.9" class="q14"/>
<rect x="541.7" class="q16"/>
<rect x="544.5" class="q9"/>
<rect x="547.2" class="q10"/>
<rect x="550.0" class="q19"/>
<rect x="552.7" class="q11"/>
<rect x="555.5" class="q15"/>
<rect x="558.2" class="q8"/>
<rect x="561.0" class="q15"/>
<rect x="563.7" class="q15"/>
<rect x="566.5" class="q18"/>
<rect x="569.2" class="q15"/>
<rect x="572.0" class="q11"/>
<rect x="574.7" class="q15"/>
<rect x="577.5" class="q12"/>
<rect x="580.2" class="q13"/>
<rect x="583.0" class="q12"/>
<rect x="585.7" class="q15"/>
</g>
<g class="w8">
<rect x="588.5" class="q20"/>
</g>
<g class="w9">
<rect x="591.1" class="q33"/>
<rect x="593.9" class="q32"/>
<rect x="596.7" class="q23"/>
<rect x="599.5" class="q21"/>
<rect x="602.4" class="q32"/>
<rect x="605.2" class="q29"/>
<rect x="608.0" class="q34"/>
<rect x="610.8" class="q27"/>
<rect x="613.6" class="q23"/>
<rect x="616.4" class="q31"/>
<rect x="619.2" class="q25"/>
<rect x="622.1" class="q19"/>
<rect x="624.9" class="q24"/>
<rect x="627.7" class="q23"/>
<rect x="630.5" class="q21"/>
<rect x="633.3" class="q25"/>
<rect x="636.1" class="q34"/>
<rect x="638.9" class="q25"/>
<rect x="641.8" class="q22"/>
<rect x="644.6" class="q34"/>
<rect x="647.4" class="q30"/>
</g>
</g>
<g transform="translate(0 151.72)">
<g class="w0">
<rect x="11.7" class="q21"/>
<rect x="14.5" class="q21"/>
<rect x="17.2" class="q24"/>
<rect x="20.0" class="q21"/>
<rect x="22.8" class="q19"/>
<rect x="25.5" class="q18"/>
<rect x="28.3" class="q18"/>
<rect x="31.1" class="q21"/>
<rect x="33.8" class="q18"/>
<rect x="36.6" class="q25"/>
<rect x="39.4" class="q24"/>
<rect x="42.1" class="q23"/>
<rect x="44.9" class="q19"/>
<rect x="47.7" class="q17"/>
<rect x="50.5" class="q10"/>
<rect x="53.2" class="q22"/>
<rect x="56.0" class="q38"/>
<rect x="58.8" class="q24"/>
<rect x="61.5" class="q17"/>
<rect x="64.3" class="q19"/>
<rect x="67.1" class="q17"/>
<rect x="69.8" class="q22"/>
<rect x="72.6" class="q14"/>
<rect x="75.4" class="q18"/>
<rect x="78.1" class="q19"/>
<rect x="80.9" class="q10"/>
<rect x="83.7" class="q14"/>
<rect x="86.4" class="q20"/>
<rect x="89.2" class="q12"/>
<rect x="92.0" class="q18"/>
<rect x="94.7" class="q18"/>
<rect x="97.5" class="q13"/>
<rect x="100.3" class="q16"/>
<rect x="103.0" class="q17"/>
<rect x="105.8" class="q17"/>
<rect x="108.6" class="q15"/>
<rect x="111.4" class="q11"/>
<rect x="114.1" class="q14"/>
<rect x="116.9" class="q18"/>
<rect x="119.7" class="q14"/>
<rect x="122.4" class="q13"/>
<rect x="125.2" class="q20"/>
<rect x="128.0" class="q13"/>
<rect x="130.7" class="q12"/>
</g>
<g class="w1">
<rect x="133.5" class="q16"/>
<rect x="136.2" class="q17"/>
<rect x="139.0" class="q12"/>
<rect x="141.8" class="q16"/>
</g>
<g class="w2">
<rect x="144.5" class="q15"/>
<rect x="147.3" class="q10"/>
<rect x="150.1" class="q15"/>
<rect x="152.9" class="q19"/>
<rect x="155.7" class="q11"/>
<rect x="158.5" class="q16"/>
<rect x="161.3" class="q14"/>
<rect x="164.1" class="q15"/>
<rect x="166.9" class="q14"/>
<rect x="169.7" class="q15"/>
<rect x="172.5" class="q14"/>
<rect x="175.3" class="q15"/>
<rect x="178.1" class="q18"/>
<rect x="180.9" class="q11"/>
<rect x="183.7" class="q9"/>
</g>
<g class="w3">
<rect x="186.5" class="q18"/>
<rect x="189.3" class="q11"/>
<rect x="192.0" class="q12"/>
<rect x="194.8" class="q14"/>
<rect x="197.6" class="q13"/>
<rect x="200.3" class="q15"/>
<rect x="203.1" class="q16"/>
<rect x="205.9" class="q16"/>
<rect x="208.7" class="q18"/>
<rect x="211.4" class="q12"/>
<rect x="214.2" class="q16"/>
<rect x="217.0" class="q10"/>
<rect x="219.7" class="q22"/>
<rect x="222.5" class="q10"/>
<rect x="225.3" class="q17"/>
<rect x="228.1" class="q19"/>
<rect x="230.8" class="q12"/>
<rect x="233.6" class="q14"/>
<rect x="236.4" class="q14"/>
<rect x="239.1" class="q16"/>
<rect x="241.9" class="q19"/>
<rect x="244.7" class="q11"/>
<rect x="247.4" class="q12"/>
<rect x="250.2" class="q12"/>
<rect x="253.0" class="q12"/>
<rect x="255.8" class="q18"/>
<rect x="258.5" class="q16"/>
<rect x="261.3" class="q14"/>
<rect x="264.1" class="q8"/>
<rect x="266.8" class="q15"/>
</g>
<g class="w4">
<rect x="269.6" class="q23"/>
<rect x="272.4" class="q22"/>
<rect x="275.2" class="q19"/>
<rect x="278.0" class="q18"/>
<rect x="280.8" class="q19"/>
<rect x="283.6" class="q12"/>
<rect x="286.4" class="q17"/>
<rect x="289.2" class="q19"/>
<rect x="292.0" class="q14"/>
<rect x="294.8" class="q14"/>
<rect x="297.6" class="q21"/>
<rect x="300.4" class="q17"/>
<rect x="303.2" class="q13"/>
<rect x="306.0" class="q18"/>
<rect x="308.7" class="q13"/>
<rect x="311.5" class="q11"/>
<rect x="314.3" class="q23"/>
<rect x="317.1" class="q14"/>
<rect x="319.9" class="q20"/>
<rect x="322.7" class="q13"/>
<rect x="325.5" class="q21"/>
<rect x="328.3" class="q8"/>
<rect x="331.1" class="q14"/>
<rect x="333.9" class="q11"/>
<rect x="336.7" class="q8"/>
<rect x="339.5" class="q20"/>
</g>
<g class="w5">
<rect x="342.3" class="q36"/>
<rect x="345.1" class="q28"/>
<rect x="347.8" class="q39"/>
<rect x="350.6" class="q31"/>
<rect x="353.4" class="q38"/>
<rect x="356.1" class="q32"/>
<rect x="358.9" class="q39"/>
<rect x="361.7" class="q37"/>
<rect x="364.4" class="q39"/>
<rect x="367.2" class="q32"/>
<rect x="370.0" class="q33"/>
<rect x="372.7" class="q40"/>
<rect x="375.5" class="q32"/>
<rect x="378.3" class="q29"/>
<rect x="381.1" class="q36"/>
<rect x="383.8" class="q36"/>
<rect x="386.6" class="q32"/>
<rect x="389.4" class="q34"/>
<rect x="392.1" class="q22"/>
<rect x="394.9" class="q34"/>
<rect x="397.7" class="q32"/>
<rect x="400.4" class="q36"/>
<rect x="403.2" class="q32"/>
<rect x="406.0" class="q40"/>
<rect x="408.7" class="q39"/>
<rect x="411.5" class="q32"/>
<rect x="414.3" class="q32"/>
<rect x="417.0" class="q34"/>
<rect x="419.8" class="q25"/>
<rect x="422.6" class="q40"/>
<rect x="425.3" class="q27"/>
<rect x="428.1" class="q35"/>
<rect x="430.9" class="q35"/>
<rect x="433.6" class="q37"/>
<rect x="436.4" class="q40"/>
<rect x="439.2" class="q34"/>
<rect x="441.9" class="q30"/>
<rect x="444.7" class="q26"/>
<rect x="447.5" class="q38"/>
<rect x="450.3" class="q28"/>
<rect x="453.0" class="q28"/>
<rect x="455.8" class="q39"/>
<rect x="458.6" class="q40"/>
<rect x="461.3" class="q38"/>
<rect x="464.1" class="q38"/>
<rect x="466.9" class="q34"/>
<rect x="469.6" class="q32"/>
<rect x="472.4" class="q28"/>
<rect x="475.2" class="q32"/>
<rect x="477.9" class="q30"/>
</g>
<g class="w6">
<rect x="480.7" class="q14"/>
<rect x="483.5" class="q14"/>
<rect x="486.3" class="q18"/>
<rect x="489.1" class="q9"/>
<rect x="492.0" class="q12"/>
<rect x="494.8" class="q11"/>
<rect x="497.6" class="q12"/>
</g>
<g class="w7">
<rect x="500.4" class="q15"/>
<rect x="503.2" class="q19"/>
<rect x="505.9" class="q14"/>
<rect x="508.7" class="q11"/>
<rect x="511.4" class="q8"/>
<rect x="514.2" class="q16"/>
<rect x="516.9" class="q16"/>
<rect x="519.7" class="q16"/>
<rect x="522.4" class="q14"/>
<rect x="525.2" class="q17"/>
<rect x="527.9" class="q14"/>
<rect x="530.7" class="q14"/>
<rect x="533.4" class="q14"/>
<rect x="536.2" class="q16"/>
<rect x="538.9" class="q14"/>
<rect x="541.7" class="q13"/>
<rect x="544.5" class="q14"/>
<rect x="547.2" class="q15"/>
<rect x="550.0" class="q16"/>
<rect x="552.7" class="q8"/>
<rect x="555.5" class="q15"/>
<rect x="558.2" class="q16"/>
<rect x="561.0" class="q14"/>
<rect x="563.7" class="q16"/>
<rect x="566.5" class="q17"/>
<rect x="569.2" class="q14"/>
<rect x="572.0" class="q11"/>
<rect x="574.7" class="q14"/>
<rect x="577.5" class="q16"/>
<rect x="580.2" class="q13"/>
<rect x="583.0" class="q17"/>
<rect x="585.7" class="q14"/>
</g>
<g class="w8">
<rect x="588.5" class="q17"/>
</g>
<g class="w9">
<rect x="591.1" class="q35"/>
<rect x="593.9" class="q32"/>
<rect x="596.7" class="q22"/>
<rect x="599.5" class="q30"/>
<rect x="602.4" class="q24"/>
<rect x="605.2" class="q26"/>
<rect x="608.0" class="q21"/>
<rect x="610.8" class="q24"/>
<rect x="613.6" class="q17"/>
<rect x="616.4" class="q33"/>
<rect x="619.2" class="q20"/>
<rect x="622.1" class="q27"/>
<rect x="624.9" class="q21"/>
<rect x="627.7" class="q25"/>
<rect x="630.5" class="q19"/>
<rect x="633.3" class="q22"/>
<rect x="636.1" class="q28"/>
<rect x="638.9" class="q22"/>
<rect x="641.8" class="q17"/>
<rect x="644.6" class="q24"/>
<rect x="647.4" class="q30"/>
</g>
</g>
<g transform="translate(0 156.60)">
<g class="w0">
<rect x="11.7" class="q19"/>
<rect x="14.5" class="q20"/>
<rect x="17.2" class="q18"/>
<rect x="20.0" class="q23"/>
<rect x="22.8" class="q26"/>
<rect x="25.5" class="q17"/>
<rect x="28.3" class="q21"/>
<rect x="31.1" class="q21"/>
<rect x="33.8" class="q23"/>
<rect x="36.6" class="q20"/>
<rect x="39.4" class="q20"/>
<rect x="42.1" class="q22"/>
<rect x="44.9" class="q22"/>
<rect x="47.7" class="q21"/>
<rect x="50.5" class="q13"/>
<rect x="53.2" class="q27"/>
<rect x="56.0" class="q38"/>
<rect x="58.8" class="q21"/>
<rect x="61.5" class="q21"/>
<rect x="64.3" class="q19"/>
<rect x="67.1" class="q18"/>
<rect x="69.8" class="q18"/>
<rect x="72.6" class="q16"/>
<rect x="75.4" class="q15"/>
<rect x="78.1" class="q15"/>
<rect x="80.9" class="q15"/>
<rect x="83.7" class="q18"/>
<rect x="86.4" class="q12"/>
<rect x="89.2" class="q11"/>
<rect x="92.0" class="q12"/>
<rect x="94.7" class="q15"/>
<rect x="97.5" class="q22"/>
<rect x="100.3" class="q10"/>
<rect x="103.0" class="q16"/>
<rect x="105.8" class="q17"/>
<rect x="108.6" class="q15"/>
<rect x="111.4" class="q17"/>
<rect x="114.1" class="q10"/>
<rect x="116.9" class="q12"/>
<rect x="119.7" class="q19"/>
<rect x="122.4" class="q18"/>
<rect x="125.2" class="q13"/>
<rect x="128.0" class="q17"/>
<rect x="130.7" class="q18"/>
</g>
<g class="w1">
<rect x="133.5" class="q16"/>
<rect x="136.2" class="q15"/>
<rect x="139.0" class="q20"/>
<rect x="141.8" class="q15"/>
</g>
<g class="w2">
<rect x="144.5" class="q15"/>
<rect x="147.3" class="q14"/>
<rect x="150.1" class="q12"/>
<rect x="152.9" class="q17"/>
<rect x="155.7" class="q16"/>
<rect x="158.5" class="q14"/>
<rect x="161.3" class="q8"/>
<rect x="164.1" class="q17"/>
<rect x="166.9" class="q11"/>
<rect x="169.7" class="q16"/>
<rect x="172.5" class="q17"/>
<rect x="175.3" class="q13"/>
<rect x="178.1" class="q12"/>
<rect x="180.9" class="q14"/>
<rect x="183.7" class="q14"/>
</g>
<g class="w3">
<rect x="186.5" class="q14"/>
<rect x="189.3" class="q12"/>
<rect x="192.0" class="q16"/>
<rect x="194.8" class="q16"/>
<rect x="197.6" class="q12"/>
<rect x="200.3" class="q12"/>
<rect x="203.1" class="q13"/>
<rect x="205.9" class="q13"/>
<rect x="208.7" class="q11"/>
<rect x="211.4" class="q17"/>
<rect x="214.2" class="q13"/>
<rect x="217.0" class="q19"/>
<rect x="219.7" class="q22"/>
<rect x="222.5" class="q15"/>
<rect x="225.3" class="q12"/>
<rect x="228.1" class="q15"/>
<rect x="230.8" class="q14"/>
<rect x="233.6" class="q15"/>
<rect x="236.4" class="q16"/>
<rect x="239.1" class="q17"/>
<rect x="241.9" class="q14"/>
<rect x="244.7" class="q11"/>
<rect x="247.4" class="q15"/>
<rect x="250.2" class="q15"/>
<rect x="253.0" class="q17"/>
<rect x="255.8" class="q19"/>
<rect x="258.5" class="q12"/>
<rect x="261.3" class="q11"/>
<rect x="264.1" class="q9"/>
<rect x="266.8" class="q18"/>
</g>
<g class="w4">
<rect x="269.6" class="q18"/>
<rect x="272.4" class="q14"/>
<rect x="275.2" class="q17"/>
<rect x="278.0" class="q13"/>
<rect x="280.8" class="q17"/>
<rect x="283.6" class="q12"/>
<rect x="286.4" class="q6"/>
<rect x="289.2" class="q19"/>
<rect x="292.0" class="q17"/>
<rect x="294.8" class="q19"/>
<rect x="297.6" class="q26"/>
<rect x="300.4" class="q16"/>
<rect x="303.2" class="q17"/>
<rect x="306.0" class="q17"/>
<rect x="308.7" class="q22"/>
<rect x="311.5" class="q26"/>
<rect x="314.3" class="q24"/>
<rect x="317.1" class="q23"/>
<rect x="319.9" class="q21"/>
<rect x="322.7" class="q24"/>
<rect x="325.5" class="q28"/>
<rect x="328.3" class="q19"/>
<rect x="331.1" class="q22"/>
<rect x="333.9" class="q28"/>
<rect x="336.7" class="q21"/>
<rect x="339.5" class="q23"/>
</g>
<g class="w5">
<rect x="342.3" class="q35"/>
<rect x="345.1" class="q28"/>
<rect x="347.8" class="q37"/>
<rect x="350.6" class="q40"/>
<rect x="353.4" class="q40"/>
<rect x="356.1" class="q32"/>
<rect x="358.9" class="q29"/>
<rect x="361.7" class="q35"/>
<rect x="364.4" class="q36"/>
<rect x="367.2" class="q37"/>
<rect x="370.0" class="q31"/>
<rect x="372.7" class="q37"/>
<rect x="375.5" class="q40"/>
<rect x="378.3" class="q29"/>
<rect x="381.1" class="q29"/>
<rect x="383.8" class="q33"/>
<rect x="386.6" class="q32"/>
<rect x="389.4" class="q31"/>
<rect x="392.1" class="q28"/>
<rect x="394.9" class="q38"/>
<rect x="397.7" class="q28"/>
<rect x="400.4" class="q40"/>
<rect x="403.2" class="q40"/>
<rect x="406.0" class="q40"/>
<rect x="408.7" class="q36"/>
<rect x="411.5" class="q35"/>
<rect x="414.3" class="q35"/>
<rect x="417.0" class="q36"/>
<rect x="419.8" class="q37"/>
<rect x="422.6" class="q31"/>
<rect x="425.3" class="q38"/>
<rect x="428.1" class="q28"/>
<rect x="430.9" class="q39"/>
<rect x="433.6" class="q33"/>
<rect x="436.4" class="q31"/>
<rect x="439.2" class="q27"/>
<rect x="441.9" class="q29"/>
<rect x="444.7" class="q40"/>
<rect x="447.5" class="q40"/>
<rect x="450.3" class="q33"/>
<rect x="453.0" class="q34"/>
<rect x="455.8" class="q31"/>
<rect x="458.6" class="q38"/>
<rect x="461.3" class="q29"/>
<rect x="464.1" class="q37"/>
<rect x="466.9" class="q25"/>
<rect x="469.6" class="q36"/>
<rect x="472.4" class="q38"/>
<rect x="475.2" class="q33"/>
<rect x="477.9" class="q30"/>
</g>
<g class="w6">
<rect x="480.7" class="q12"/>
<rect x="483.5" class="q10"/>
<rect x="486.3" class="q18"/>
<rect x="489.1" class="q14"/>
<rect x="492.0" class="q14"/>
<rect x="494.8" class="q13"/>
<rect x="497.6" class="q17"/>
</g>
<g class="w7">
<rect x="500.4" class="q14"/>
<rect x="503.2" class="q15"/>
<rect x="505.9" class="q14"/>
<rect x="508.7" class="q17"/>
<rect x="511.4" class="q15"/>
<rect x="514.2" class="q15"/>
<rect x="516.9" class="q8"/>
<rect x="519.7" class="q13"/>
<rect x="522.4" class="q14"/>
<rect x="525.2" class="q11"/>
<rect x="527.9" class="q18"/>
<rect x="530.7" class="q13"/>
<rect x="533.4" class="q16"/>
<rect x="536.2" class="q11"/>
<rect x="538.9" class="q14"/>
<rect x="541.7" class="q12"/>
<rect x="544.5" class="q12"/>
<rect x="547.2" class="q13"/>
<rect x="550.0" class="q12"/>
<rect x="552.7" class="q16"/>
<rect x="555.5" class="q14"/>
<rect x="558.2" class="q12"/>
<rect x="561.0" class="q11"/>
<rect x="563.7" class="q12"/>
<rect x="566.5" class="q9"/>
<rect x="569.2" class="q15"/>
<rect x="572.0" class="q14"/>
<rect x="574.7" class="q9"/>
<rect x="577.5" class="q19"/>
<rect x="580.2" class="q17"/>
<rect x="583.0" class="q9"/>
<rect x="585.7" class="q15"/>
</g>
<g class="w8">
<rect x="588.5" class="q20"/>
</g>
<g class="w9">
<rect x="591.1" class="q26"/>
<rect x="593.9" class="q19"/>
<rect x="596.7" class="q21"/>
<rect x="599.5" class="q26"/>
<rect x="602.4" class="q25"/>
<rect x="605.2" class="q31"/>
<rect x="608.0" class="q24"/>
<rect x="610.8" class="q26"/>
<rect x="613.6" class="q24"/>
<rect x="616.4" class="q23"/>
<rect x="619.2" class="q20"/>
<rect x="622.1" class="q15"/>
<rect x="624.9" class="q19"/>
<rect x="627.7" class="q16"/>
<rect x="630.5" class="q21"/>
<rect x="633.3" class="q13"/>
<rect x="636.1" class="q18"/>
<rect x="638.9" class="q19"/>
<rect x="641.8" class="q12"/>
<rect x="644.6" class="q14"/>
<rect x="647.4" class="q14"/>
</g>
</g>
<g transform="translate(0 161.49)">
<g class="w0">
<rect x="11.7" class="q28"/>
<rect x="14.5" class="q20"/>
<rect x="17.2" class="q27"/>
<rect x="20.0" class="q26"/>
<rect x="22.8" class="q26"/>
<rect x="25.5" class="q20"/>
<rect x="28.3" class="q24"/>
<rect x="31.1" class="q27"/>
<rect x="33.8" class="q26"/>
<rect x="36.6" class="q21"/>
<rect x="39.4" class="q24"/>
<rect x="42.1" class="q22"/>
<rect x="44.9" class="q24"/>
<rect x="47.7" class="q27"/>
<rect x="50.5" class="q9"/>
<rect x="53.2" class="q26"/>
<rect x="56.0" class="q38"/>
<rect x="58.8" class="q22"/>
<rect x="61.5" class="q29"/>
<rect x="64.3" class="q26"/>
<rect x="67.1" class="q29"/>
<rect x="69.8" class="q23"/>
<rect x="72.6" class="q27"/>
<rect x="75.4" class="q25"/>
<rect x="78.1" class="q25"/>
<rect x="80.9" class="q25"/>
<rect x="83.7" class="q28"/>
<rect x="86.4" class="q24"/>
<rect x="89.2" class="q24"/>
<rect x="92.0" class="q26"/>
<rect x="94.7" class="q14"/>
<rect x="97.5" class="q14"/>
<rect x="100.3" class="q13"/>
<rect x="103.0" class="q4"/>
<rect x="105.8" class="q12"/>
<rect x="108.6" class="q12"/>
<rect x="111.4" class="q10"/>
<rect x="114.1" class="q12"/>
<rect x="116.9" class="q9"/>
<rect x="119.7" class="q11"/>
<rect x="122.4" class="q14"/>
<rect x="125.2" class="q13"/>
<rect x="128.0" class="q13"/>
<rect x="130.7" class="q13"/>
</g>
<g class="w1">
<rect x="133.5" class="q12"/>
<rect x="136.2" class="q15"/>
<rect x="139.0" class="q14"/>
<rect x="141.8" class="q17"/>
</g>
<g class="w2">
<rect x="144.5" class="q18"/>
<rect x="147.3" class="q12"/>
<rect x="150.1" class="q11"/>
<rect x="152.9" class="q15"/>
<rect x="155.7" class="q12"/>
<rect x="158.5" class="q7"/>
<rect x="161.3" class="q10"/>
<rect x="164.1" class="q9"/>
<rect x="166.9" class="q10"/>
<rect x="169.7" class="q13"/>
<rect x="172.5" class="q16"/>
<rect x="175.3" class="q16"/>
<rect x="178.1" class="q14"/>
<rect x="180.9" class="q13"/>
<rect x="183.7" class="q17"/>
</g>
<g class="w3">
<rect x="186.5" class="q14"/>
<rect x="189.3" class="q9"/>
<rect x="192.0" class="q8"/>
<rect x="194.8" class="q13"/>
<rect x="197.6" class="q15"/>
<rect x="200.3" class="q10"/>
<rect x="203.1" class="q11"/>
<rect x="205.9" class="q17"/>
<rect x="208.7" class="q9"/>
<rect x="211.4" class="q14"/>
<rect x="214.2" class="q20"/>
<rect x="217.0" class="q18"/>
<rect x="219.7" class="q22"/>
<rect x="222.5" class="q15"/>
<rect x="225.3" class="q14"/>
<rect x="228.1" class="q11"/>
<rect x="230.8" class="q18"/>
<rect x="233.6" class="q9"/>
<rect x="236.4" class="q15"/>
<rect x="239.1" class="q16"/>
<rect x="241.9" class="q18"/>
<rect x="244.7" class="q18"/>
<rect x="247.4" class="q9"/>
<rect x="250.2" class="q13"/>
<rect x="253.0" class="q13"/>
<rect x="255.8" class="q19"/>
<rect x="258.5" class="q11"/>
<rect x="261.3" class="q17"/>
<rect x="264.1" class="q11"/>
<rect x="266.8" class="q10"/>
</g>
<g class="w4">
<rect x="269.6" class="q16"/>
<rect x="272.4" class="q14"/>
<rect x="275.2" class="q11"/>
<rect x="278.0" class="q18"/>
<rect x="280.8" class="q26"/>
<rect x="283.6" class="q16"/>
<rect x="286.4" class="q20"/>
<rect x="289.2" class="q20"/>
<rect x="292.0" class="q18"/>
<rect x="294.8" class="q16"/>
<rect x="297.6" class="q16"/>
<rect x="300.4" class="q17"/>
<rect x="303.2" class="q12"/>
<rect x="306.0" class="q21"/>
<rect x="308.7" class="q20"/>
<rect x="311.5" class="q28"/>
<rect x="314.3" class="q21"/>
<rect x="317.1" class="q23"/>
<rect x="319.9" class="q25"/>
<rect x="322.7" class="q18"/>
<rect x="325.5" class="q28"/>
<rect x="328.3" class="q19"/>
<rect x="331.1" class="q23"/>
<rect x="333.9" class="q17"/>
<rect x="336.7" class="q29"/>
<rect x="339.5" class="q24"/>
</g>
<g class="w5">
<rect x="342.3" class="q33"/>
<rect x="345.1" class="q35"/>
<rect x="347.8" class="q33"/>
<rect x="350.6" class="q38"/>
<rect x="353.4" class="q32"/>
<rect x="356.1" class="q35"/>
<rect x="358.9" class="q33"/>
<rect x="361.7" class="q36"/>
<rect x="364.4" class="q34"/>
<rect x="367.2" class="q40"/>
<rect x="370.0" class="q32"/>
<rect x="372.7" class="q31"/>
<rect x="375.5" class="q31"/>
<rect x="378.3" class="q40"/>
<rect x="381.1" class="q38"/>
<rect x="383.8" class="q28"/>
<rect x="386.6" class="q40"/>
<rect x="389.4" class="q40"/>
<rect x="392.1" class="q37"/>
<rect x="394.9" class="q39"/>
<rect x="397.7" class="q30"/>
<rect x="400.4" class="q39"/>
<rect x="403.2" class="q39"/>
<rect x="406.0" class="q40"/>
<rect x="408.7" class="q38"/>
<rect x="411.5" class="q33"/>
<rect x="414.3" class="q29"/>
<rect x="417.0" class="q30"/>
<rect x="419.8" class="q40"/>
<rect x="422.6" class="q32"/>
<rect x="425.3" class="q36"/>
<rect x="428.1" class="q30"/>
<rect x="430.9" class="q37"/>
<rect x="433.6" class="q24"/>
<rect x="436.4" class="q33"/>
<rect x="439.2" class="q33"/>
<rect x="441.9" class="q32"/>
<rect x="444.7" class="q37"/>
<rect x="447.5" class="q29"/>
<rect x="450.3" class="q32"/>
<rect x="453.0" class="q36"/>
<rect x="455.8" class="q36"/>
<rect x="458.6" class="q34"/>
<rect x="461.3" class="q33"/>
<rect x="464.1" class="q37"/>
<rect x="466.9" class="q40"/>
<rect x="469.6" class="q36"/>
<rect x="472.4" class="q29"/>
<rect x="475.2" class="q34"/>
<rect x="477.9" class="q32"/>
</g>
<g class="w6">
<rect x="480.7" class="q9"/>
<rect x="483.5" class="q13"/>
<rect x="486.3" class="q10"/>
<rect x="489.1" class="q9"/>
<rect x="492.0" class="q6"/>
<rect x="494.8" class="q13"/>
<rect x="497.6" class="q14"/>
</g>
<g class="w7">
<rect x="500.4" class="q15"/>
<rect x="503.2" class="q12"/>
<rect x="505.9" class="q12"/>
<rect x="508.7" class="q6"/>
<rect x="511.4" class="q10"/>
<rect x="514.2" class="q10"/>
<rect x="516.9" class="q11"/>
<rect x="519.7" class="q7"/>
<rect x="522.4" class="q9"/>
<rect x="525.2" class="q17"/>
<rect x="527.9" class="q6"/>
<rect x="530.7" class="q7"/>
<rect x="533.4" class="q11"/>
<rect x="536.2" class="q8"/>
<rect x="538.9" class="q12"/>
<rect x="541.7" class="q13"/>
<rect x="544.5" class="q16"/>
<rect x="547.2" class="q9"/>
<rect x="550.0" class="q12"/>
<rect x="552.7" class="q16"/>
<rect x="555.5" class="q10"/>
<rect x="558.2" class="q16"/>
<rect x="561.0" class="q13"/>
<rect x="563.7" class="q7"/>
<rect x="566.5" class="q17"/>
<rect x="569.2" class="q16"/>
<rect x="572.0" class="q15"/>
<rect x="574.7" class="q13"/>
<rect x="577.5" class="q6"/>
<rect x="580.2" class="q7"/>
<rect x="583.0" class="q19"/>
<rect x="585.7" class="q12"/>
</g>
<g class="w8">
<rect x="588.5" class="q17"/>
</g>
<g class="w9">
<rect x="591.1" class="q17"/>
<rect x="593.9" class="q25"/>
<rect x="596.7" class="q23"/>
<rect x="599.5" class="q28"/>
<rect x="602.4" class="q32"/>
<rect x="605.2" class="q23"/>
<rect x="608.0" class="q24"/>
<rect x="610.8" class="q32"/>
<rect x="613.6" class="q24"/>
<rect x="616.4" class="q24"/>
<rect x="619.2" class="q19"/>
<rect x="622.1" class="q17"/>
<rect x="624.9" class="q16"/>
<rect x="627.7" class="q20"/>
<rect x="630.5" class="q17"/>
<rect x="633.3" class="q12"/>
<rect x="636.1" class="q19"/>
<rect x="638.9" class="q18"/>
<rect x="641.8" class="q14"/>
<rect x="644.6" class="q21"/>
<rect x="647.4" class="q16"/>
</g>
</g>
<g transform="translate(0 166.38)">
<g class="w0">
<rect x="11.7" class="q25"/>
<rect x="14.5" class="q24"/>
<rect x="17.2" class="q27"/>
<rect x="20.0" class="q31"/>
<rect x="22.8" class="q20"/>
<rect x="25.5" class="q24"/>
<rect x="28.3" class="q27"/>
<rect x="31.1" class="q22"/>
<rect x="33.8" class="q28"/>
<rect x="36.6" class="q23"/>
<rect x="39.4" class="q26"/>
<rect x="42.1" class="q25"/>
<rect x="44.9" class="q27"/>
<rect x="47.7" class="q26"/>
<rect x="50.5" class="q10"/>
<rect x="53.2" class="q21"/>
<rect x="56.0" class="q38"/>
<rect x="58.8" class="q24"/>
<rect x="61.5" class="q22"/>
<rect x="64.3" class="q27"/>
<rect x="67.1" class="q23"/>
<rect x="69.8" class="q26"/>
<rect x="72.6" class="q24"/>
<rect x="75.4" class="q23"/>
<rect x="78.1" class="q23"/>
<rect x="80.9" class="q23"/>
<rect x="83.7" class="q21"/>
<rect x="86.4" class="q27"/>
<rect x="89.2" class="q25"/>
<rect x="92.0" class="q26"/>
<rect x="94.7" class="q10"/>
<rect x="97.5" class="q13"/>
<rect x="100.3" class="q12"/>
<rect x="103.0" class="q8"/>
<rect x="105.8" class="q8"/>
<rect x="108.6" class="q13"/>
<rect x="111.4" class="q18"/>
<rect x="114.1" class="q6"/>
<rect x="116.9" class="q17"/>
<rect x="119.7" class="q16"/>
<rect x="122.4" class="q9"/>
<rect x="125.2" class="q9"/>
<rect x="128.0" class="q8"/>
<rect x="130.7" class="q18"/>
</g>
<g class="w1">
<rect x="133.5" class="q13"/>
<rect x="136.2" class="q11"/>
<rect x="139.0" class="q16"/>
<rect x="141.8" class="q14"/>
</g>
<g class="w2">
<rect x="144.5" class="q14"/>
<rect x="147.3" class="q13"/>
<rect x="150.1" class="q13"/>
<rect x="152.9" class="q13"/>
<rect x="155.7" class="q12"/>
<rect x="158.5" class="q18"/>
<rect x="161.3" class="q14"/>
<rect x="164.1" class="q14"/>
<rect x="166.9" class="q9"/>
<rect x="169.7" class="q7"/>
<rect x="172.5" class="q16"/>
<rect x="175.3" class="q8"/>
<rect x="178.1" class="q9"/>
<rect x="180.9" class="q13"/>
<rect x="183.7" class="q14"/>
</g>
<g class="w3">
<rect x="186.5" class="q9"/>
<rect x="189.3" class="q8"/>
<rect x="192.0" class="q14"/>
<rect x="194.8" class="q12"/>
<rect x="197.6" class="q11"/>
<rect x="200.3" class="q8"/>
<rect x="203.1" class="q8"/>
<rect x="205.9" class="q14"/>
<rect x="208.7" class="q12"/>
<rect x="211.4" class="q12"/>
<rect x="214.2" class="q10"/>
<rect x="217.0" class="q8"/>
<rect x="219.7" class="q22"/>
<rect x="222.5" class="q14"/>
<rect x="225.3" class="q16"/>
<rect x="228.1" class="q12"/>
<rect x="230.8" class="q14"/>
<rect x="233.6" class="q12"/>
<rect x="236.4" class="q14"/>
<rect x="239.1" class="q16"/>
<rect x="241.9" class="q9"/>
<rect x="244.7" class="q7"/>
<rect x="247.4" class="q13"/>
<rect x="250.2" class="q15"/>
<rect x="253.0" class="q10"/>
<rect x="255.8" class="q12"/>
<rect x="258.5" class="q13"/>
<rect x="261.3" class="q12"/>
<rect x="264.1" class="q16"/>
<rect x="266.8" class="q10"/>
</g>
<g class="w4">
<rect x="269.6" class="q19"/>
<rect x="272.4" class="q23"/>
<rect x="275.2" class="q24"/>
<rect x="278.0" class="q22"/>
<rect x="280.8" class="q15"/>
<rect x="283.6" class="q23"/>
<rect x="286.4" class="q15"/>
<rect x="289.2" class="q23"/>
<rect x="292.0" class="q20"/>
<rect x="294.8" class="q11"/>
<rect x="297.6" class="q13"/>
<rect x="300.4" class="q23"/>
<rect x="303.2" class="q18"/>
<rect x="306.0" class="q7"/>
<rect x="308.7" class="q22"/>
<rect x="311.5" class="q31"/>
<rect x="314.3" class="q23"/>
<rect x="317.1" class="q23"/>
<rect x="319.9" class="q22"/>
<rect x="322.7" class="q26"/>
<rect x="325.5" class="q22"/>
<rect x="328.3" class="q19"/>
<rect x="331.1" class="q16"/>
<rect x="333.9" class="q22"/>
<rect x="336.7" class="q34"/>
<rect x="339.5" class="q23"/>
</g>
<g class="w5">
<rect x="342.3" class="q40"/>
<rect x="345.1" class="q37"/>
<rect x="347.8" class="q30"/>
<rect x="350.6" class="q33"/>
<rect x="353.4" class="q36"/>
<rect x="356.1" class="q33"/>
<rect x="358.9" class="q40"/>
<rect x="361.7" class="q34"/>
<rect x="364.4" class="q38"/>
<rect x="367.2" class="q32"/>
<rect x="370.0" class="q38"/>
<rect x="372.7" class="q39"/>
<rect x="375.5" class="q33"/>
<rect x="378.3" class="q29"/>
<rect x="381.1" class="q39"/>
<rect x="383.8" class="q37"/>
<rect x="386.6" class="q37"/>
<rect x="389.4" class="q36"/>
<rect x="392.1" class="q27"/>
<rect x="394.9" class="q36"/>
<rect x="397.7" class="q32"/>
<rect x="400.4" class="q40"/>
<rect x="403.2" class="q40"/>
<rect x="406.0" class="q34"/>
<rect x="408.7" class="q33"/>
<rect x="411.5" class="q32"/>
<rect x="414.3" class="q33"/>
<rect x="417.0" class="q37"/>
<rect x="419.8" class="q35"/>
<rect x="422.6" class="q32"/>
<rect x="425.3" class="q26"/>
<rect x="428.1" class="q25"/>
<rect x="430.9" class="q29"/>
<rect x="433.6" class="q34"/>
<rect x="436.4" class="q33"/>
<rect x="439.2" class="q27"/>
<rect x="441.9" class="q30"/>
<rect x="444.7" class="q33"/>
<rect x="447.5" class="q35"/>
<rect x="450.3" class="q30"/>
<rect x="453.0" class="q33"/>
<rect x="455.8" class="q29"/>
<rect x="458.6" class="q34"/>
<rect x="461.3" class="q34"/>
<rect x="464.1" class="q37"/>
<rect x="466.9" class="q31"/>
<rect x="469.6" class="q35"/>
<rect x="472.4" class="q39"/>
<rect x="475.2" class="q40"/>
<rect x="477.9" class="q34"/>
</g>
<g class="w6">
<rect x="480.7" class="q7"/>
<rect x="483.5" class="q9"/>
<rect x="486.3" class="q11"/>
<rect x="489.1" class="q10"/>
<rect x="492.0" class="q15"/>
<rect x="494.8" class="q10"/>
<rect x="497.6" class="q12"/>
</g>
<g class="w7">
<rect x="500.4" class="q12"/>
<rect x="503.2" class="q18"/>
<rect x="505.9" class="q10"/>
<rect x="508.7" class="q12"/>
<rect x="511.4" class="q11"/>
<rect x="514.2" class="q13"/>
<rect x="516.9" class="q6"/>
<rect x="519.7" class="q12"/>
<rect x="522.4" class="q9"/>
<rect x="525.2" class="q6"/>
<rect x="527.9" class="q8"/>
<rect x="530.7" class="q12"/>
<rect x="533.4" class="q12"/>
<rect x="536.2" class="q7"/>
<rect x="538.9" class="q14"/>
<rect x="541.7" class="q6"/>
<rect x="544.5" class="q14"/>
<rect x="547.2" class="q16"/>
<rect x="550.0" class="q13"/>
<rect x="552.7" class="q9"/>
<rect x="555.5" class="q17"/>
<rect x="558.2" class="q10"/>
<rect x="561.0" class="q15"/>
<rect x="563.7" class="q6"/>
<rect x="566.5" class="q18"/>
<rect x="569.2" class="q14"/>
<rect x="572.0" class="q8"/>
<rect x="574.7" class="q18"/>
<rect x="577.5" class="q9"/>
<rect x="580.2" class="q11"/>
<rect x="583.0" class="q14"/>
<rect x="585.7" class="q14"/>
</g>
<g class="w8">
<rect x="588.5" class="q19"/>
</g>
<g class="w9">
<rect x="591.1" class="q27"/>
<rect x="593.9" class="q26"/>
<rect x="596.7" class="q23"/>
<rect x="599.5" class="q29"/>
<rect x="602.4" class="q20"/>
<rect x="605.2" class="q27"/>
<rect x="608.0" class="q20"/>
<rect x="610.8" class="q25"/>
<rect x="613.6" class="q27"/>
<rect x="616.4" class="q25"/>
<rect x="619.2" class="q14"/>
<rect x="622.1" class="q19"/>
<rect x="624.9" class="q22"/>
<rect x="627.7" class="q20"/>
<rect x="630.5" class="q18"/>
<rect x="633.3" class="q15"/>
<rect x="636.1" class="q16"/>
<rect x="638.9" class="q20"/>
<rect x="641.8" class="q14"/>
<rect x="644.6" class="q14"/>
<rect x="647.4" class="q19"/>
</g>
</g>
<g transform="translate(0 171.26)">
<g class="w0">
<rect x="11.7" class="q17"/>
<rect x="14.5" class="q15"/>
<rect x="17.2" class="q16"/>
<rect x="20.0" class="q11"/>
<rect x="22.8" class="q12"/>
<rect x="25.5" class="q15"/>
<rect x="28.3" class="q13"/>
<rect x="31.1" class="q16"/>
<rect x="33.8" class="q15"/>
<rect x="36.6" class="q16"/>
<rect x="39.4" class="q13"/>
<rect x="42.1" class="q15"/>
<rect x="44.9" class="q16"/>
<rect x="47.7" class="q13"/>
<rect x="50.5" class="q18"/>
<rect x="53.2" class="q16"/>
<rect x="56.0" class="q38"/>
<rect x="58.8" class="q17"/>
<rect x="61.5" class="q17"/>
<rect x="64.3" class="q16"/>
<rect x="67.1" class="q14"/>
<rect x="69.8" class="q19"/>
<rect x="72.6" class="q14"/>
<rect x="75.4" class="q17"/>
<rect x="78.1" class="q15"/>
<rect x="80.9" class="q14"/>
<rect x="83.7" class="q16"/>
<rect x="86.4" class="q16"/>
<rect x="89.2" class="q16"/>
<rect x="92.0" class="q15"/>
<rect x="94.7" class="q14"/>
<rect x="97.5" class="q15"/>
<rect x="100.3" class="q15"/>
<rect x="103.0" class="q15"/>
<rect x="105.8" class="q17"/>
<rect x="108.6" class="q16"/>
<rect x="111.4" class="q10"/>
<rect x="114.1" class="q19"/>
<rect x="116.9" class="q14"/>
<rect x="119.7" class="q18"/>
<rect x="122.4" class="q12"/>
<rect x="125.2" class="q13"/>
<rect x="128.0" class="q17"/>
<rect x="130.7" class="q15"/>
</g>
<g class="w1">
<rect x="133.5" class="q12"/>
<rect x="136.2" class="q17"/>
<rect x="139.0" class="q18"/>
<rect x="141.8" class="q15"/>
</g>
<g class="w2">
<rect x="144.5" class="q16"/>
<rect x="147.3" class="q12"/>
<rect x="150.1" class="q16"/>
<rect x="152.9" class="q14"/>
<rect x="155.7" class="q9"/>
<rect x="158.5" class="q16"/>
<rect x="161.3" class="q15"/>
<rect x="164.1" class="q11"/>
<rect x="166.9" class="q12"/>
<rect x="169.7" class="q13"/>
<rect x="172.5" class="q12"/>
<rect x="175.3" class="q15"/>
<rect x="178.1" class="q18"/>
<rect x="180.9" class="q16"/>
<rect x="183.7" class="q13"/>
</g>
<g class="w3">
<rect x="186.5" class="q14"/>
<rect x="189.3" class="q11"/>
<rect x="192.0" class="q16"/>
<rect x="194.8" class="q14"/>
<rect x="197.6" class="q19"/>
<rect x="200.3" class="q12"/>
<rect x="203.1" class="q19"/>
<rect x="205.9" class="q15"/>
<rect x="208.7" class="q13"/>
<rect x="211.4" class="q20"/>
<rect x="214.2" class="q18"/>
<rect x="217.0" class="q19"/>
<rect x="219.7" class="q22"/>
<rect x="222.5" class="q19"/>
<rect x="225.3" class="q14"/>
<rect x="228.1" class="q9"/>
<rect x="230.8" class="q11"/>
<rect x="233.6" class="q13"/>
<rect x="236.4" class="q15"/>
<rect x="239.1" class="q16"/>
<rect x="241.9" class="q15"/>
<rect x="244.7" class="q18"/>
<rect x="247.4" class="q16"/>
<rect x="250.2" class="q12"/>
<rect x="253.0" class="q16"/>
<rect x="255.8" class="q12"/>
<rect x="258.5" class="q14"/>
<rect x="261.3" class="q11"/>
<rect x="264.1" class="q15"/>
<rect x="266.8" class="q18"/>
</g>
<g class="w4">
<rect x="269.6" class="q22"/>
<rect x="272.4" class="q15"/>
<rect x="275.2" class="q17"/>
<rect x="278.0" class="q16"/>
<rect x="280.8" class="q17"/>
<rect x="283.6" class="q19"/>
<rect x="286.4" class="q16"/>
<rect x="289.2" class="q15"/>
<rect x="292.0" class="q17"/>
<rect x="294.8" class="q6"/>
<rect x="297.6" class="q17"/>
<rect x="300.4" class="q17"/>
<rect x="303.2" class="q19"/>
<rect x="306.0" class="q16"/>
<rect x="308.7" class="q24"/>
<rect x="311.5" class="q22"/>
<rect x="314.3" class="q6"/>
<rect x="317.1" class="q14"/>
<rect x="319.9" class="q30"/>
<rect x="322.7" class="q9"/>
<rect x="325.5" class="q24"/>
<rect x="328.3" class="q21"/>
<rect x="331.1" class="q20"/>
<rect x="333.9" class="q34"/>
<rect x="336.7" class="q15"/>
<rect x="339.5" class="q6"/>
</g>
<g class="w5">
<rect x="342.3" class="q33"/>
<rect x="345.1" class="q32"/>
<rect x="347.8" class="q34"/>
<rect x="350.6" class="q31"/>
<rect x="353.4" class="q36"/>
<rect x="356.1" class="q27"/>
<rect x="358.9" class="q34"/>
<rect x="361.7" class="q33"/>
<rect x="364.4" class="q33"/>
<rect x="367.2" class="q32"/>
<rect x="370.0" class="q37"/>
<rect x="372.7" class="q28"/>
<rect x="375.5" class="q29"/>
<rect x="378.3" class="q37"/>
<rect x="381.1" class="q28"/>
<rect x="383.8" class="q28"/>
<rect x="386.6" class="q28"/>
<rect x="389.4" class="q24"/>
<rect x="392.1" class="q35"/>
<rect x="394.9" class="q28"/>
<rect x="397.7" class="q37"/>
<rect x="400.4" class="q33"/>
<rect x="403.2" class="q28"/>
<rect x="406.0" class="q28"/>
<rect x="408.7" class="q39"/>
<rect x="411.5" class="q28"/>
<rect x="414.3" class="q30"/>
<rect x="417.0" class="q29"/>
<rect x="419.8" class="q28"/>
<rect x="422.6" class="q25"/>
<rect x="425.3" class="q28"/>
<rect x="428.1" class="q34"/>
<rect x="430.9" class="q31"/>
<rect x="433.6" class="q17"/>
<rect x="436.4" class="q28"/>
<rect x="439.2" class="q36"/>
<rect x="441.9" class="q40"/>
<rect x="444.7" class="q28"/>
<rect x="447.5" class="q28"/>
<rect x="450.3" class="q33"/>
<rect x="453.0" class="q31"/>
<rect x="455.8" class="q34"/>
<rect x="458.6" class="q30"/>
<rect x="461.3" class="q32"/>
<rect x="464.1" class="q29"/>
<rect x="466.9" class="q32"/>
<rect x="469.6" class="q33"/>
<rect x="472.4" class="q33"/>
<rect x="475.2" class="q30"/>
<rect x="477.9" class="q38"/>
</g>
<g class="w6">
<rect x="480.7" class="q9"/>
<rect x="483.5" class="q10"/>
<rect x="486.3" class="q17"/>
<rect x="489.1" class="q17"/>
<rect x="492.0" class="q9"/>
<rect x="494.8" class="q11"/>
<rect x="497.6" class="q9"/>
</g>
<g class="w7">
<rect x="500.4" class="q15"/>
<rect x="503.2" class="q15"/>
<rect x="505.9" class="q16"/>
<rect x="508.7" class="q18"/>
<rect x="511.4" class="q15"/>
<rect x="514.2" class="q13"/>
<rect x="516.9" class="q10"/>
<rect x="519.7" class="q17"/>
<rect x="522.4" class="q11"/>
<rect x="525.2" class="q13"/>
<rect x="527.9" class="q19"/>
<rect x="530.7" class="q13"/>
<rect x="533.4" class="q16"/>
<rect x="536.2" class="q16"/>
<rect x="538.9" class="q12"/>
<rect x="541.7" class="q12"/>
<rect x="544.5" class="q13"/>
<rect x="547.2" class="q14"/>
<rect x="550.0" class="q11"/>
<rect x="552.7" class="q16"/>
<rect x="555.5" class="q15"/>
<rect x="558.2" class="q13"/>
<rect x="561.0" class="q16"/>
<rect x="563.7" class="q14"/>
<rect x="566.5" class="q14"/>
<rect x="569.2" class="q15"/>
<rect x="572.0" class="q14"/>
<rect x="574.7" class="q17"/>
<rect x="577.5" class="q16"/>
<rect x="580.2" class="q14"/>
<rect x="583.0" class="q13"/>
<rect x="585.7" class="q12"/>
</g>
<g class="w8">
<rect x="588.5" class="q20"/>
</g>
<g class="w9">
<rect x="591.1" class="q17"/>
<rect x="593.9" class="q20"/>
<rect x="596.7" class="q19"/>
<rect x="599.5" class="q17"/>
<rect x="602.4" class="q14"/>
<rect x="605.2" class="q16"/>
<rect x="608.0" class="q16"/>
<rect x="610.8" class="q22"/>
<rect x="613.6" class="q17"/>
<rect x="616.4" class="q16"/>
<rect x="619.2" class="q19"/>
<rect x="622.1" class="q18"/>
<rect x="624.9" class="q16"/>
<rect x="627.7" class="q21"/>
<rect x="630.5" class="q20"/>
<rect x="633.3" class="q19"/>
<rect x="636.1" class="q17"/>
<rect x="638.9" class="q16"/>
<rect x="641.8" class="q14"/>
<rect x="644.6" class="q19"/>
<rect x="647.4" class="q19"/>
</g>
</g>
<g transform="translate(0 176.15)">
<g class="w0">
<rect x="11.7" class="q17"/>
<rect x="14.5" class="q14"/>
<rect x="17.2" class="q15"/>
<rect x="20.0" class="q19"/>
<rect x="22.8" class="q16"/>
<rect x="25.5" class="q16"/>
<rect x="28.3" class="q16"/>
<rect x="31.1" class="q17"/>
<rect x="33.8" class="q16"/>
<rect x="36.6" class="q16"/>
<rect x="39.4" class="q18"/>
<rect x="42.1" class="q15"/>
<rect x="44.9" class="q16"/>
<rect x="47.7" class="q16"/>
<rect x="50.5" class="q15"/>
<rect x="53.2" class="q18"/>
<rect x="56.0" class="q38"/>
<rect x="58.8" class="q16"/>
<rect x="61.5" class="q17"/>
<rect x="64.3" class="q18"/>
<rect x="67.1" class="q18"/>
<rect x="69.8" class="q17"/>
<rect x="72.6" class="q18"/>
<rect x="75.4" class="q15"/>
<rect x="78.1" class="q17"/>
<rect x="80.9" class="q18"/>
<rect x="83.7" class="q17"/>
<rect x="86.4" class="q17"/>
<rect x="89.2" class="q17"/>
<rect x="92.0" class="q17"/>
<rect x="94.7" class="q17"/>
<rect x="97.5" class="q18"/>
<rect x="100.3" class="q17"/>
<rect x="103.0" class="q16"/>
<rect x="105.8" class="q16"/>
<rect x="108.6" class="q16"/>
<rect x="111.4" class="q15"/>
<rect x="114.1" class="q18"/>
<rect x="116.9" class="q17"/>
<rect x="119.7" class="q16"/>
<rect x="122.4" class="q16"/>
<rect x="125.2" class="q15"/>
<rect x="128.0" class="q17"/>
<rect x="130.7" class="q15"/>
</g>
<g class="w1">
<rect x="133.5" class="q12"/>
<rect x="136.2" class="q12"/>
<rect x="139.0" class="q36"/>
<rect x="141.8" class="q18"/>
</g>
<g class="w2">
<rect x="144.5" class="q15"/>
<rect x="147.3" class="q17"/>
<rect x="150.1" class="q16"/>
<rect x="152.9" class="q20"/>
<rect x="155.7" class="q17"/>
<rect x="158.5" class="q15"/>
<rect x="161.3" class="q15"/>
<rect x="164.1" class="q18"/>
<rect x="166.9" class="q17"/>
<rect x="169.7" class="q17"/>
<rect x="172.5" class="q19"/>
<rect x="175.3" class="q16"/>
<rect x="178.1" class="q15"/>
<rect x="180.9" class="q15"/>
<rect x="183.7" class="q16"/>
</g>
<g class="w3">
<rect x="186.5" class="q18"/>
<rect x="189.3" class="q16"/>
<rect x="192.0" class="q17"/>
<rect x="194.8" class="q16"/>
<rect x="197.6" class="q16"/>
<rect x="200.3" class="q17"/>
<rect x="203.1" class="q15"/>
<rect x="205.9" class="q16"/>
<rect x="208.7" class="q16"/>
<rect x="211.4" class="q17"/>
<rect x="214.2" class="q17"/>
<rect x="217.0" class="q17"/>
<rect x="219.7" class="q17"/>
<rect x="222.5" class="q17"/>
<rect x="225.3" class="q18"/>
<rect x="228.1" class="q18"/>
<rect x="230.8" class="q18"/>
<rect x="233.6" class="q17"/>
<rect x="236.4" class="q16"/>
<rect x="239.1" class="q16"/>
<rect x="241.9" class="q16"/>
<rect x="244.7" class="q17"/>
<rect x="247.4" class="q17"/>
<rect x="250.2" class="q17"/>
<rect x="253.0" class="q20"/>
<rect x="255.8" class="q16"/>
<rect x="258.5" class="q17"/>
<rect x="261.3" class="q16"/>
<rect x="264.1" class="q16"/>
<rect x="266.8" class="q17"/>
</g>
<g class="w4">
<rect x="269.6" class="q22"/>
<rect x="272.4" class="q18"/>
<rect x="275.2" class="q20"/>
<rect x="278.0" class="q19"/>
<rect x="280.8" class="q20"/>
<rect x="283.6" class="q18"/>
<rect x="286.4" class="q18"/>
<rect x="289.2" class="q18"/>
<rect x="292.0" class="q16"/>
<rect x="294.8" class="q17"/>
<rect x="297.6" class="q21"/>
<rect x="300.4" class="q18"/>
<rect x="303.2" class="q21"/>
<rect x="306.0" class="q15"/>
<rect x="308.7" class="q19"/>
<rect x="311.5" class="q12"/>
<rect x="314.3" class="q15"/>
<rect x="317.1" class="q17"/>
<rect x="319.9" class="q24"/>
<rect x="322.7" class="q14"/>
<rect x="325.5" class="q16"/>
<rect x="328.3" class="q18"/>
<rect x="331.1" class="q18"/>
<rect x="333.9" class="q15"/>
<rect x="336.7" class="q18"/>
<rect x="339.5" class="q15"/>
</g>
<g class="w5">
<rect x="342.3" class="q35"/>
<rect x="345.1" class="q40"/>
<rect x="347.8" class="q36"/>
<rect x="350.6" class="q37"/>
<rect x="353.4" class="q38"/>
<rect x="356.1" class="q40"/>
<rect x="358.9" class="q31"/>
<rect x="361.7" class="q33"/>
<rect x="364.4" class="q34"/>
<rect x="367.2" class="q36"/>
<rect x="370.0" class="q18"/>
<rect x="372.7" class="q13"/>
<rect x="375.5" class="q16"/>
<rect x="378.3" class="q14"/>
<rect x="381.1" class="q14"/>
<rect x="383.8" class="q14"/>
<rect x="386.6" class="q20"/>
<rect x="389.4" class="q15"/>
<rect x="392.1" class="q15"/>
<rect x="394.9" class="q31"/>
<rect x="397.7" class="q33"/>
<rect x="400.4" class="q32"/>
<rect x="403.2" class="q31"/>
<rect x="406.0" class="q36"/>
<rect x="408.7" class="q17"/>
<rect x="411.5" class="q17"/>
<rect x="414.3" class="q18"/>
<rect x="417.0" class="q16"/>
<rect x="419.8" class="q22"/>
<rect x="422.6" class="q16"/>
<rect x="425.3" class="q16"/>
<rect x="428.1" class="q17"/>
<rect x="430.9" class="q22"/>
<rect x="433.6" class="q22"/>
<rect x="436.4" class="q15"/>
<rect x="439.2" class="q32"/>
<rect x="441.9" class="q38"/>
<rect x="444.7" class="q35"/>
<rect x="447.5" class="q40"/>
<rect x="450.3" class="q34"/>
<rect x="453.0" class="q34"/>
<rect x="455.8" class="q33"/>
<rect x="458.6" class="q13"/>
<rect x="461.3" class="q12"/>
<rect x="464.1" class="q19"/>
<rect x="466.9" class="q16"/>
<rect x="469.6" class="q19"/>
<rect x="472.4" class="q18"/>
<rect x="475.2" class="q18"/>
<rect x="477.9" class="q21"/>
</g>
<g class="w6">
<rect x="480.7" class="q38"/>
<rect x="483.5" class="q39"/>
<rect x="486.3" class="q40"/>
<rect x="489.1" class="q39"/>
<rect x="492.0" class="q38"/>
<rect x="494.8" class="q39"/>
<rect x="497.6" class="q40"/>
</g>
<g class="w7">
<rect x="500.4" class="q17"/>
<rect x="503.2" class="q14"/>
<rect x="505.9" class="q16"/>
<rect x="508.7" class="q18"/>
<rect x="511.4" class="q20"/>
<rect x="514.2" class="q15"/>
<rect x="516.9" class="q38"/>
<rect x="519.7" class="q38"/>
<rect x="522.4" class="q38"/>
<rect x="525.2" class="q38"/>
<rect x="527.9" class="q14"/>
<rect x="530.7" class="q14"/>
<rect x="533.4" class="q18"/>
<rect x="536.2" class="q16"/>
<rect x="538.9" class="q11"/>
<rect x="541.7" class="q19"/>
<rect x="544.5" class="q16"/>
<rect x="547.2" class="q18"/>
<rect x="550.0" class="q17"/>
<rect x="552.7" class="q18"/>
<rect x="555.5" class="q17"/>
<rect x="558.2" class="q19"/>
<rect x="561.0" class="q13"/>
<rect x="563.7" class="q15"/>
<rect x="566.5" class="q14"/>
<rect x="569.2" class="q19"/>
<rect x="572.0" class="q19"/>
<rect x="574.7" class="q17"/>
<rect x="577.5" class="q15"/>
<rect x="580.2" class="q17"/>
<rect x="583.0" class="q17"/>
<rect x="585.7" class="q17"/>
</g>
<g class="w8">
<rect x="588.5" class="q17"/>
</g>
<g class="w9">
<rect x="591.1" class="q18"/>
<rect x="593.9" class="q20"/>
<rect x="596.7" class="q18"/>
<rect x="599.5" class="q19"/>
<rect x="602.4" class="q19"/>
<rect x="605.2" class="q17"/>
<rect x="608.0" class="q18"/>
<rect x="610.8" class="q19"/>
<rect x="613.6" class="q18"/>
<rect x="616.4" class="q19"/>
<rect x="619.2" class="q17"/>
<rect x="622.1" class="q19"/>
<rect x="624.9" class="q17"/>
<rect x="627.7" class="q17"/>
<rect x="630.5" class="q18"/>
<rect x="633.3" class="q21"/>
<rect x="636.1" class="q22"/>
<rect x="638.9" class="q20"/>
<rect x="641.8" class="q17"/>
<rect x="644.6" class="q19"/>
<rect x="647.4" class="q19"/>
</g>
</g>
<g transform="translate(0 181.04)">
<g class="w0">
<rect x="11.7" class="q18"/>
<rect x="14.5" class="q17"/>
<rect x="17.2" class="q15"/>
<rect x="20.0" class="q17"/>
<rect x="22.8" class="q16"/>
<rect x="25.5" class="q15"/>
<rect x="28.3" class="q19"/>
<rect x="31.1" class="q18"/>
<rect x="33.8" class="q17"/>
<rect x="36.6" class="q17"/>
<rect x="39.4" class="q17"/>
<rect x="42.1" class="q16"/>
<rect x="44.9" class="q16"/>
<rect x="47.7" class="q16"/>
<rect x="50.5" class="q18"/>
<rect x="53.2" class="q17"/>
<rect x="56.0" class="q16"/>
<rect x="58.8" class="q16"/>
<rect x="61.5" class="q17"/>
<rect x="64.3" class="q17"/>
<rect x="67.1" class="q16"/>
<rect x="69.8" class="q17"/>
<rect x="72.6" class="q18"/>
<rect x="75.4" class="q17"/>
<rect x="78.1" class="q13"/>
<rect x="80.9" class="q17"/>
<rect x="83.7" class="q17"/>
<rect x="86.4" class="q15"/>
<rect x="89.2" class="q19"/>
<rect x="92.0" class="q18"/>
<rect x="94.7" class="q16"/>
<rect x="97.5" class="q15"/>
<rect x="100.3" class="q17"/>
<rect x="103.0" class="q17"/>
<rect x="105.8" class="q16"/>
<rect x="108.6" class="q16"/>
<rect x="111.4" class="q18"/>
<rect x="114.1" class="q15"/>
<rect x="116.9" class="q15"/>
<rect x="119.7" class="q18"/>
<rect x="122.4" class="q17"/>
<rect x="125.2" class="q18"/>
<rect x="128.0" class="q16"/>
<rect x="130.7" class="q16"/>
</g>
<g class="w1">
<rect x="133.5" class="q18"/>
<rect x="136.2" class="q17"/>
<rect x="139.0" class="q16"/>
<rect x="141.8" class="q20"/>
</g>
<g class="w2">
<rect x="144.5" class="q18"/>
<rect x="147.3" class="q17"/>
<rect x="150.1" class="q18"/>
<rect x="152.9" class="q15"/>
<rect x="155.7" class="q17"/>
<rect x="158.5" class="q16"/>
<rect x="161.3" class="q17"/>
<rect x="164.1" class="q17"/>
<rect x="166.9" class="q18"/>
<rect x="169.7" class="q17"/>
<rect x="172.5" class="q17"/>
<rect x="175.3" class="q18"/>
<rect x="178.1" class="q17"/>
<rect x="180.9" class="q15"/>
<rect x="183.7" class="q18"/>
</g>
<g class="w3">
<rect x="186.5" class="q15"/>
<rect x="189.3" class="q17"/>
<rect x="192.0" class="q16"/>
<rect x="194.8" class="q17"/>
<rect x="197.6" class="q17"/>
<rect x="200.3" class="q17"/>
<rect x="203.1" class="q17"/>
<rect x="205.9" class="q17"/>
<rect x="208.7" class="q17"/>
<rect x="211.4" class="q15"/>
<rect x="214.2" class="q16"/>
<rect x="217.0" class="q16"/>
<rect x="219.7" class="q17"/>
<rect x="222.5" class="q16"/>
<rect x="225.3" class="q17"/>
<rect x="228.1" class="q17"/>
<rect x="230.8" class="q19"/>
<rect x="233.6" class="q16"/>
<rect x="236.4" class="q18"/>
<rect x="239.1" class="q15"/>
<rect x="241.9" class="q13"/>
<rect x="244.7" class="q17"/>
<rect x="247.4" class="q17"/>
<rect x="250.2" class="q17"/>
<rect x="253.0" class="q17"/>
<rect x="255.8" class="q18"/>
<rect x="258.5" class="q15"/>
<rect x="261.3" class="q16"/>
<rect x="264.1" class="q15"/>
<rect x="266.8" class="q18"/>
</g>
<g class="w4">
<rect x="269.6" class="q19"/>
<rect x="272.4" class="q21"/>
<rect x="275.2" class="q20"/>
<rect x="278.0" class="q23"/>
<rect x="280.8" class="q21"/>
<rect x="283.6" class="q19"/>
<rect x="286.4" class="q16"/>
<rect x="289.2" class="q17"/>
<rect x="292.0" class="q23"/>
<rect x="294.8" class="q22"/>
<rect x="297.6" class="q12"/>
<rect x="300.4" class="q18"/>
<rect x="303.2" class="q26"/>
<rect x="306.0" class="q20"/>
<rect x="308.7" class="q19"/>
<rect x="311.5" class="q19"/>
<rect x="314.3" class="q14"/>
<rect x="317.1" class="q19"/>
<rect x="319.9" class="q18"/>
<rect x="322.7" class="q13"/>
<rect x="325.5" class="q18"/>
<rect x="328.3" class="q20"/>
<rect x="331.1" class="q16"/>
<rect x="333.9" class="q22"/>
<rect x="336.7" class="q17"/>
<rect x="339.5" class="q15"/>
</g>
<g class="w5">
<rect x="342.3" class="q25"/>
<rect x="345.1" class="q22"/>
<rect x="347.8" class="q23"/>
<rect x="350.6" class="q24"/>
<rect x="353.4" class="q22"/>
<rect x="356.1" class="q27"/>
<rect x="358.9" class="q28"/>
<rect x="361.7" class="q28"/>
<rect x="364.4" class="q29"/>
<rect x="367.2" class="q25"/>
<rect x="370.0" class="q17"/>
<rect x="372.7" class="q22"/>
<rect x="375.5" class="q19"/>
<rect x="378.3" class="q24"/>
<rect x="381.1" class="q18"/>
<rect x="383.8" class="q25"/>
<rect x="386.6" class="q13"/>
<rect x="389.4" class="q19"/>
<rect x="392.1" class="q14"/>
<rect x="394.9" class="q33"/>
<rect x="397.7" class="q36"/>
<rect x="400.4" class="q29"/>
<rect x="403.2" class="q30"/>
<rect x="406.0" class="q33"/>
<rect x="408.7" class="q15"/>
<rect x="411.5" class="q25"/>
<rect x="414.3" class="q19"/>
<rect x="417.0" class="q21"/>
<rect x="419.8" class="q17"/>
<rect x="422.6" class="q19"/>
<rect x="425.3" class="q13"/>
<rect x="428.1" class="q21"/>
<rect x="430.9" class="q15"/>
<rect x="433.6" class="q21"/>
<rect x="436.4" class="q16"/>
<rect x="439.2" class="q35"/>
<rect x="441.9" class="q38"/>
<rect x="444.7" class="q32"/>
<rect x="447.5" class="q27"/>
<rect x="450.3" class="q31"/>
<rect x="453.0" class="q33"/>
<rect x="455.8" class="q36"/>
<rect x="458.6" class="q17"/>
<rect x="461.3" class="q15"/>
<rect x="464.1" class="q22"/>
<rect x="466.9" class="q23"/>
<rect x="469.6" class="q18"/>
<rect x="472.4" class="q27"/>
<rect x="475.2" class="q22"/>
<rect x="477.9" class="q22"/>
</g>
<g class="w6">
<rect x="480.7" class="q39"/>
<rect x="483.5" class="q39"/>
<rect x="486.3" class="q40"/>
<rect x="489.1" class="q40"/>
<rect x="492.0" class="q39"/>
<rect x="494.8" class="q36"/>
<rect x="497.6" class="q38"/>
</g>
<g class="w7">
<rect x="500.4" class="q13"/>
<rect x="503.2" class="q19"/>
<rect x="505.9" class="q18"/>
<rect x="508.7" class="q19"/>
<rect x="511.4" class="q15"/>
<rect x="514.2" class="q24"/>
<rect x="516.9" class="q19"/>
<rect x="519.7" class="q22"/>
<rect x="522.4" class="q18"/>
<rect x="525.2" class="q18"/>
<rect x="527.9" class="q19"/>
<rect x="530.7" class="q21"/>
<rect x="533.4" class="q18"/>
<rect x="536.2" class="q19"/>
<rect x="538.9" class="q20"/>
<rect x="541.7" class="q21"/>
<rect x="544.5" class="q20"/>
<rect x="547.2" class="q19"/>
<rect x="550.0" class="q17"/>
<rect x="552.7" class="q18"/>
<rect x="555.5" class="q20"/>
<rect x="558.2" class="q18"/>
<rect x="561.0" class="q18"/>
<rect x="563.7" class="q23"/>
<rect x="566.5" class="q18"/>
<rect x="569.2" class="q16"/>
<rect x="572.0" class="q15"/>
<rect x="574.7" class="q16"/>
<rect x="577.5" class="q20"/>
<rect x="580.2" class="q17"/>
<rect x="583.0" class="q23"/>
<rect x="585.7" class="q17"/>
</g>
<g class="w8">
<rect x="588.5" class="q22"/>
</g>
<g class="w9">
<rect x="591.1" class="q18"/>
<rect x="593.9" class="q18"/>
<rect x="596.7" class="q19"/>
<rect x="599.5" class="q17"/>
<rect x="602.4" class="q19"/>
<rect x="605.2" class="q18"/>
<rect x="608.0" class="q20"/>
<rect x="610.8" class="q19"/>
<rect x="613.6" class="q20"/>
<rect x="616.4" class="q19"/>
<rect x="619.2" class="q16"/>
<rect x="622.1" class="q18"/>
<rect x="624.9" class="q18"/>
<rect x="627.7" class="q24"/>
<rect x="630.5" class="q20"/>
<rect x="633.3" class="q17"/>
<rect x="636.1" class="q19"/>
<rect x="638.9" class="q20"/>
<rect x="641.8" class="q20"/>
<rect x="644.6" class="q15"/>
<rect x="647.4" class="q18"/>
</g>
</g>
<g transform="translate(0 185.92)">
<g class="w0">
<rect x="11.7" class="q19"/>
<rect x="14.5" class="q19"/>
<rect x="17.2" class="q20"/>
<rect x="20.0" class="q19"/>
<rect x="22.8" class="q20"/>
<rect x="25.5" class="q19"/>
<rect x="28.3" class="q18"/>
<rect x="31.1" class="q19"/>
<rect x="33.8" class="q19"/>
<rect x="36.6" class="q19"/>
<rect x="39.4" class="q20"/>
<rect x="42.1" class="q19"/>
<rect x="44.9" class="q19"/>
<rect x="47.7" class="q18"/>
<rect x="50.5" class="q18"/>
<rect x="53.2" class="q20"/>
<rect x="56.0" class="q21"/>
<rect x="58.8" class="q19"/>
<rect x="61.5" class="q17"/>
<rect x="64.3" class="q20"/>
<rect x="67.1" class="q16"/>
<rect x="69.8" class="q21"/>
<rect x="72.6" class="q18"/>
<rect x="75.4" class="q18"/>
<rect x="78.1" class="q20"/>
<rect x="80.9" class="q22"/>
<rect x="83.7" class="q19"/>
<rect x="86.4" class="q22"/>
<rect x="89.2" class="q20"/>
<rect x="92.0" class="q19"/>
<rect x="94.7" class="q19"/>
<rect x="97.5" class="q21"/>
<rect x="100.3" class="q20"/>
<rect x="103.0" class="q19"/>
<rect x="105.8" class="q19"/>
<rect x="108.6" class="q19"/>
<rect x="111.4" class="q21"/>
<rect x="114.1" class="q19"/>
<rect x="116.9" class="q20"/>
<rect x="119.7" class="q21"/>
<rect x="122.4" class="q19"/>
<rect x="125.2" class="q21"/>
<rect x="128.0" class="q20"/>
<rect x="130.7" class="q21"/>
</g>
<g class="w1">
<rect x="133.5" class="q21"/>
<rect x="136.2" class="q22"/>
<rect x="139.0" class="q18"/>
<rect x="141.8" class="q20"/>
</g>
<g class="w2">
<rect x="144.5" class="q20"/>
<rect x="147.3" class="q19"/>
<rect x="150.1" class="q19"/>
<rect x="152.9" class="q20"/>
<rect x="155.7" class="q20"/>
<rect x="158.5" class="q21"/>
<rect x="161.3" class="q20"/>
<rect x="164.1" class="q21"/>
<rect x="166.9" class="q20"/>
<rect x="169.7" class="q22"/>
<rect x="172.5" class="q20"/>
<rect x="175.3" class="q20"/>
<rect x="178.1" class="q21"/>
<rect x="180.9" class="q21"/>
<rect x="183.7" class="q19"/>
</g>
<g class="w3">
<rect x="186.5" class="q19"/>
<rect x="189.3" class="q21"/>
<rect x="192.0" class="q19"/>
<rect x="194.8" class="q19"/>
<rect x="197.6" class="q19"/>
<rect x="200.3" class="q17"/>
<rect x="203.1" class="q19"/>
<rect x="205.9" class="q17"/>
<rect x="208.7" class="q20"/>
<rect x="211.4" class="q19"/>
<rect x="214.2" class="q20"/>
<rect x="217.0" class="q18"/>
<rect x="219.7" class="q20"/>
<rect x="222.5" class="q19"/>
<rect x="225.3" class="q20"/>
<rect x="228.1" class="q21"/>
<rect x="230.8" class="q20"/>
<rect x="233.6" class="q17"/>
<rect x="236.4" class="q20"/>
<rect x="239.1" class="q19"/>
<rect x="241.9" class="q19"/>
<rect x="244.7" class="q21"/>
<rect x="247.4" class="q20"/>
<rect x="250.2" class="q19"/>
<rect x="253.0" class="q19"/>
<rect x="255.8" class="q19"/>
<rect x="258.5" class="q19"/>
<rect x="261.3" class="q20"/>
<rect x="264.1" class="q23"/>
<rect x="266.8" class="q20"/>
</g>
<g class="w4">
<rect x="269.6" class="q20"/>
<rect x="272.4" class="q19"/>
<rect x="275.2" class="q19"/>
<rect x="278.0" class="q21"/>
<rect x="280.8" class="q22"/>
<rect x="283.6" class="q19"/>
<rect x="286.4" class="q19"/>
<rect x="289.2" class="q22"/>
<rect x="292.0" class="q19"/>
<rect x="294.8" class="q22"/>
<rect x="297.6" class="q21"/>
<rect x="300.4" class="q21"/>
<rect x="303.2" class="q20"/>
<rect x="306.0" class="q23"/>
<rect x="308.7" class="q21"/>
<rect x="311.5" class="q21"/>
<rect x="314.3" class="q20"/>
<rect x="317.1" class="q19"/>
<rect x="319.9" class="q20"/>
<rect x="322.7" class="q19"/>
<rect x="325.5" class="q21"/>
<rect x="328.3" class="q22"/>
<rect x="331.1" class="q21"/>
<rect x="333.9" class="q20"/>
<rect x="336.7" class="q21"/>
<rect x="339.5" class="q23"/>
</g>
<g class="w5">
<rect x="342.3" class="q23"/>
<rect x="345.1" class="q22"/>
<rect x="347.8" class="q23"/>
<rect x="350.6" class="q20"/>
<rect x="353.4" class="q20"/>
<rect x="356.1" class="q18"/>
<rect x="358.9" class="q22"/>
<rect x="361.7" class="q19"/>
<rect x="364.4" class="q20"/>
<rect x="367.2" class="q21"/>
<rect x="370.0" class="q21"/>
<rect x="372.7" class="q20"/>
<rect x="375.5" class="q19"/>
<rect x="378.3" class="q17"/>
<rect x="381.1" class="q22"/>
<rect x="383.8" class="q21"/>
<rect x="386.6" class="q20"/>
<rect x="389.4" class="q19"/>
<rect x="392.1" class="q20"/>
<rect x="394.9" class="q20"/>
<rect x="397.7" class="q20"/>
<rect x="400.4" class="q22"/>
<rect x="403.2" class="q23"/>
<rect x="406.0" class="q23"/>
<rect x="408.7" class="q21"/>
<rect x="411.5" class="q22"/>
<rect x="414.3" class="q21"/>
<rect x="417.0" class="q21"/>
<rect x="419.8" class="q21"/>
<rect x="422.6" class="q19"/>
<rect x="425.3" class="q19"/>
<rect x="428.1" class="q22"/>
<rect x="430.9" class="q23"/>
<rect x="433.6" class="q23"/>
<rect x="436.4" class="q20"/>
<rect x="439.2" class="q24"/>
<rect x="441.9" class="q19"/>
<rect x="444.7" class="q22"/>
<rect x="447.5" class="q22"/>
<rect x="450.3" class="q23"/>
<rect x="453.0" class="q21"/>
<rect x="455.8" class="q17"/>
<rect x="458.6" class="q21"/>
<rect x="461.3" class="q20"/>
<rect x="464.1" class="q21"/>
<rect x="466.9" class="q20"/>
<rect x="469.6" class="q20"/>
<rect x="472.4" class="q20"/>
<rect x="475.2" class="q20"/>
<rect x="477.9" class="q21"/>
</g>
<g class="w6">
<rect x="480.7" class="q35"/>
<rect x="483.5" class="q30"/>
<rect x="486.3" class="q24"/>
<rect x="489.1" class="q21"/>
<rect x="492.0" class="q23"/>
<rect x="494.8" class="q29"/>
<rect x="497.6" class="q24"/>
</g>
<g class="w7">
<rect x="500.4" class="q20"/>
<rect x="503.2" class="q20"/>
<rect x="505.9" class="q19"/>
<rect x="508.7" class="q19"/>
<rect x="511.4" class="q19"/>
<rect x="514.2" class="q23"/>
<rect x="516.9" class="q21"/>
<rect x="519.7" class="q20"/>
<rect x="522.4" class="q19"/>
<rect x="525.2" class="q20"/>
<rect x="527.9" class="q21"/>
<rect x="530.7" class="q24"/>
<rect x="533.4" class="q20"/>
<rect x="536.2" class="q19"/>
<rect x="538.9" class="q20"/>
<rect x="541.7" class="q23"/>
<rect x="544.5" class="q22"/>
<rect x="547.2" class="q23"/>
<rect x="550.0" class="q22"/>
<rect x="552.7" class="q19"/>
<rect x="555.5" class="q20"/>
<rect x="558.2" class="q18"/>
<rect x="561.0" class="q20"/>
<rect x="563.7" class="q19"/>
<rect x="566.5" class="q20"/>
<rect x="569.2" class="q22"/>
<rect x="572.0" class="q23"/>
<rect x="574.7" class="q22"/>
<rect x="577.5" class="q20"/>
<rect x="580.2" class="q22"/>
<rect x="583.0" class="q21"/>
<rect x="585.7" class="q20"/>
</g>
<g class="w8">
<rect x="588.5" class="q20"/>
</g>
<g class="w9">
<rect x="591.1" class="q21"/>
<rect x="593.9" class="q21"/>
<rect x="596.7" class="q20"/>
<rect x="599.5" class="q19"/>
<rect x="602.4" class="q19"/>
<rect x="605.2" class="q19"/>
<rect x="608.0" class="q19"/>
<rect x="610.8" class="q23"/>
<rect x="613.6" class="q22"/>
<rect x="616.4" class="q19"/>
<rect x="619.2" class="q20"/>
<rect x="622.1" class="q22"/>
<rect x="624.9" class="q19"/>
<rect x="627.7" class="q19"/>
<rect x="630.5" class="q19"/>
<rect x="633.3" class="q20"/>
<rect x="636.1" class="q21"/>
<rect x="638.9" class="q20"/>
<rect x="641.8" class="q22"/>
<rect x="644.6" class="q19"/>
<rect x="647.4" class="q18"/>
</g>
</g>
<g transform="translate(0 190.81)">
<g class="w0">
<rect x="11.7" class="q15"/>
<rect x="14.5" class="q9"/>
<rect x="17.2" class="q13"/>
<rect x="20.0" class="q17"/>
<rect x="22.8" class="q15"/>
<rect x="25.5" class="q12"/>
<rect x="28.3" class="q12"/>
<rect x="31.1" class="q5"/>
<rect x="33.8" class="q12"/>
<rect x="36.6" class="q13"/>
<rect x="39.4" class="q15"/>
<rect x="42.1" class="q11"/>
<rect x="44.9" class="q15"/>
<rect x="47.7" class="q15"/>
<rect x="50.5" class="q11"/>
<rect x="53.2" class="q12"/>
<rect x="56.0" class="q10"/>
<rect x="58.8" class="q6"/>
<rect x="61.5" class="q18"/>
<rect x="64.3" class="q19"/>
<rect x="67.1" class="q12"/>
<rect x="69.8" class="q17"/>
<rect x="72.6" class="q13"/>
<rect x="75.4" class="q11"/>
<rect x="78.1" class="q8"/>
<rect x="80.9" class="q12"/>
<rect x="83.7" class="q13"/>
<rect x="86.4" class="q19"/>
<rect x="89.2" class="q12"/>
<rect x="92.0" class="q12"/>
<rect x="94.7" class="q19"/>
<rect x="97.5" class="q13"/>
<rect x="100.3" class="q16"/>
<rect x="103.0" class="q10"/>
<rect x="105.8" class="q7"/>
<rect x="108.6" class="q10"/>
<rect x="111.4" class="q13"/>
<rect x="114.1" class="q11"/>
<rect x="116.9" class="q17"/>
<rect x="119.7" class="q13"/>
<rect x="122.4" class="q12"/>
<rect x="125.2" class="q18"/>
<rect x="128.0" class="q11"/>
<rect x="130.7" class="q6"/>
</g>
<g class="w1">
<rect x="133.5" class="q14"/>
<rect x="136.2" class="q7"/>
<rect x="139.0" class="q36"/>
<rect x="141.8" class="q9"/>
</g>
<g class="w2">
<rect x="144.5" class="q11"/>
<rect x="147.3" class="q10"/>
<rect x="150.1" class="q12"/>
<rect x="152.9" class="q13"/>
<rect x="155.7" class="q10"/>
<rect x="158.5" class="q10"/>
<rect x="161.3" class="q15"/>
<rect x="164.1" class="q9"/>
<rect x="166.9" class="q10"/>
<rect x="169.7" class="q12"/>
<rect x="172.5" class="q11"/>
<rect x="175.3" class="q12"/>
<rect x="178.1" class="q10"/>
<rect x="180.9" class="q13"/>
<rect x="183.7" class="q8"/>
</g>
<g class="w3">
<rect x="186.5" class="q11"/>
<rect x="189.3" class="q14"/>
<rect x="192.0" class="q15"/>
<rect x="194.8" class="q16"/>
<rect x="197.6" class="q12"/>
<rect x="200.3" class="q19"/>
<rect x="203.1" class="q12"/>
<rect x="205.9" class="q11"/>
<rect x="208.7" class="q15"/>
<rect x="211.4" class="q14"/>
<rect x="214.2" class="q19"/>
<rect x="217.0" class="q13"/>
<rect x="219.7" class="q12"/>
<rect x="222.5" class="q13"/>
<rect x="225.3" class="q9"/>
<rect x="228.1" class="q16"/>
<rect x="230.8" class="q8"/>
<rect x="233.6" class="q8"/>
<rect x="236.4" class="q17"/>
<rect x="239.1" class="q11"/>
<rect x="241.9" class="q17"/>
<rect x="244.7" class="q16"/>
<rect x="247.4" class="q7"/>
<rect x="250.2" class="q17"/>
<rect x="253.0" class="q14"/>
<rect x="255.8" class="q13"/>
<rect x="258.5" class="q10"/>
<rect x="261.3" class="q11"/>
<rect x="264.1" class="q14"/>
<rect x="266.8" class="q8"/>
</g>
<g class="w4">
<rect x="269.6" class="q17"/>
<rect x="272.4" class="q19"/>
<rect x="275.2" class="q15"/>
<rect x="278.0" class="q12"/>
<rect x="280.8" class="q13"/>
<rect x="283.6" class="q13"/>
<rect x="286.4" class="q11"/>
<rect x="289.2" class="q18"/>
<rect x="292.0" class="q21"/>
<rect x="294.8" class="q22"/>
<rect x="297.6" class="q11"/>
<rect x="300.4" class="q12"/>
<rect x="303.2" class="q9"/>
<rect x="306.0" class="q12"/>
<rect x="308.7" class="q16"/>
<rect x="311.5" class="q7"/>
<rect x="314.3" class="q12"/>
<rect x="317.1" class="q19"/>
<rect x="319.9" class="q16"/>
<rect x="322.7" class="q16"/>
<rect x="325.5" class="q6"/>
<rect x="328.3" class="q21"/>
<rect x="331.1" class="q9"/>
<rect x="333.9" class="q15"/>
<rect x="336.7" class="q20"/>
<rect x="339.5" class="q12"/>
</g>
<g class="w5">
<rect x="342.3" class="q34"/>
<rect x="345.1" class="q26"/>
<rect x="347.8" class="q38"/>
<rect x="350.6" class="q35"/>
<rect x="353.4" class="q39"/>
<rect x="356.1" class="q24"/>
<rect x="358.9" class="q8"/>
<rect x="361.7" class="q8"/>
<rect x="364.4" class="q9"/>
<rect x="367.2" class="q8"/>
<rect x="370.0" class="q13"/>
<rect x="372.7" class="q27"/>
<rect x="375.5" class="q25"/>
<rect x="378.3" class="q30"/>
<rect x="381.1" class="q23"/>
<rect x="383.8" class="q20"/>
<rect x="386.6" class="q27"/>
<rect x="389.4" class="q28"/>
<rect x="392.1" class="q33"/>
<rect x="394.9" class="q19"/>
<rect x="397.7" class="q18"/>
<rect x="400.4" class="q34"/>
<rect x="403.2" class="q34"/>
<rect x="406.0" class="q12"/>
<rect x="408.7" class="q22"/>
<rect x="411.5" class="q29"/>
<rect x="414.3" class="q5"/>
<rect x="417.0" class="q7"/>
<rect x="419.8" class="q7"/>
<rect x="422.6" class="q11"/>
<rect x="425.3" class="q40"/>
<rect x="428.1" class="q30"/>
<rect x="430.9" class="q18"/>
<rect x="433.6" class="q10"/>
<rect x="436.4" class="q22"/>
<rect x="439.2" class="q30"/>
<rect x="441.9" class="q32"/>
<rect x="444.7" class="q24"/>
<rect x="447.5" class="q34"/>
<rect x="450.3" class="q37"/>
<rect x="453.0" class="q33"/>
<rect x="455.8" class="q23"/>
<rect x="458.6" class="q19"/>
<rect x="461.3" class="q36"/>
<rect x="464.1" class="q30"/>
<rect x="466.9" class="q34"/>
<rect x="469.6" class="q29"/>
<rect x="472.4" class="q8"/>
<rect x="475.2" class="q29"/>
<rect x="477.9" class="q32"/>
</g>
<g class="w6">
<rect x="480.7" class="q27"/>
<rect x="483.5" class="q24"/>
<rect x="486.3" class="q22"/>
<rect x="489.1" class="q22"/>
<rect x="492.0" class="q27"/>
<rect x="494.8" class="q21"/>
<rect x="497.6" class="q17"/>
</g>
<g class="w7">
<rect x="500.4" class="q29"/>
<rect x="503.2" class="q25"/>
<rect x="505.9" class="q36"/>
<rect x="508.7" class="q36"/>
<rect x="511.4" class="q31"/>
<rect x="514.2" class="q28"/>
<rect x="516.9" class="q34"/>
<rect x="519.7" class="q33"/>
<rect x="522.4" class="q32"/>
<rect x="525.2" class="q27"/>
<rect x="527.9" class="q32"/>
<rect x="530.7" class="q29"/>
<rect x="533.4" class="q34"/>
<rect x="536.2" class="q33"/>
<rect x="538.9" class="q33"/>
<rect x="541.7" class="q29"/>
<rect x="544.5" class="q37"/>
<rect x="547.2" class="q34"/>
<rect x="550.0" class="q36"/>
<rect x="552.7" class="q34"/>
<rect x="555.5" class="q34"/>
<rect x="558.2" class="q33"/>
<rect x="561.0" class="q27"/>
<rect x="563.7" class="q24"/>
<rect x="566.5" class="q27"/>
<rect x="569.2" class="q33"/>
<rect x="572.0" class="q35"/>
<rect x="574.7" class="q32"/>
<rect x="577.5" class="q31"/>
<rect x="580.2" class="q38"/>
<rect x="583.0" class="q29"/>
<rect x="585.7" class="q24"/>
</g>
<g class="w8">
<rect x="588.5" class="q24"/>
</g>
<g class="w9">
<rect x="591.1" class="q26"/>
<rect x="593.9" class="q30"/>
<rect x="596.7" class="q40"/>
<rect x="599.5" class="q26"/>
<rect x="602.4" class="q23"/>
<rect x="605.2" class="q32"/>
<rect x="608.0" class="q28"/>
<rect x="610.8" class="q28"/>
<rect x="613.6" class="q32"/>
<rect x="616.4" class="q30"/>
<rect x="619.2" class="q34"/>
<rect x="622.1" class="q32"/>
<rect x="624.9" class="q35"/>
<rect x="627.7" class="q31"/>
<rect x="630.5" class="q22"/>
<rect x="633.3" class="q35"/>
<rect x="636.1" class="q23"/>
<rect x="638.9" class="q34"/>
<rect x="641.8" class="q17"/>
<rect x="644.6" class="q14"/>
<rect x="647.4" class="q17"/>
</g>
</g>
<g transform="translate(0 195.70)">
<g class="w0">
<rect x="11.7" class="q15"/>
<rect x="14.5" class="q11"/>
<rect x="17.2" class="q10"/>
<rect x="20.0" class="q5"/>
<rect x="22.8" class="q9"/>
<rect x="25.5" class="q10"/>
<rect x="28.3" class="q16"/>
<rect x="31.1" class="q12"/>
<rect x="33.8" class="q12"/>
<rect x="36.6" class="q10"/>
<rect x="39.4" class="q12"/>
<rect x="42.1" class="q12"/>
<rect x="44.9" class="q11"/>
<rect x="47.7" class="q9"/>
<rect x="50.5" class="q9"/>
<rect x="53.2" class="q17"/>
<rect x="56.0" class="q7"/>
<rect x="58.8" class="q10"/>
<rect x="61.5" class="q17"/>
<rect x="64.3" class="q9"/>
<rect x="67.1" class="q16"/>
<rect x="69.8" class="q7"/>
<rect x="72.6" class="q11"/>
<rect x="75.4" class="q11"/>
<rect x="78.1" class="q6"/>
<rect x="80.9" class="q7"/>
<rect x="83.7" class="q12"/>
<rect x="86.4" class="q18"/>
<rect x="89.2" class="q17"/>
<rect x="92.0" class="q15"/>
<rect x="94.7" class="q10"/>
<rect x="97.5" class="q14"/>
<rect x="100.3" class="q20"/>
<rect x="103.0" class="q16"/>
<rect x="105.8" class="q15"/>
<rect x="108.6" class="q11"/>
<rect x="111.4" class="q15"/>
<rect x="114.1" class="q15"/>
<rect x="116.9" class="q12"/>
<rect x="119.7" class="q11"/>
<rect x="122.4" class="q10"/>
<rect x="125.2" class="q13"/>
<rect x="128.0" class="q13"/>
<rect x="130.7" class="q14"/>
</g>
<g class="w1">
<rect x="133.5" class="q15"/>
<rect x="136.2" class="q17"/>
<rect x="139.0" class="q13"/>
<rect x="141.8" class="q8"/>
</g>
<g class="w2">
<rect x="144.5" class="q13"/>
<rect x="147.3" class="q7"/>
<rect x="150.1" class="q17"/>
<rect x="152.9" class="q9"/>
<rect x="155.7" class="q16"/>
<rect x="158.5" class="q10"/>
<rect x="161.3" class="q7"/>
<rect x="164.1" class="q7"/>
<rect x="166.9" class="q8"/>
<rect x="169.7" class="q13"/>
<rect x="172.5" class="q15"/>
<rect x="175.3" class="q11"/>
<rect x="178.1" class="q7"/>
<rect x="180.9" class="q8"/>
<rect x="183.7" class="q12"/>
</g>
<g class="w3">
<rect x="186.5" class="q15"/>
<rect x="189.3" class="q11"/>
<rect x="192.0" class="q17"/>
<rect x="194.8" class="q13"/>
<rect x="197.6" class="q16"/>
<rect x="200.3" class="q15"/>
<rect x="203.1" class="q7"/>
<rect x="205.9" class="q21"/>
<rect x="208.7" class="q12"/>
<rect x="211.4" class="q5"/>
<rect x="214.2" class="q13"/>
<rect x="217.0" class="q14"/>
<rect x="219.7" class="q14"/>
<rect x="222.5" class="q13"/>
<rect x="225.3" class="q10"/>
<rect x="228.1" class="q13"/>
<rect x="230.8" class="q19"/>
<rect x="233.6" class="q9"/>
<rect x="236.4" class="q18"/>
<rect x="239.1" class="q19"/>
<rect x="241.9" class="q13"/>
<rect x="244.7" class="q14"/>
<rect x="247.4" class="q12"/>
<rect x="250.2" class="q3"/>
<rect x="253.0" class="q17"/>
<rect x="255.8" class="q14"/>
<rect x="258.5" class="q12"/>
<rect x="261.3" class="q7"/>
<rect x="264.1" class="q14"/>
<rect x="266.8" class="q15"/>
</g>
<g class="w4">
<rect x="269.6" class="q20"/>
<rect x="272.4" class="q13"/>
<rect x="275.2" class="q11"/>
<rect x="278.0" class="q17"/>
<rect x="280.8" class="q27"/>
<rect x="283.6" class="q13"/>
<rect x="286.4" class="q19"/>
<rect x="289.2" class="q24"/>
<rect x="292.0" class="q19"/>
<rect x="294.8" class="q17"/>
<rect x="297.6" class="q18"/>
<rect x="300.4" class="q9"/>
<rect x="303.2" class="q9"/>
<rect x="306.0" class="q19"/>
<rect x="308.7" class="q14"/>
<rect x="311.5" class="q17"/>
<rect x="314.3" class="q19"/>
<rect x="317.1" class="q18"/>
<rect x="319.9" class="q10"/>
<rect x="322.7" class="q12"/>
<rect x="325.5" class="q18"/>
<rect x="328.3" class="q8"/>
<rect x="331.1" class="q12"/>
<rect x="333.9" class="q6"/>
<rect x="336.7" class="q14"/>
<rect x="339.5" class="q14"/>
</g>
<g class="w5">
<rect x="342.3" class="q18"/>
<rect x="345.1" class="q28"/>
<rect x="347.8" class="q34"/>
<rect x="350.6" class="q27"/>
<rect x="353.4" class="q29"/>
<rect x="356.1" class="q22"/>
<rect x="358.9" class="q23"/>
<rect x="361.7" class="q13"/>
<rect x="364.4" class="q13"/>
<rect x="367.2" class="q13"/>
<rect x="370.0" class="q15"/>
<rect x="372.7" class="q11"/>
<rect x="375.5" class="q17"/>
<rect x="378.3" class="q29"/>
<rect x="381.1" class="q33"/>
<rect x="383.8" class="q35"/>
<rect x="386.6" class="q24"/>
<rect x="389.4" class="q11"/>
<rect x="392.1" class="q12"/>
<rect x="394.9" class="q17"/>
<rect x="397.7" class="q13"/>
<rect x="400.4" class="q23"/>
<rect x="403.2" class="q25"/>
<rect x="406.0" class="q26"/>
<rect x="408.7" class="q28"/>
<rect x="411.5" class="q30"/>
<rect x="414.3" class="q30"/>
<rect x="417.0" class="q37"/>
<rect x="419.8" class="q15"/>
<rect x="422.6" class="q19"/>
<rect x="425.3" class="q40"/>
<rect x="428.1" class="q20"/>
<rect x="430.9" class="q30"/>
<rect x="433.6" class="q34"/>
<rect x="436.4" class="q17"/>
<rect x="439.2" class="q12"/>
<rect x="441.9" class="q35"/>
<rect x="444.7" class="q27"/>
<rect x="447.5" class="q21"/>
<rect x="450.3" class="q24"/>
<rect x="453.0" class="q17"/>
<rect x="455.8" class="q22"/>
<rect x="458.6" class="q29"/>
<rect x="461.3" class="q30"/>
<rect x="464.1" class="q34"/>
<rect x="466.9" class="q17"/>
<rect x="469.6" class="q12"/>
<rect x="472.4" class="q22"/>
<rect x="475.2" class="q34"/>
<rect x="477.9" class="q26"/>
</g>
<g class="w6">
<rect x="480.7" class="q17"/>
<rect x="483.5" class="q19"/>
<rect x="486.3" class="q19"/>
<rect x="489.1" class="q9"/>
<rect x="492.0" class="q16"/>
<rect x="494.8" class="q22"/>
<rect x="497.6" class="q12"/>
</g>
<g class="w7">
<rect x="500.4" class="q20"/>
<rect x="503.2" class="q25"/>
<rect x="505.9" class="q29"/>
<rect x="508.7" class="q29"/>
<rect x="511.4" class="q25"/>
<rect x="514.2" class="q29"/>
<rect x="516.9" class="q26"/>
<rect x="519.7" class="q23"/>
<rect x="522.4" class="q35"/>
<rect x="525.2" class="q38"/>
<rect x="527.9" class="q38"/>
<rect x="530.7" class="q33"/>
<rect x="533.4" class="q34"/>
<rect x="536.2" class="q36"/>
<rect x="538.9" class="q40"/>
<rect x="541.7" class="q33"/>
<rect x="544.5" class="q33"/>
<rect x="547.2" class="q37"/>
<rect x="550.0" class="q37"/>
<rect x="552.7" class="q35"/>
<rect x="555.5" class="q36"/>
<rect x="558.2" class="q37"/>
<rect x="561.0" class="q14"/>
<rect x="563.7" class="q24"/>
<rect x="566.5" class="q28"/>
<rect x="569.2" class="q29"/>
<rect x="572.0" class="q31"/>
<rect x="574.7" class="q24"/>
<rect x="577.5" class="q16"/>
<rect x="580.2" class="q32"/>
<rect x="583.0" class="q29"/>
<rect x="585.7" class="q20"/>
</g>
<g class="w8">
<rect x="588.5" class="q20"/>
</g>
<g class="w9">
<rect x="591.1" class="q31"/>
<rect x="593.9" class="q28"/>
<rect x="596.7" class="q24"/>
<rect x="599.5" class="q33"/>
<rect x="602.4" class="q28"/>
<rect x="605.2" class="q29"/>
<rect x="608.0" class="q29"/>
<rect x="610.8" class="q32"/>
<rect x="613.6" class="q18"/>
<rect x="616.4" class="q23"/>
<rect x="619.2" class="q28"/>
<rect x="622.1" class="q15"/>
<rect x="624.9" class="q13"/>
<rect x="627.7" class="q13"/>
<rect x="630.5" class="q14"/>
<rect x="633.3" class="q16"/>
<rect x="636.1" class="q10"/>
<rect x="638.9" class="q16"/>
<rect x="641.8" class="q8"/>
<rect x="644.6" class="q13"/>
<rect x="647.4" class="q11"/>
</g>
</g>
<g transform="translate(0 200.58)">
<g class="w0">
<rect x="11.7" class="q17"/>
<rect x="14.5" class="q14"/>
<rect x="17.2" class="q9"/>
<rect x="20.0" class="q11"/>
<rect x="22.8" class="q8"/>
<rect x="25.5" class="q10"/>
<rect x="28.3" class="q19"/>
<rect x="31.1" class="q14"/>
<rect x="33.8" class="q13"/>
<rect x="36.6" class="q15"/>
<rect x="39.4" class="q19"/>
<rect x="42.1" class="q14"/>
<rect x="44.9" class="q13"/>
<rect x="47.7" class="q8"/>
<rect x="50.5" class="q15"/>
<rect x="53.2" class="q15"/>
<rect x="56.0" class="q12"/>
<rect x="58.8" class="q17"/>
<rect x="61.5" class="q11"/>
<rect x="64.3" class="q15"/>
<rect x="67.1" class="q12"/>
<rect x="69.8" class="q10"/>
<rect x="72.6" class="q11"/>
<rect x="75.4" class="q13"/>
<rect x="78.1" class="q10"/>
<rect x="80.9" class="q16"/>
<rect x="83.7" class="q7"/>
<rect x="86.4" class="q14"/>
<rect x="89.2" class="q16"/>
<rect x="92.0" class="q6"/>
<rect x="94.7" class="q16"/>
<rect x="97.5" class="q13"/>
<rect x="100.3" class="q7"/>
<rect x="103.0" class="q14"/>
<rect x="105.8" class="q16"/>
<rect x="108.6" class="q12"/>
<rect x="111.4" class="q17"/>
<rect x="114.1" class="q10"/>
<rect x="116.9" class="q18"/>
<rect x="119.7" class="q9"/>
<rect x="122.4" class="q8"/>
<rect x="125.2" class="q13"/>
<rect x="128.0" class="q9"/>
<rect x="130.7" class="q13"/>
</g>
<g class="w1">
<rect x="133.5" class="q22"/>
<rect x="136.2" class="q11"/>
<rect x="139.0" class="q19"/>
<rect x="141.8" class="q15"/>
</g>
<g class="w2">
<rect x="144.5" class="q16"/>
<rect x="147.3" class="q13"/>
<rect x="150.1" class="q10"/>
<rect x="152.9" class="q7"/>
<rect x="155.7" class="q12"/>
<rect x="158.5" class="q12"/>
<rect x="161.3" class="q9"/>
<rect x="164.1" class="q8"/>
<rect x="166.9" class="q11"/>
<rect x="169.7" class="q12"/>
<rect x="172.5" class="q11"/>
<rect x="175.3" class="q16"/>
<rect x="178.1" class="q11"/>
<rect x="180.9" class="q6"/>
<rect x="183.7" class="q12"/>
</g>
<g class="w3">
<rect x="186.5" class="q15"/>
<rect x="189.3" class="q7"/>
<rect x="192.0" class="q16"/>
<rect x="194.8" class="q13"/>
<rect x="197.6" class="q11"/>
<rect x="200.3" class="q11"/>
<rect x="203.1" class="q10"/>
<rect x="205.9" class="q9"/>
<rect x="208.7" class="q11"/>
<rect x="211.4" class="q15"/>
<rect x="214.2" class="q12"/>
<rect x="217.0" class="q10"/>
<rect x="219.7" class="q11"/>
<rect x="222.5" class="q14"/>
<rect x="225.3" class="q11"/>
<rect x="228.1" class="q6"/>
<rect x="230.8" class="q13"/>
<rect x="233.6" class="q13"/>
<rect x="236.4" class="q11"/>
<rect x="239.1" class="q9"/>
<rect x="241.9" class="q12"/>
<rect x="244.7" class="q9"/>
<rect x="247.4" class="q14"/>
<rect x="250.2" class="q17"/>
<rect x="253.0" class="q15"/>
<rect x="255.8" class="q13"/>
<rect x="258.5" class="q13"/>
<rect x="261.3" class="q7"/>
<rect x="264.1" class="q12"/>
<rect x="266.8" class="q11"/>
</g>
<g class="w4">
<rect x="269.6" class="q18"/>
<rect x="272.4" class="q12"/>
<rect x="275.2" class="q17"/>
<rect x="278.0" class="q14"/>
<rect x="280.8" class="q10"/>
<rect x="283.6" class="q10"/>
<rect x="286.4" class="q10"/>
<rect x="289.2" class="q7"/>
<rect x="292.0" class="q8"/>
<rect x="294.8" class="q16"/>
<rect x="297.6" class="q17"/>
<rect x="300.4" class="q18"/>
<rect x="303.2" class="q22"/>
<rect x="306.0" class="q10"/>
<rect x="308.7" class="q20"/>
<rect x="311.5" class="q13"/>
<rect x="314.3" class="q16"/>
<rect x="317.1" class="q15"/>
<rect x="319.9" class="q21"/>
<rect x="322.7" class="q15"/>
<rect x="325.5" class="q12"/>
<rect x="328.3" class="q18"/>
<rect x="331.1" class="q14"/>
<rect x="333.9" class="q16"/>
<rect x="336.7" class="q12"/>
<rect x="339.5" class="q18"/>
</g>
<g class="w5">
<rect x="342.3" class="q31"/>
<rect x="345.1" class="q25"/>
<rect x="347.8" class="q19"/>
<rect x="350.6" class="q20"/>
<rect x="353.4" class="q28"/>
<rect x="356.1" class="q27"/>
<rect x="358.9" class="q23"/>
<rect x="361.7" class="q32"/>
<rect x="364.4" class="q23"/>
<rect x="367.2" class="q20"/>
<rect x="370.0" class="q37"/>
<rect x="372.7" class="q18"/>
<rect x="375.5" class="q22"/>
<rect x="378.3" class="q27"/>
<rect x="381.1" class="q32"/>
<rect x="383.8" class="q25"/>
<rect x="386.6" class="q20"/>
<rect x="389.4" class="q28"/>
<rect x="392.1" class="q27"/>
<rect x="394.9" class="q32"/>
<rect x="397.7" class="q40"/>
<rect x="400.4" class="q24"/>
<rect x="403.2" class="q34"/>
<rect x="406.0" class="q34"/>
<rect x="408.7" class="q27"/>
<rect x="411.5" class="q33"/>
<rect x="414.3" class="q33"/>
<rect x="417.0" class="q29"/>
<rect x="419.8" class="q31"/>
<rect x="422.6" class="q37"/>
<rect x="425.3" class="q28"/>
<rect x="428.1" class="q16"/>
<rect x="430.9" class="q28"/>
<rect x="433.6" class="q31"/>
<rect x="436.4" class="q21"/>
<rect x="439.2" class="q19"/>
<rect x="441.9" class="q33"/>
<rect x="444.7" class="q27"/>
<rect x="447.5" class="q25"/>
<rect x="450.3" class="q23"/>
<rect x="453.0" class="q21"/>
<rect x="455.8" class="q36"/>
<rect x="458.6" class="q28"/>
<rect x="461.3" class="q26"/>
<rect x="464.1" class="q26"/>
<rect x="466.9" class="q23"/>
<rect x="469.6" class="q29"/>
<rect x="472.4" class="q40"/>
<rect x="475.2" class="q19"/>
<rect x="477.9" class="q18"/>
</g>
<g class="w6">
<rect x="480.7" class="q27"/>
<rect x="483.5" class="q17"/>
<rect x="486.3" class="q16"/>
<rect x="489.1" class="q24"/>
<rect x="492.0" class="q18"/>
<rect x="494.8" class="q16"/>
<rect x="497.6" class="q18"/>
</g>
<g class="w7">
<rect x="500.4" class="q32"/>
<rect x="503.2" class="q32"/>
<rect x="505.9" class="q26"/>
<rect x="508.7" class="q16"/>
<rect x="511.4" class="q25"/>
<rect x="514.2" class="q23"/>
<rect x="516.9" class="q23"/>
<rect x="519.7" class="q27"/>
<rect x="522.4" class="q22"/>
<rect x="525.2" class="q29"/>
<rect x="527.9" class="q36"/>
<rect x="530.7" class="q21"/>
<rect x="533.4" class="q32"/>
<rect x="536.2" class="q24"/>
<rect x="538.9" class="q30"/>
<rect x="541.7" class="q26"/>
<rect x="544.5" class="q33"/>
<rect x="547.2" class="q24"/>
<rect x="550.0" class="q17"/>
<rect x="552.7" class="q12"/>
<rect x="555.5" class="q16"/>
<rect x="558.2" class="q15"/>
<rect x="561.0" class="q18"/>
<rect x="563.7" class="q9"/>
<rect x="566.5" class="q10"/>
<rect x="569.2" class="q19"/>
<rect x="572.0" class="q16"/>
<rect x="574.7" class="q21"/>
<rect x="577.5" class="q11"/>
<rect x="580.2" class="q15"/>
<rect x="583.0" class="q27"/>
<rect x="585.7" class="q29"/>
</g>
<g class="w8">
<rect x="588.5" class="q19"/>
</g>
<g class="w9">
<rect x="591.1" class="q24"/>
<rect x="593.9" class="q25"/>
<rect x="596.7" class="q26"/>
<rect x="599.5" class="q31"/>
<rect x="602.4" class="q28"/>
<rect x="605.2" class="q29"/>
<rect x="608.0" class="q21"/>
<rect x="610.8" class="q25"/>
<rect x="613.6" class="q31"/>
<rect x="616.4" class="q27"/>
<rect x="619.2" class="q26"/>
<rect x="622.1" class="q13"/>
<rect x="624.9" class="q11"/>
<rect x="627.7" class="q11"/>
<rect x="630.5" class="q17"/>
<rect x="633.3" class="q15"/>
<rect x="636.1" class="q17"/>
<rect x="638.9" class="q19"/>
<rect x="641.8" class="q14"/>
<rect x="644.6" class="q17"/>
<rect x="647.4" class="q13"/>
</g>
</g>
<g transform="translate(0 205.47)">
<g class="w0">
<rect x="11.7" class="q17"/>
<rect x="14.5" class="q16"/>
<rect x="17.2" class="q16"/>
<rect x="20.0" class="q17"/>
<rect x="22.8" class="q16"/>
<rect x="25.5" class="q4"/>
<rect x="28.3" class="q16"/>
<rect x="31.1" class="q17"/>
<rect x="33.8" class="q17"/>
<rect x="36.6" class="q20"/>
<rect x="39.4" class="q20"/>
<rect x="42.1" class="q19"/>
<rect x="44.9" class="q16"/>
<rect x="47.7" class="q17"/>
<rect x="50.5" class="q19"/>
<rect x="53.2" class="q4"/>
<rect x="56.0" class="q15"/>
<rect x="58.8" class="q17"/>
<rect x="61.5" class="q16"/>
<rect x="64.3" class="q4"/>
<rect x="67.1" class="q18"/>
<rect x="69.8" class="q16"/>
<rect x="72.6" class="q21"/>
<rect x="75.4" class="q17"/>
<rect x="78.1" class="q22"/>
<rect x="80.9" class="q17"/>
<rect x="83.7" class="q17"/>
<rect x="86.4" class="q21"/>
<rect x="89.2" class="q16"/>
<rect x="92.0" class="q17"/>
<rect x="94.7" class="q4"/>
<rect x="97.5" class="q17"/>
<rect x="100.3" class="q18"/>
<rect x="103.0" class="q15"/>
<rect x="105.8" class="q4"/>
<rect x="108.6" class="q19"/>
<rect x="111.4" class="q18"/>
<rect x="114.1" class="q19"/>
<rect x="116.9" class="q16"/>
<rect x="119.7" class="q17"/>
<rect x="122.4" class="q15"/>
<rect x="125.2" class="q18"/>
<rect x="128.0" class="q19"/>
<rect x="130.7" class="q19"/>
</g>
<g class="w1">
<rect x="133.5" class="q15"/>
<rect x="136.2" class="q18"/>
<rect x="139.0" class="q4"/>
<rect x="141.8" class="q9"/>
</g>
<g class="w2">
<rect x="144.5" class="q4"/>
<rect x="147.3" class="q19"/>
<rect x="150.1" class="q12"/>
<rect x="152.9" class="q13"/>
<rect x="155.7" class="q4"/>
<rect x="158.5" class="q15"/>
<rect x="161.3" class="q6"/>
<rect x="164.1" class="q15"/>
<rect x="166.9" class="q10"/>
<rect x="169.7" class="q6"/>
<rect x="172.5" class="q12"/>
<rect x="175.3" class="q11"/>
<rect x="178.1" class="q8"/>
<rect x="180.9" class="q16"/>
<rect x="183.7" class="q10"/>
</g>
<g class="w3">
<rect x="186.5" class="q14"/>
<rect x="189.3" class="q27"/>
<rect x="192.0" class="q16"/>
<rect x="194.8" class="q30"/>
<rect x="197.6" class="q23"/>
<rect x="200.3" class="q19"/>
<rect x="203.1" class="q13"/>
<rect x="205.9" class="q19"/>
<rect x="208.7" class="q27"/>
<rect x="211.4" class="q26"/>
<rect x="214.2" class="q22"/>
<rect x="217.0" class="q15"/>
<rect x="219.7" class="q20"/>
<rect x="222.5" class="q20"/>
<rect x="225.3" class="q23"/>
<rect x="228.1" class="q21"/>
<rect x="230.8" class="q22"/>
<rect x="233.6" class="q15"/>
<rect x="236.4" class="q19"/>
<rect x="239.1" class="q27"/>
<rect x="241.9" class="q16"/>
<rect x="244.7" class="q25"/>
<rect x="247.4" class="q30"/>
<rect x="250.2" class="q24"/>
<rect x="253.0" class="q16"/>
<rect x="255.8" class="q26"/>
<rect x="258.5" class="q15"/>
<rect x="261.3" class="q22"/>
<rect x="264.1" class="q19"/>
<rect x="266.8" class="q26"/>
</g>
<g class="w4">
<rect x="269.6" class="q12"/>
<rect x="272.4" class="q15"/>
<rect x="275.2" class="q21"/>
<rect x="278.0" class="q15"/>
<rect x="280.8" class="q15"/>
<rect x="283.6" class="q16"/>
<rect x="286.4" class="q12"/>
<rect x="289.2" class="q14"/>
<rect x="292.0" class="q22"/>
<rect x="294.8" class="q14"/>
<rect x="297.6" class="q16"/>
<rect x="300.4" class="q20"/>
<rect x="303.2" class="q15"/>
<rect x="306.0" class="q16"/>
<rect x="308.7" class="q19"/>
<rect x="311.5" class="q20"/>
<rect x="314.3" class="q17"/>
<rect x="317.1" class="q23"/>
<rect x="319.9" class="q28"/>
<rect x="322.7" class="q13"/>
<rect x="325.5" class="q16"/>
<rect x="328.3" class="q18"/>
<rect x="331.1" class="q18"/>
<rect x="333.9" class="q11"/>
<rect x="336.7" class="q20"/>
<rect x="339.5" class="q23"/>
</g>
<g class="w5">
<rect x="342.3" class="q28"/>
<rect x="345.1" class="q23"/>
<rect x="347.8" class="q24"/>
<rect x="350.6" class="q17"/>
<rect x="353.4" class="q33"/>
<rect x="356.1" class="q25"/>
<rect x="358.9" class="q17"/>
<rect x="361.7" class="q27"/>
<rect x="364.4" class="q22"/>
<rect x="367.2" class="q22"/>
<rect x="370.0" class="q22"/>
<rect x="372.7" class="q22"/>
<rect x="375.5" class="q22"/>
<rect x="378.3" class="q24"/>
<rect x="381.1" class="q22"/>
<rect x="383.8" class="q26"/>
<rect x="386.6" class="q20"/>
<rect x="389.4" class="q20"/>
<rect x="392.1" class="q25"/>
<rect x="394.9" class="q31"/>
<rect x="397.7" class="q24"/>
<rect x="400.4" class="q19"/>
<rect x="403.2" class="q23"/>
<rect x="406.0" class="q25"/>
<rect x="408.7" class="q20"/>
<rect x="411.5" class="q21"/>
<rect x="414.3" class="q19"/>
<rect x="417.0" class="q16"/>
<rect x="419.8" class="q25"/>
<rect x="422.6" class="q31"/>
<rect x="425.3" class="q19"/>
<rect x="428.1" class="q18"/>
<rect x="430.9" class="q20"/>
<rect x="433.6" class="q22"/>
<rect x="436.4" class="q25"/>
<rect x="439.2" class="q19"/>
<rect x="441.9" class="q16"/>
<rect x="444.7" class="q26"/>
<rect x="447.5" class="q27"/>
<rect x="450.3" class="q16"/>
<rect x="453.0" class="q20"/>
<rect x="455.8" class="q24"/>
<rect x="458.6" class="q21"/>
<rect x="461.3" class="q17"/>
<rect x="464.1" class="q25"/>
<rect x="466.9" class="q20"/>
<rect x="469.6" class="q20"/>
<rect x="472.4" class="q22"/>
<rect x="475.2" class="q19"/>
<rect x="477.9" class="q26"/>
</g>
<g class="w6">
<rect x="480.7" class="q25"/>
<rect x="483.5" class="q23"/>
<rect x="486.3" class="q25"/>
<rect x="489.1" class="q21"/>
<rect x="492.0" class="q22"/>
<rect x="494.8" class="q17"/>
<rect x="497.6" class="q21"/>
</g>
<g class="w7">
<rect x="500.4" class="q25"/>
<rect x="503.2" class="q24"/>
<rect x="505.9" class="q27"/>
<rect x="508.7" class="q25"/>
<rect x="511.4" class="q23"/>
<rect x="514.2" class="q27"/>
<rect x="516.9" class="q19"/>
<rect x="519.7" class="q22"/>
<rect x="522.4" class="q29"/>
<rect x="525.2" class="q24"/>
<rect x="527.9" class="q24"/>
<rect x="530.7" class="q26"/>
<rect x="533.4" class="q28"/>
<rect x="536.2" class="q27"/>
<rect x="538.9" class="q22"/>
<rect x="541.7" class="q23"/>
<rect x="544.5" class="q22"/>
<rect x="547.2" class="q19"/>
<rect x="550.0" class="q17"/>
<rect x="552.7" class="q22"/>
<rect x="555.5" class="q22"/>
<rect x="558.2" class="q25"/>
<rect x="561.0" class="q16"/>
<rect x="563.7" class="q17"/>
<rect x="566.5" class="q17"/>
<rect x="569.2" class="q20"/>
<rect x="572.0" class="q18"/>
<rect x="574.7" class="q22"/>
<rect x="577.5" class="q12"/>
<rect x="580.2" class="q22"/>
<rect x="583.0" class="q17"/>
<rect x="585.7" class="q18"/>
</g>
<g class="w8">
<rect x="588.5" class="q17"/>
</g>
<g class="w9">
<rect x="591.1" class="q23"/>
<rect x="593.9" class="q22"/>
<rect x="596.7" class="q17"/>
<rect x="599.5" class="q18"/>
<rect x="602.4" class="q19"/>
<rect x="605.2" class="q15"/>
<rect x="608.0" class="q17"/>
<rect x="610.8" class="q19"/>
<rect x="613.6" class="q19"/>
<rect x="616.4" class="q21"/>
<rect x="619.2" class="q19"/>
<rect x="622.1" class="q18"/>
<rect x="624.9" class="q19"/>
<rect x="627.7" class="q21"/>
<rect x="630.5" class="q19"/>
<rect x="633.3" class="q22"/>
<rect x="636.1" class="q19"/>
<rect x="638.9" class="q20"/>
<rect x="641.8" class="q21"/>
<rect x="644.6" class="q16"/>
<rect x="647.4" class="q18"/>
</g>
</g>
<g transform="translate(0 210.35)">
<g class="w0">
<rect x="11.7" class="q23"/>
<rect x="14.5" class="q18"/>
<rect x="17.2" class="q19"/>
<rect x="20.0" class="q17"/>
<rect x="22.8" class="q20"/>
<rect x="25.5" class="q18"/>
<rect x="28.3" class="q19"/>
<rect x="31.1" class="q16"/>
<rect x="33.8" class="q20"/>
<rect x="36.6" class="q17"/>
<rect x="39.4" class="q17"/>
<rect x="42.1" class="q18"/>
<rect x="44.9" class="q16"/>
<rect x="47.7" class="q20"/>
<rect x="50.5" class="q18"/>
<rect x="53.2" class="q21"/>
<rect x="56.0" class="q16"/>
<rect x="58.8" class="q14"/>
<rect x="61.5" class="q18"/>
<rect x="64.3" class="q23"/>
<rect x="67.1" class="q17"/>
<rect x="69.8" class="q16"/>
<rect x="72.6" class="q15"/>
<rect x="75.4" class="q21"/>
<rect x="78.1" class="q18"/>
<rect x="80.9" class="q17"/>
<rect x="83.7" class="q21"/>
<rect x="86.4" class="q20"/>
<rect x="89.2" class="q17"/>
<rect x="92.0" class="q20"/>
<rect x="94.7" class="q19"/>
<rect x="97.5" class="q20"/>
<rect x="100.3" class="q15"/>
<rect x="103.0" class="q19"/>
<rect x="105.8" class="q19"/>
<rect x="108.6" class="q19"/>
<rect x="111.4" class="q19"/>
<rect x="114.1" class="q17"/>
<rect x="116.9" class="q19"/>
<rect x="119.7" class="q21"/>
<rect x="122.4" class="q16"/>
<rect x="125.2" class="q21"/>
<rect x="128.0" class="q19"/>
<rect x="130.7" class="q19"/>
</g>
<g class="w1">
<rect x="133.5" class="q18"/>
<rect x="136.2" class="q15"/>
<rect x="139.0" class="q19"/>
<rect x="141.8" class="q17"/>
</g>
<g class="w2">
<rect x="144.5" class="q20"/>
<rect x="147.3" class="q18"/>
<rect x="150.1" class="q21"/>
<rect x="152.9" class="q20"/>
<rect x="155.7" class="q18"/>
<rect x="158.5" class="q17"/>
<rect x="161.3" class="q22"/>
<rect x="164.1" class="q18"/>
<rect x="166.9" class="q19"/>
<rect x="169.7" class="q18"/>
<rect x="172.5" class="q18"/>
<rect x="175.3" class="q16"/>
<rect x="178.1" class="q18"/>
<rect x="180.9" class="q18"/>
<rect x="183.7" class="q20"/>
</g>
<g class="w3">
<rect x="186.5" class="q17"/>
<rect x="189.3" class="q22"/>
<rect x="192.0" class="q17"/>
<rect x="194.8" class="q18"/>
<rect x="197.6" class="q17"/>
<rect x="200.3" class="q22"/>
<rect x="203.1" class="q18"/>
<rect x="205.9" class="q18"/>
<rect x="208.7" class="q16"/>
<rect x="211.4" class="q18"/>
<rect x="214.2" class="q21"/>
<rect x="217.0" class="q21"/>
<rect x="219.7" class="q18"/>
<rect x="222.5" class="q17"/>
<rect x="225.3" class="q16"/>
<rect x="228.1" class="q18"/>
<rect x="230.8" class="q24"/>
<rect x="233.6" class="q17"/>
<rect x="236.4" class="q13"/>
<rect x="239.1" class="q13"/>
<rect x="241.9" class="q15"/>
<rect x="244.7" class="q17"/>
<rect x="247.4" class="q13"/>
<rect x="250.2" class="q15"/>
<rect x="253.0" class="q20"/>
<rect x="255.8" class="q15"/>
<rect x="258.5" class="q21"/>
<rect x="261.3" class="q16"/>
<rect x="264.1" class="q16"/>
<rect x="266.8" class="q16"/>
</g>
<g class="w4">
<rect x="269.6" class="q21"/>
<rect x="272.4" class="q28"/>
<rect x="275.2" class="q24"/>
<rect x="278.0" class="q20"/>
<rect x="280.8" class="q21"/>
<rect x="283.6" class="q19"/>
<rect x="286.4" class="q21"/>
<rect x="289.2" class="q21"/>
<rect x="292.0" class="q22"/>
<rect x="294.8" class="q14"/>
<rect x="297.6" class="q19"/>
<rect x="300.4" class="q18"/>
<rect x="303.2" class="q21"/>
<rect x="306.0" class="q22"/>
<rect x="308.7" class="q23"/>
<rect x="311.5" class="q23"/>
<rect x="314.3" class="q23"/>
<rect x="317.1" class="q19"/>
<rect x="319.9" class="q17"/>
<rect x="322.7" class="q21"/>
<rect x="325.5" class="q22"/>
<rect x="328.3" class="q23"/>
<rect x="331.1" class="q19"/>
<rect x="333.9" class="q19"/>
<rect x="336.7" class="q21"/>
<rect x="339.5" class="q24"/>
</g>
<g class="w5">
<rect x="342.3" class="q25"/>
<rect x="345.1" class="q18"/>
<rect x="347.8" class="q16"/>
<rect x="350.6" class="q13"/>
<rect x="353.4" class="q15"/>
<rect x="356.1" class="q18"/>
<rect x="358.9" class="q16"/>
<rect x="361.7" class="q23"/>
<rect x="364.4" class="q18"/>
<rect x="367.2" class="q17"/>
<rect x="370.0" class="q23"/>
<rect x="372.7" class="q23"/>
<rect x="375.5" class="q26"/>
<rect x="378.3" class="q16"/>
<rect x="381.1" class="q19"/>
<rect x="383.8" class="q16"/>
<rect x="386.6" class="q13"/>
<rect x="389.4" class="q26"/>
<rect x="392.1" class="q20"/>
<rect x="394.9" class="q19"/>
<rect x="397.7" class="q25"/>
<rect x="400.4" class="q25"/>
<rect x="403.2" class="q18"/>
<rect x="406.0" class="q24"/>
<rect x="408.7" class="q21"/>
<rect x="411.5" class="q24"/>
<rect x="414.3" class="q21"/>
<rect x="417.0" class="q23"/>
<rect x="419.8" class="q22"/>
<rect x="422.6" class="q17"/>
<rect x="425.3" class="q22"/>
<rect x="428.1" class="q20"/>
<rect x="430.9" class="q20"/>
<rect x="433.6" class="q24"/>
<rect x="436.4" class="q17"/>
<rect x="439.2" class="q24"/>
<rect x="441.9" class="q19"/>
<rect x="444.7" class="q13"/>
<rect x="447.5" class="q20"/>
<rect x="450.3" class="q13"/>
<rect x="453.0" class="q17"/>
<rect x="455.8" class="q21"/>
<rect x="458.6" class="q21"/>
<rect x="461.3" class="q17"/>
<rect x="464.1" class="q20"/>
<rect x="466.9" class="q19"/>
<rect x="469.6" class="q24"/>
<rect x="472.4" class="q21"/>
<rect x="475.2" class="q19"/>
<rect x="477.9" class="q23"/>
</g>
<g class="w6">
<rect x="480.7" class="q20"/>
<rect x="483.5" class="q23"/>
<rect x="486.3" class="q22"/>
<rect x="489.1" class="q21"/>
<rect x="492.0" class="q20"/>
<rect x="494.8" class="q22"/>
<rect x="497.6" class="q20"/>
</g>
<g class="w7">
<rect x="500.4" class="q20"/>
<rect x="503.2" class="q21"/>
<rect x="505.9" class="q19"/>
<rect x="508.7" class="q18"/>
<rect x="511.4" class="q17"/>
<rect x="514.2" class="q21"/>
<rect x="516.9" class="q21"/>
<rect x="519.7" class="q18"/>
<rect x="522.4" class="q22"/>
<rect x="525.2" class="q18"/>
<rect x="527.9" class="q19"/>
<rect x="530.7" class="q17"/>
<rect x="533.4" class="q19"/>
<rect x="536.2" class="q17"/>
<rect x="538.9" class="q21"/>
<rect x="541.7" class="q18"/>
<rect x="544.5" class="q19"/>
<rect x="547.2" class="q19"/>
<rect x="550.0" class="q18"/>
<rect x="552.7" class="q22"/>
<rect x="555.5" class="q17"/>
<rect x="558.2" class="q17"/>
<rect x="561.0" class="q19"/>
<rect x="563.7" class="q18"/>
<rect x="566.5" class="q19"/>
<rect x="569.2" class="q22"/>
<rect x="572.0" class="q18"/>
<rect x="574.7" class="q17"/>
<rect x="577.5" class="q18"/>
<rect x="580.2" class="q16"/>
<rect x="583.0" class="q18"/>
<rect x="585.7" class="q18"/>
</g>
<g class="w8">
<rect x="588.5" class="q18"/>
</g>
<g class="w9">
<rect x="591.1" class="q21"/>
<rect x="593.9" class="q18"/>
<rect x="596.7" class="q18"/>
<rect x="599.5" class="q21"/>
<rect x="602.4" class="q17"/>
<rect x="605.2" class="q18"/>
<rect x="608.0" class="q18"/>
<rect x="610.8" class="q20"/>
<rect x="613.6" class="q17"/>
<rect x="616.4" class="q20"/>
<rect x="619.2" class="q18"/>
<rect x="622.1" class="q20"/>
<rect x="624.9" class="q17"/>
<rect x="627.7" class="q20"/>
<rect x="630.5" class="q15"/>
<rect x="633.3" class="q17"/>
<rect x="636.1" class="q19"/>
<rect x="638.9" class="q18"/>
<rect x="641.8" class="q18"/>
<rect x="644.6" class="q20"/>
<rect x="647.4" class="q23"/>
</g>
</g>
<g transform="translate(0 215.24)">
<g class="w0">
<rect x="11.7" class="q22"/>
<rect x="14.5" class="q24"/>
<rect x="17.2" class="q19"/>
<rect x="20.0" class="q22"/>
<rect x="22.8" class="q21"/>
<rect x="25.5" class="q26"/>
<rect x="28.3" class="q23"/>
<rect x="31.1" class="q24"/>
<rect x="33.8" class="q24"/>
<rect x="36.6" class="q25"/>
<rect x="39.4" class="q22"/>
<rect x="42.1" class="q21"/>
<rect x="44.9" class="q24"/>
<rect x="47.7" class="q26"/>
<rect x="50.5" class="q23"/>
<rect x="53.2" class="q22"/>
<rect x="56.0" class="q23"/>
<rect x="58.8" class="q22"/>
<rect x="61.5" class="q25"/>
<rect x="64.3" class="q20"/>
<rect x="67.1" class="q23"/>
<rect x="69.8" class="q22"/>
<rect x="72.6" class="q23"/>
<rect x="75.4" class="q21"/>
<rect x="78.1" class="q29"/>
<rect x="80.9" class="q27"/>
<rect x="83.7" class="q20"/>
<rect x="86.4" class="q19"/>
<rect x="89.2" class="q28"/>
<rect x="92.0" class="q26"/>
<rect x="94.7" class="q23"/>
<rect x="97.5" class="q20"/>
<rect x="100.3" class="q26"/>
<rect x="103.0" class="q26"/>
<rect x="105.8" class="q26"/>
<rect x="108.6" class="q22"/>
<rect x="111.4" class="q24"/>
<rect x="114.1" class="q20"/>
<rect x="116.9" class="q20"/>
<rect x="119.7" class="q27"/>
<rect x="122.4" class="q26"/>
<rect x="125.2" class="q22"/>
<rect x="128.0" class="q26"/>
<rect x="130.7" class="q22"/>
</g>
<g class="w1">
<rect x="133.5" class="q20"/>
<rect x="136.2" class="q16"/>
<rect x="139.0" class="q19"/>
<rect x="141.8" class="q19"/>
</g>
<g class="w2">
<rect x="144.5" class="q20"/>
<rect x="147.3" class="q20"/>
<rect x="150.1" class="q18"/>
<rect x="152.9" class="q15"/>
<rect x="155.7" class="q20"/>
<rect x="158.5" class="q19"/>
<rect x="161.3" class="q16"/>
<rect x="164.1" class="q18"/>
<rect x="166.9" class="q18"/>
<rect x="169.7" class="q16"/>
<rect x="172.5" class="q17"/>
<rect x="175.3" class="q19"/>
<rect x="178.1" class="q16"/>
<rect x="180.9" class="q20"/>
<rect x="183.7" class="q19"/>
</g>
<g class="w3">
<rect x="186.5" class="q22"/>
<rect x="189.3" class="q23"/>
<rect x="192.0" class="q22"/>
<rect x="194.8" class="q26"/>
<rect x="197.6" class="q21"/>
<rect x="200.3" class="q21"/>
<rect x="203.1" class="q22"/>
<rect x="205.9" class="q24"/>
<rect x="208.7" class="q22"/>
<rect x="211.4" class="q18"/>
<rect x="214.2" class="q21"/>
<rect x="217.0" class="q21"/>
<rect x="219.7" class="q21"/>
<rect x="222.5" class="q27"/>
<rect x="225.3" class="q27"/>
<rect x="228.1" class="q23"/>
<rect x="230.8" class="q23"/>
<rect x="233.6" class="q21"/>
<rect x="236.4" class="q21"/>
<rect x="239.1" class="q24"/>
<rect x="241.9" class="q24"/>
<rect x="244.7" class="q25"/>
<rect x="247.4" class="q21"/>
<rect x="250.2" class="q22"/>
<rect x="253.0" class="q19"/>
<rect x="255.8" class="q24"/>
<rect x="258.5" class="q17"/>
<rect x="261.3" class="q22"/>
<rect x="264.1" class="q18"/>
<rect x="266.8" class="q26"/>
</g>
<g class="w4">
<rect x="269.6" class="q21"/>
<rect x="272.4" class="q24"/>
<rect x="275.2" class="q28"/>
<rect x="278.0" class="q27"/>
<rect x="280.8" class="q25"/>
<rect x="283.6" class="q22"/>
<rect x="286.4" class="q27"/>
<rect x="289.2" class="q25"/>
<rect x="292.0" class="q20"/>
<rect x="294.8" class="q20"/>
<rect x="297.6" class="q21"/>
<rect x="300.4" class="q22"/>
<rect x="303.2" class="q24"/>
<rect x="306.0" class="q20"/>
<rect x="308.7" class="q26"/>
<rect x="311.5" class="q23"/>
<rect x="314.3" class="q25"/>
<rect x="317.1" class="q21"/>
<rect x="319.9" class="q20"/>
<rect x="322.7" class="q19"/>
<rect x="325.5" class="q22"/>
<rect x="328.3" class="q19"/>
<rect x="331.1" class="q21"/>
<rect x="333.9" class="q20"/>
<rect x="336.7" class="q24"/>
<rect x="339.5" class="q22"/>
</g>
<g class="w5">
<rect x="342.3" class="q20"/>
<rect x="345.1" class="q19"/>
<rect x="347.8" class="q19"/>
<rect x="350.6" class="q30"/>
<rect x="353.4" class="q21"/>
<rect x="356.1" class="q22"/>
<rect x="358.9" class="q23"/>
<rect x="361.7" class="q23"/>
<rect x="364.4" class="q22"/>
<rect x="367.2" class="q20"/>
<rect x="370.0" class="q20"/>
<rect x="372.7" class="q21"/>
<rect x="375.5" class="q28"/>
<rect x="378.3" class="q27"/>
<rect x="381.1" class="q20"/>
<rect x="383.8" class="q16"/>
<rect x="386.6" class="q23"/>
<rect x="389.4" class="q25"/>
<rect x="392.1" class="q29"/>
<rect x="394.9" class="q21"/>
<rect x="397.7" class="q23"/>
<rect x="400.4" class="q18"/>
<rect x="403.2" class="q19"/>
<rect x="406.0" class="q17"/>
<rect x="408.7" class="q18"/>
<rect x="411.5" class="q15"/>
<rect x="414.3" class="q21"/>
<rect x="417.0" class="q22"/>
<rect x="419.8" class="q23"/>
<rect x="422.6" class="q16"/>
<rect x="425.3" class="q19"/>
<rect x="428.1" class="q21"/>
<rect x="430.9" class="q20"/>
<rect x="433.6" class="q20"/>
<rect x="436.4" class="q14"/>
<rect x="439.2" class="q22"/>
<rect x="441.9" class="q23"/>
<rect x="444.7" class="q28"/>
<rect x="447.5" class="q28"/>
<rect x="450.3" class="q27"/>
<rect x="453.0" class="q20"/>
<rect x="455.8" class="q18"/>
<rect x="458.6" class="q19"/>
<rect x="461.3" class="q24"/>
<rect x="464.1" class="q17"/>
<rect x="466.9" class="q23"/>
<rect x="469.6" class="q24"/>
<rect x="472.4" class="q17"/>
<rect x="475.2" class="q17"/>
<rect x="477.9" class="q16"/>
</g>
<g class="w6">
<rect x="480.7" class="q19"/>
<rect x="483.5" class="q20"/>
<rect x="486.3" class="q22"/>
<rect x="489.1" class="q18"/>
<rect x="492.0" class="q20"/>
<rect x="494.8" class="q19"/>
<rect x="497.6" class="q19"/>
</g>
<g class="w7">
<rect x="500.4" class="q19"/>
<rect x="503.2" class="q20"/>
<rect x="505.9" class="q17"/>
<rect x="508.7" class="q19"/>
<rect x="511.4" class="q16"/>
<rect x="514.2" class="q19"/>
<rect x="516.9" class="q20"/>
<rect x="519.7" class="q21"/>
<rect x="522.4" class="q19"/>
<rect x="525.2" class="q17"/>
<rect x="527.9" class="q20"/>
<rect x="530.7" class="q18"/>
<rect x="533.4" class="q16"/>
<rect x="536.2" class="q18"/>
<rect x="538.9" class="q18"/>
<rect x="541.7" class="q20"/>
<rect x="544.5" class="q22"/>
<rect x="547.2" class="q21"/>
<rect x="550.0" class="q17"/>
<rect x="552.7" class="q18"/>
<rect x="555.5" class="q21"/>
<rect x="558.2" class="q20"/>
<rect x="561.0" class="q19"/>
<rect x="563.7" class="q17"/>
<rect x="566.5" class="q17"/>
<rect x="569.2" class="q16"/>
<rect x="572.0" class="q19"/>
<rect x="574.7" class="q19"/>
<rect x="577.5" class="q21"/>
<rect x="580.2" class="q16"/>
<rect x="583.0" class="q18"/>
<rect x="585.7" class="q18"/>
</g>
<g class="w8">
<rect x="588.5" class="q39"/>
</g>
<g class="w9">
<rect x="591.1" class="q16"/>
<rect x="593.9" class="q20"/>
<rect x="596.7" class="q21"/>
<rect x="599.5" class="q18"/>
<rect x="602.4" class="q20"/>
<rect x="605.2" class="q18"/>
<rect x="608.0" class="q15"/>
<rect x="610.8" class="q19"/>
<rect x="613.6" class="q17"/>
<rect x="616.4" class="q22"/>
<rect x="619.2" class="q21"/>
<rect x="622.1" class="q19"/>
<rect x="624.9" class="q22"/>
<rect x="627.7" class="q15"/>
<rect x="630.5" class="q19"/>
<rect x="633.3" class="q21"/>
<rect x="636.1" class="q20"/>
<rect x="638.9" class="q17"/>
<rect x="641.8" class="q19"/>
<rect x="644.6" class="q24"/>
<rect x="647.4" class="q19"/>
</g>
</g>
<g transform="translate(0 220.13)">
<g class="w0">
<rect x="11.7" class="q20"/>
<rect x="14.5" class="q19"/>
<rect x="17.2" class="q19"/>
<rect x="20.0" class="q29"/>
<rect x="22.8" class="q24"/>
<rect x="25.5" class="q17"/>
<rect x="28.3" class="q20"/>
<rect x="31.1" class="q20"/>
<rect x="33.8" class="q26"/>
<rect x="36.6" class="q23"/>
<rect x="39.4" class="q15"/>
<rect x="42.1" class="q22"/>
<rect x="44.9" class="q19"/>
<rect x="47.7" class="q20"/>
<rect x="50.5" class="q23"/>
<rect x="53.2" class="q19"/>
<rect x="56.0" class="q26"/>
<rect x="58.8" class="q20"/>
<rect x="61.5" class="q13"/>
<rect x="64.3" class="q17"/>
<rect x="67.1" class="q22"/>
<rect x="69.8" class="q20"/>
<rect x="72.6" class="q24"/>
<rect x="75.4" class="q20"/>
<rect x="78.1" class="q20"/>
<rect x="80.9" class="q21"/>
<rect x="83.7" class="q28"/>
<rect x="86.4" class="q20"/>
<rect x="89.2" class="q19"/>
<rect x="92.0" class="q21"/>
<rect x="94.7" class="q17"/>
<rect x="97.5" class="q20"/>
<rect x="100.3" class="q19"/>
<rect x="103.0" class="q20"/>
<rect x="105.8" class="q21"/>
<rect x="108.6" class="q16"/>
<rect x="111.4" class="q18"/>
<rect x="114.1" class="q20"/>
<rect x="116.9" class="q24"/>
<rect x="119.7" class="q20"/>
<rect x="122.4" class="q18"/>
<rect x="125.2" class="q20"/>
<rect x="128.0" class="q19"/>
<rect x="130.7" class="q18"/>
</g>
<g class="w1">
<rect x="133.5" class="q20"/>
<rect x="136.2" class="q19"/>
<rect x="139.0" class="q18"/>
<rect x="141.8" class="q20"/>
</g>
<g class="w2">
<rect x="144.5" class="q21"/>
<rect x="147.3" class="q21"/>
<rect x="150.1" class="q22"/>
<rect x="152.9" class="q20"/>
<rect x="155.7" class="q20"/>
<rect x="158.5" class="q22"/>
<rect x="161.3" class="q19"/>
<rect x="164.1" class="q20"/>
<rect x="166.9" class="q23"/>
<rect x="169.7" class="q19"/>
<rect x="172.5" class="q21"/>
<rect x="175.3" class="q22"/>
<rect x="178.1" class="q21"/>
<rect x="180.9" class="q21"/>
<rect x="183.7" class="q17"/>
</g>
<g class="w3">
<rect x="186.5" class="q21"/>
<rect x="189.3" class="q24"/>
<rect x="192.0" class="q19"/>
<rect x="194.8" class="q21"/>
<rect x="197.6" class="q23"/>
<rect x="200.3" class="q22"/>
<rect x="203.1" class="q23"/>
<rect x="205.9" class="q21"/>
<rect x="208.7" class="q29"/>
<rect x="211.4" class="q23"/>
<rect x="214.2" class="q19"/>
<rect x="217.0" class="q20"/>
<rect x="219.7" class="q20"/>
<rect x="222.5" class="q20"/>
<rect x="225.3" class="q25"/>
<rect x="228.1" class="q24"/>
<rect x="230.8" class="q17"/>
<rect x="233.6" class="q25"/>
<rect x="236.4" class="q25"/>
<rect x="239.1" class="q19"/>
<rect x="241.9" class="q23"/>
<rect x="244.7" class="q16"/>
<rect x="247.4" class="q19"/>
<rect x="250.2" class="q23"/>
<rect x="253.0" class="q17"/>
<rect x="255.8" class="q18"/>
<rect x="258.5" class="q22"/>
<rect x="261.3" class="q19"/>
<rect x="264.1" class="q26"/>
<rect x="266.8" class="q18"/>
</g>
<g class="w4">
<rect x="269.6" class="q26"/>
<rect x="272.4" class="q23"/>
<rect x="275.2" class="q21"/>
<rect x="278.0" class="q24"/>
<rect x="280.8" class="q23"/>
<rect x="283.6" class="q24"/>
<rect x="286.4" class="q20"/>
<rect x="289.2" class="q21"/>
<rect x="292.0" class="q27"/>
<rect x="294.8" class="q20"/>
<rect x="297.6" class="q23"/>
<rect x="300.4" class="q22"/>
<rect x="303.2" class="q22"/>
<rect x="306.0" class="q25"/>
<rect x="308.7" class="q27"/>
<rect x="311.5" class="q16"/>
<rect x="314.3" class="q21"/>
<rect x="317.1" class="q21"/>
<rect x="319.9" class="q25"/>
<rect x="322.7" class="q23"/>
<rect x="325.5" class="q22"/>
<rect x="328.3" class="q20"/>
<rect x="331.1" class="q25"/>
<rect x="333.9" class="q21"/>
<rect x="336.7" class="q22"/>
<rect x="339.5" class="q22"/>
</g>
<g class="w5">
<rect x="342.3" class="q26"/>
<rect x="345.1" class="q15"/>
<rect x="347.8" class="q17"/>
<rect x="350.6" class="q21"/>
<rect x="353.4" class="q16"/>
<rect x="356.1" class="q22"/>
<rect x="358.9" class="q22"/>
<rect x="361.7" class="q26"/>
<rect x="364.4" class="q19"/>
<rect x="367.2" class="q26"/>
<rect x="370.0" class="q17"/>
<rect x="372.7" class="q16"/>
<rect x="375.5" class="q16"/>
<rect x="378.3" class="q16"/>
<rect x="381.1" class="q23"/>
<rect x="383.8" class="q18"/>
<rect x="386.6" class="q17"/>
<rect x="389.4" class="q19"/>
<rect x="392.1" class="q16"/>
<rect x="394.9" class="q18"/>
<rect x="397.7" class="q24"/>
<rect x="400.4" class="q21"/>
<rect x="403.2" class="q19"/>
<rect x="406.0" class="q19"/>
<rect x="408.7" class="q25"/>
<rect x="411.5" class="q18"/>
<rect x="414.3" class="q24"/>
<rect x="417.0" class="q12"/>
<rect x="419.8" class="q21"/>
<rect x="422.6" class="q25"/>
<rect x="425.3" class="q21"/>
<rect x="428.1" class="q19"/>
<rect x="430.9" class="q21"/>
<rect x="433.6" class="q21"/>
<rect x="436.4" class="q17"/>
<rect x="439.2" class="q20"/>
<rect x="441.9" class="q13"/>
<rect x="444.7" class="q20"/>
<rect x="447.5" class="q27"/>
<rect x="450.3" class="q20"/>
<rect x="453.0" class="q24"/>
<rect x="455.8" class="q21"/>
<rect x="458.6" class="q21"/>
<rect x="461.3" class="q18"/>
<rect x="464.1" class="q18"/>
<rect x="466.9" class="q13"/>
<rect x="469.6" class="q18"/>
<rect x="472.4" class="q28"/>
<rect x="475.2" class="q26"/>
<rect x="477.9" class="q20"/>
</g>
<g class="w6">
<rect x="480.7" class="q19"/>
<rect x="483.5" class="q22"/>
<rect x="486.3" class="q21"/>
<rect x="489.1" class="q19"/>
<rect x="492.0" class="q19"/>
<rect x="494.8" class="q21"/>
<rect x="497.6" class="q18"/>
</g>
<g class="w7">
<rect x="500.4" class="q17"/>
<rect x="503.2" class="q18"/>
<rect x="505.9" class="q16"/>
<rect x="508.7" class="q19"/>
<rect x="511.4" class="q16"/>
<rect x="514.2" class="q17"/>
<rect x="516.9" class="q18"/>
<rect x="519.7" class="q19"/>
<rect x="522.4" class="q18"/>
<rect x="525.2" class="q19"/>
<rect x="527.9" class="q19"/>
<rect x="530.7" class="q17"/>
<rect x="533.4" class="q18"/>
<rect x="536.2" class="q18"/>
<rect x="538.9" class="q16"/>
<rect x="541.7" class="q20"/>
<rect x="544.5" class="q21"/>
<rect x="547.2" class="q16"/>
<rect x="550.0" class="q19"/>
<rect x="552.7" class="q21"/>
<rect x="555.5" class="q16"/>
<rect x="558.2" class="q18"/>
<rect x="561.0" class="q19"/>
<rect x="563.7" class="q18"/>
<rect x="566.5" class="q19"/>
<rect x="569.2" class="q18"/>
<rect x="572.0" class="q19"/>
<rect x="574.7" class="q19"/>
<rect x="577.5" class="q19"/>
<rect x="580.2" class="q20"/>
<rect x="583.0" class="q16"/>
<rect x="585.7" class="q17"/>
</g>
<g class="w8">
<rect x="588.5" class="q18"/>
</g>
<g class="w9">
<rect x="591.1" class="q19"/>
<rect x="593.9" class="q19"/>
<rect x="596.7" class="q21"/>
<rect x="599.5" class="q20"/>
<rect x="602.4" class="q18"/>
<rect x="605.2" class="q18"/>
<rect x="608.0" class="q21"/>
<rect x="610.8" class="q19"/>
<rect x="613.6" class="q19"/>
<rect x="616.4" class="q17"/>
<rect x="619.2" class="q22"/>
<rect x="622.1" class="q17"/>
<rect x="624.9" class="q20"/>
<rect x="627.7" class="q21"/>
<rect x="630.5" class="q21"/>
<rect x="633.3" class="q20"/>
<rect x="636.1" class="q20"/>
<rect x="638.9" class="q22"/>
<rect x="641.8" class="q21"/>
<rect x="644.6" class="q20"/>
<rect x="647.4" class="q19"/>
</g>
</g>
<g transform="translate(0 225.01)">
<g class="w0">
<rect x="11.7" class="q21"/>
<rect x="14.5" class="q18"/>
<rect x="17.2" class="q23"/>
<rect x="20.0" class="q24"/>
<rect x="22.8" class="q22"/>
<rect x="25.5" class="q23"/>
<rect x="28.3" class="q23"/>
<rect x="31.1" class="q24"/>
<rect x="33.8" class="q21"/>
<rect x="36.6" class="q22"/>
<rect x="39.4" class="q24"/>
<rect x="42.1" class="q24"/>
<rect x="44.9" class="q23"/>
<rect x="47.7" class="q22"/>
<rect x="50.5" class="q20"/>
<rect x="53.2" class="q25"/>
<rect x="56.0" class="q26"/>
<rect x="58.8" class="q21"/>
<rect x="61.5" class="q28"/>
<rect x="64.3" class="q22"/>
<rect x="67.1" class="q24"/>
<rect x="69.8" class="q24"/>
<rect x="72.6" class="q23"/>
<rect x="75.4" class="q24"/>
<rect x="78.1" class="q21"/>
<rect x="80.9" class="q25"/>
<rect x="83.7" class="q23"/>
<rect x="86.4" class="q23"/>
<rect x="89.2" class="q22"/>
<rect x="92.0" class="q19"/>
<rect x="94.7" class="q23"/>
<rect x="97.5" class="q25"/>
<rect x="100.3" class="q24"/>
<rect x="103.0" class="q23"/>
<rect x="105.8" class="q23"/>
<rect x="108.6" class="q23"/>
<rect x="111.4" class="q25"/>
<rect x="114.1" class="q23"/>
<rect x="116.9" class="q24"/>
<rect x="119.7" class="q27"/>
<rect x="122.4" class="q22"/>
<rect x="125.2" class="q21"/>
<rect x="128.0" class="q23"/>
<rect x="130.7" class="q23"/>
</g>
<g class="w1">
<rect x="133.5" class="q18"/>
<rect x="136.2" class="q24"/>
<rect x="139.0" class="q18"/>
<rect x="141.8" class="q17"/>
</g>
<g class="w2">
<rect x="144.5" class="q20"/>
<rect x="147.3" class="q20"/>
<rect x="150.1" class="q17"/>
<rect x="152.9" class="q18"/>
<rect x="155.7" class="q23"/>
<rect x="158.5" class="q17"/>
<rect x="161.3" class="q21"/>
<rect x="164.1" class="q20"/>
<rect x="166.9" class="q21"/>
<rect x="169.7" class="q19"/>
<rect x="172.5" class="q22"/>
<rect x="175.3" class="q21"/>
<rect x="178.1" class="q22"/>
<rect x="180.9" class="q20"/>
<rect x="183.7" class="q19"/>
</g>
<g class="w3">
<rect x="186.5" class="q22"/>
<rect x="189.3" class="q20"/>
<rect x="192.0" class="q24"/>
<rect x="194.8" class="q23"/>
<rect x="197.6" class="q20"/>
<rect x="200.3" class="q20"/>
<rect x="203.1" class="q18"/>
<rect x="205.9" class="q18"/>
<rect x="208.7" class="q24"/>
<rect x="211.4" class="q22"/>
<rect x="214.2" class="q24"/>
<rect x="217.0" class="q25"/>
<rect x="219.7" class="q22"/>
<rect x="222.5" class="q23"/>
<rect x="225.3" class="q23"/>
<rect x="228.1" class="q24"/>
<rect x="230.8" class="q23"/>
<rect x="233.6" class="q18"/>
<rect x="236.4" class="q25"/>
<rect x="239.1" class="q22"/>
<rect x="241.9" class="q23"/>
<rect x="244.7" class="q24"/>
<rect x="247.4" class="q20"/>
<rect x="250.2" class="q22"/>
<rect x="253.0" class="q22"/>
<rect x="255.8" class="q23"/>
<rect x="258.5" class="q24"/>
<rect x="261.3" class="q24"/>
<rect x="264.1" class="q22"/>
<rect x="266.8" class="q20"/>
</g>
<g class="w4">
<rect x="269.6" class="q21"/>
<rect x="272.4" class="q19"/>
<rect x="275.2" class="q25"/>
<rect x="278.0" class="q23"/>
<rect x="280.8" class="q27"/>
<rect x="283.6" class="q22"/>
<rect x="286.4" class="q24"/>
<rect x="289.2" class="q19"/>
<rect x="292.0" class="q25"/>
<rect x="294.8" class="q18"/>
<rect x="297.6" class="q18"/>
<rect x="300.4" class="q22"/>
<rect x="303.2" class="q22"/>
<rect x="306.0" class="q22"/>
<rect x="308.7" class="q21"/>
<rect x="311.5" class="q23"/>
<rect x="314.3" class="q21"/>
<rect x="317.1" class="q20"/>
<rect x="319.9" class="q25"/>
<rect x="322.7" class="q20"/>
<rect x="325.5" class="q19"/>
<rect x="328.3" class="q23"/>
<rect x="331.1" class="q21"/>
<rect x="333.9" class="q26"/>
<rect x="336.7" class="q21"/>
<rect x="339.5" class="q18"/>
</g>
<g class="w5">
<rect x="342.3" class="q23"/>
<rect x="345.1" class="q20"/>
<rect x="347.8" class="q16"/>
<rect x="350.6" class="q27"/>
<rect x="353.4" class="q26"/>
<rect x="356.1" class="q26"/>
<rect x="358.9" class="q18"/>
<rect x="361.7" class="q17"/>
<rect x="364.4" class="q18"/>
<rect x="367.2" class="q20"/>
<rect x="370.0" class="q18"/>
<rect x="372.7" class="q16"/>
<rect x="375.5" class="q19"/>
<rect x="378.3" class="q19"/>
<rect x="381.1" class="q26"/>
<rect x="383.8" class="q23"/>
<rect x="386.6" class="q22"/>
<rect x="389.4" class="q20"/>
<rect x="392.1" class="q19"/>
<rect x="394.9" class="q25"/>
<rect x="397.7" class="q28"/>
<rect x="400.4" class="q21"/>
<rect x="403.2" class="q20"/>
<rect x="406.0" class="q20"/>
<rect x="408.7" class="q22"/>
<rect x="411.5" class="q20"/>
<rect x="414.3" class="q19"/>
<rect x="417.0" class="q14"/>
<rect x="419.8" class="q24"/>
<rect x="422.6" class="q26"/>
<rect x="425.3" class="q24"/>
<rect x="428.1" class="q20"/>
<rect x="430.9" class="q18"/>
<rect x="433.6" class="q18"/>
<rect x="436.4" class="q20"/>
<rect x="439.2" class="q15"/>
<rect x="441.9" class="q19"/>
<rect x="444.7" class="q23"/>
<rect x="447.5" class="q22"/>
<rect x="450.3" class="q17"/>
<rect x="453.0" class="q15"/>
<rect x="455.8" class="q23"/>
<rect x="458.6" class="q26"/>
<rect x="461.3" class="q19"/>
<rect x="464.1" class="q21"/>
<rect x="466.9" class="q12"/>
<rect x="469.6" class="q20"/>
<rect x="472.4" class="q22"/>
<rect x="475.2" class="q23"/>
<rect x="477.9" class="q19"/>
</g>
<g class="w6">
<rect x="480.7" class="q15"/>
<rect x="483.5" class="q17"/>
<rect x="486.3" class="q16"/>
<rect x="489.1" class="q15"/>
<rect x="492.0" class="q24"/>
<rect x="494.8" class="q14"/>
<rect x="497.6" class="q26"/>
</g>
<g class="w7">
<rect x="500.4" class="q20"/>
<rect x="503.2" class="q19"/>
<rect x="505.9" class="q15"/>
<rect x="508.7" class="q20"/>
<rect x="511.4" class="q24"/>
<rect x="514.2" class="q18"/>
<rect x="516.9" class="q19"/>
<rect x="519.7" class="q17"/>
<rect x="522.4" class="q14"/>
<rect x="525.2" class="q15"/>
<rect x="527.9" class="q21"/>
<rect x="530.7" class="q16"/>
<rect x="533.4" class="q21"/>
<rect x="536.2" class="q18"/>
<rect x="538.9" class="q19"/>
<rect x="541.7" class="q24"/>
<rect x="544.5" class="q16"/>
<rect x="547.2" class="q16"/>
<rect x="550.0" class="q23"/>
<rect x="552.7" class="q19"/>
<rect x="555.5" class="q19"/>
<rect x="558.2" class="q20"/>
<rect x="561.0" class="q15"/>
<rect x="563.7" class="q22"/>
<rect x="566.5" class="q16"/>
<rect x="569.2" class="q14"/>
<rect x="572.0" class="q14"/>
<rect x="574.7" class="q16"/>
<rect x="577.5" class="q16"/>
<rect x="580.2" class="q16"/>
<rect x="583.0" class="q15"/>
<rect x="585.7" class="q19"/>
</g>
<g class="w8">
<rect x="588.5" class="q20"/>
</g>
<g class="w9">
<rect x="591.1" class="q17"/>
<rect x="593.9" class="q18"/>
<rect x="596.7" class="q14"/>
<rect x="599.5" class="q15"/>
<rect x="602.4" class="q15"/>
<rect x="605.2" class="q19"/>
<rect x="608.0" class="q17"/>
<rect x="610.8" class="q12"/>
<rect x="613.6" class="q5"/>
<rect x="616.4" class="q8"/>
<rect x="619.2" class="q12"/>
<rect x="622.1" class="q8"/>
<rect x="624.9" class="q6"/>
<rect x="627.7" class="q8"/>
<rect x="630.5" class="q9"/>
<rect x="633.3" class="q9"/>
<rect x="636.1" class="q12"/>
<rect x="638.9" class="q12"/>
<rect x="641.8" class="q13"/>
<rect x="644.6" class="q11"/>
<rect x="647.4" class="q8"/>
</g>
</g>
<line x1="133.5" y1="0" x2="133.5" y2="229.9" stroke="#000" stroke-width="0.55"/>
<line x1="144.5" y1="0" x2="144.5" y2="229.9" stroke="#000" stroke-width="0.55"/>
<line x1="186.5" y1="0" x2="186.5" y2="229.9" stroke="#000" stroke-width="0.55"/>
<line x1="269.6" y1="0" x2="269.6" y2="229.9" stroke="#000" stroke-width="0.55"/>
<line x1="342.3" y1="0" x2="342.3" y2="229.9" stroke="#000" stroke-width="0.55"/>
<line x1="480.7" y1="0" x2="480.7" y2="229.9" stroke="#000" stroke-width="0.55"/>
<line x1="500.4" y1="0" x2="500.4" y2="229.9" stroke="#000" stroke-width="0.55"/>
<line x1="588.5" y1="0" x2="588.5" y2="229.9" stroke="#000" stroke-width="0.55"/>
<line x1="591.1" y1="0" x2="591.1" y2="229.9" stroke="#000" stroke-width="0.55"/>
<line x1="11.3" y1="0" x2="11.3" y2="229.9" stroke="#666" stroke-width="0.9"/>
<line x1="650.5" y1="0" x2="650.5" y2="229.9" stroke="#666" stroke-width="0.9"/>
<text x="0" y="0" font-size="8.5" fill="#000" text-anchor="middle" transform="translate(6.9,38.5) scale(1.06,1) rotate(-90)">Clinical data</text>
<text x="0" y="0" font-size="8.55" fill="#000" text-anchor="middle" transform="translate(6.9,94.8) scale(1.06,1) rotate(-90)">Fusion genes</text>
<text x="0" y="0" font-size="8.55" fill="#000" text-anchor="middle" transform="translate(6.9,178.8) scale(1.06,1) rotate(-90)">Gene expression</text>
<text x="652.20" y="31.10" font-size="3.9" fill="#000" font-weight="normal" text-anchor="start" stroke="#000" stroke-width="0.14">Subgroup</text>
<text x="652.20" y="47.50" font-size="3.85" fill="#000" font-weight="normal" text-anchor="start" stroke="#000" stroke-width="0.14">Immunophenotype</text>
<text x="652.20" y="55.90" font-size="3.9" fill="#000" font-weight="normal" text-anchor="start" stroke="#000" stroke-width="0.14">Sex</text>
<text x="652.20" y="63.90" font-size="3.9" fill="#000" font-weight="normal" text-anchor="start" stroke="#000" stroke-width="0.14">Age</text>
<text x="651.20" y="73.80" font-size="3.8" fill="#000" font-weight="normal" text-anchor="start" stroke="#000" stroke-width="0.14">TLX1r</text>
<text x="651.20" y="78.06" font-size="3.8" fill="#000" font-weight="normal" text-anchor="start" stroke="#000" stroke-width="0.14">NKX2-1r</text>
<text x="651.20" y="82.32" font-size="3.8" fill="#000" font-weight="normal" text-anchor="start" stroke="#000" stroke-width="0.14">TAL1r</text>
<text x="651.20" y="86.58" font-size="3.8" fill="#000" font-weight="normal" text-anchor="start" stroke="#000" stroke-width="0.14">STIL-TAL1</text>
<text x="651.20" y="90.84" font-size="3.8" fill="#000" font-weight="normal" text-anchor="start" stroke="#000" stroke-width="0.14">LMO2</text>
<text x="651.20" y="95.10" font-size="3.8" fill="#000" font-weight="normal" text-anchor="start" stroke="#000" stroke-width="0.14">NUP214-ABL1</text>
<text x="651.20" y="99.36" font-size="3.8" fill="#000" font-weight="normal" text-anchor="start" stroke="#000" stroke-width="0.14">SET-NUP214</text>
<text x="651.20" y="103.62" font-size="3.8" fill="#000" font-weight="normal" text-anchor="start" stroke="#000" stroke-width="0.14">KMT2Ar</text>
<text x="651.20" y="107.88" font-size="3.8" fill="#000" font-weight="normal" text-anchor="start" stroke="#000" stroke-width="0.14">MLLT10-PICALM</text>
<text x="651.20" y="112.14" font-size="3.8" fill="#000" font-weight="normal" text-anchor="start" stroke="#000" stroke-width="0.14">HOXAr</text>
<text x="651.20" y="116.40" font-size="3.8" fill="#000" font-weight="normal" text-anchor="start" stroke="#000" stroke-width="0.14">EVX1r</text>
<text x="651.20" y="120.66" font-size="3.8" fill="#000" font-weight="normal" text-anchor="start" stroke="#000" stroke-width="0.14">other</text>
<text x="651.20" y="126.24" font-size="3.8" fill="#333" font-weight="normal" text-anchor="start">TLX1</text>
<text x="651.20" y="131.13" font-size="3.8" fill="#333" font-weight="normal" text-anchor="start">NKX2-1</text>
<text x="651.20" y="136.02" font-size="3.8" fill="#333" font-weight="normal" text-anchor="start">LMO1</text>
<text x="651.20" y="140.90" font-size="3.8" fill="#333" font-weight="normal" text-anchor="start">TAL1</text>
<text x="651.20" y="145.79" font-size="3.8" fill="#333" font-weight="normal" text-anchor="start">TLX3</text>
<text x="651.20" y="150.68" font-size="3.8" fill="#333" font-weight="normal" text-anchor="start">HOXA5</text>
<text x="651.20" y="155.56" font-size="3.8" fill="#333" font-weight="normal" text-anchor="start">HOXA6</text>
<text x="651.20" y="160.45" font-size="3.8" fill="#333" font-weight="normal" text-anchor="start">HOXA7</text>
<text x="651.20" y="165.33" font-size="3.8" fill="#333" font-weight="normal" text-anchor="start">HOXA9</text>
<text x="651.20" y="170.22" font-size="3.8" fill="#333" font-weight="normal" text-anchor="start">HOXA10</text>
<text x="651.20" y="175.11" font-size="3.8" fill="#333" font-weight="normal" text-anchor="start">HOXA11</text>
<text x="651.20" y="179.99" font-size="3.8" fill="#333" font-weight="normal" text-anchor="start">HOXA13</text>
<text x="651.20" y="184.88" font-size="3.8" fill="#333" font-weight="normal" text-anchor="start">HOTTIP</text>
<text x="651.20" y="189.77" font-size="3.8" fill="#333" font-weight="normal" text-anchor="start">EVX1</text>
<text x="651.20" y="194.65" font-size="3.8" fill="#333" font-weight="normal" text-anchor="start">MEF2C</text>
<text x="651.20" y="199.54" font-size="3.8" fill="#333" font-weight="normal" text-anchor="start">MN1</text>
<text x="651.20" y="204.43" font-size="3.8" fill="#333" font-weight="normal" text-anchor="start">BAALC</text>
<text x="651.20" y="209.31" font-size="3.8" fill="#333" font-weight="normal" text-anchor="start">LMO2</text>
<text x="651.20" y="214.20" font-size="3.8" fill="#333" font-weight="normal" text-anchor="start">LYL1</text>
<text x="651.20" y="219.08" font-size="3.8" fill="#333" font-weight="normal" text-anchor="start">TAL2</text>
<text x="651.20" y="223.97" font-size="3.8" fill="#333" font-weight="normal" text-anchor="start">KMT2A</text>
<text x="651.20" y="228.86" font-size="3.8" fill="#333" font-weight="normal" text-anchor="start">MYB</text>
<text x="35.50" y="241.30" font-size="6.3" fill="#000" font-weight="bold" text-anchor="start">Molecular subgroup</text>
<text x="35.50" y="248.50" font-size="6.3" fill="#111" font-weight="normal" text-anchor="start">TLX1</text>
<rect x="71.6" y="243.4" width="6.1" height="6.1" fill="#F3C53A" stroke="#bbb" stroke-width="0.5"/>
<text x="35.50" y="256.00" font-size="6.3" fill="#111" font-weight="normal" text-anchor="start">NKX2</text>
<rect x="71.6" y="250.9" width="6.1" height="6.1" fill="#3EE8E8" stroke="#bbb" stroke-width="0.5"/>
<text x="35.50" y="263.70" font-size="6.3" fill="#111" font-weight="normal" text-anchor="start">LMO1</text>
<rect x="71.6" y="258.6" width="6.1" height="6.1" fill="#F569EE" stroke="#bbb" stroke-width="0.5"/>
<text x="35.50" y="271.40" font-size="6.3" fill="#111" font-weight="normal" text-anchor="start">TAL1/LMO</text>
<rect x="71.6" y="266.3" width="6.1" height="6.1" fill="#F21414" stroke="#bbb" stroke-width="0.5"/>
<text x="35.50" y="279.10" font-size="6.3" fill="#111" font-weight="normal" text-anchor="start">TLX3</text>
<rect x="71.6" y="274.0" width="6.1" height="6.1" fill="#8C0DBA" stroke="#bbb" stroke-width="0.5"/>
<text x="112.10" y="248.50" font-size="6.3" fill="#111" font-weight="normal" text-anchor="start">HOXA</text>
<rect x="150.9" y="243.4" width="6.1" height="6.1" fill="#2472EB" stroke="#bbb" stroke-width="0.5"/>
<text x="112.10" y="256.00" font-size="6.3" fill="#111" font-weight="normal" text-anchor="start">HOXA13</text>
<rect x="150.9" y="250.9" width="6.1" height="6.1" fill="#0D0D88" stroke="#bbb" stroke-width="0.5"/>
<text x="112.10" y="263.70" font-size="6.3" fill="#111" font-weight="normal" text-anchor="start">LYL1/LMO2</text>
<rect x="150.9" y="258.6" width="6.1" height="6.1" fill="#179239" stroke="#bbb" stroke-width="0.5"/>
<text x="112.10" y="271.40" font-size="6.3" fill="#111" font-weight="normal" text-anchor="start">TAL2</text>
<rect x="150.9" y="266.3" width="6.1" height="6.1" fill="#F5F000" stroke="#bbb" stroke-width="0.5"/>
<text x="112.10" y="279.10" font-size="6.3" fill="#111" font-weight="normal" text-anchor="start">unclassified</text>
<rect x="150.9" y="274.0" width="6.1" height="6.1" fill="#E2E2E2" stroke="#bbb" stroke-width="0.5"/>
<text x="205.70" y="241.00" font-size="6.3" fill="#000" font-weight="bold" text-anchor="start">Immunophenotype</text>
<text x="205.70" y="248.40" font-size="6.3" fill="#111" font-weight="normal" text-anchor="start">early</text>
<rect x="247.7" y="243.4" width="6.1" height="6.1" fill="#187A18" stroke="#bbb" stroke-width="0.5"/>
<text x="205.70" y="255.90" font-size="6.3" fill="#111" font-weight="normal" text-anchor="start">thymic</text>
<rect x="247.7" y="250.9" width="6.1" height="6.1" fill="#F5F010" stroke="#bbb" stroke-width="0.5"/>
<text x="205.70" y="263.60" font-size="6.3" fill="#111" font-weight="normal" text-anchor="start">mature</text>
<rect x="247.7" y="258.6" width="6.1" height="6.1" fill="#1C1C9E" stroke="#bbb" stroke-width="0.5"/>
<text x="205.70" y="271.30" font-size="6.3" fill="#111" font-weight="normal" text-anchor="start">not available</text>
<rect x="247.7" y="266.3" width="6.1" height="6.1" fill="#ECE4E8" stroke="#bbb" stroke-width="0.5"/>
<text x="307.00" y="241.60" font-size="6.3" fill="#000" font-weight="bold" text-anchor="start">Sex</text>
<text x="307.00" y="248.90" font-size="6.3" fill="#111" font-weight="normal" text-anchor="start">female</text>
<rect x="332.4" y="243.9" width="6.1" height="6.1" fill="#A2F0A2" stroke="#bbb" stroke-width="0.5"/>
<text x="307.00" y="256.50" font-size="6.3" fill="#111" font-weight="normal" text-anchor="start">male</text>
<rect x="332.4" y="251.5" width="6.1" height="6.1" fill="#F28686" stroke="#bbb" stroke-width="0.5"/>
<text x="382.10" y="241.60" font-size="6.3" fill="#000" font-weight="bold" text-anchor="start">Age (years)</text>
<text x="382.10" y="248.60" font-size="6.3" fill="#111" font-weight="normal" text-anchor="start">15-35</text>
<rect x="412.3" y="245.4" width="6.1" height="6.1" fill="#EA0A0A" stroke="#bbb" stroke-width="0.5"/>
<text x="382.10" y="256.30" font-size="6.3" fill="#111" font-weight="normal" text-anchor="start">36-55</text>
<rect x="412.3" y="253.10000000000002" width="6.1" height="6.1" fill="#8C8266" stroke="#bbb" stroke-width="0.5"/>
<text x="382.10" y="263.90" font-size="6.3" fill="#111" font-weight="normal" text-anchor="start">&gt;55</text>
<rect x="412.3" y="260.7" width="6.1" height="6.1" fill="#3E7086" stroke="#bbb" stroke-width="0.5"/>
<text x="461.00" y="242.30" font-size="6.3" fill="#000" font-weight="bold" text-anchor="start">Gene fusion</text>
<text x="461.00" y="250.10" font-size="6.3" fill="#111" font-weight="normal" text-anchor="start">yes</text>
<rect x="478.9" y="245.29999999999998" width="6.1" height="6.1" fill="#000000" stroke="#99a" stroke-width="0.5"/>
<text x="461.00" y="257.70" font-size="6.3" fill="#111" font-weight="normal" text-anchor="start">no</text>
<rect x="478.9" y="252.89999999999998" width="6.1" height="6.1" fill="#FFFFFF" stroke="#99a" stroke-width="0.5"/>
<text x="523.00" y="240.20" font-size="6.3" fill="#000" font-weight="bold" text-anchor="start">Gene expression</text>
<defs><linearGradient id="ge" x1="0" x2="1" y1="0" y2="0"><stop offset="0" stop-color="#1818A8"/><stop offset="0.5" stop-color="#F6F6F6"/><stop offset="1" stop-color="#F5F000"/></linearGradient></defs>
<rect x="513.00" y="247.90" width="78.90" height="5.00" fill="url(#ge)" stroke="#999" stroke-width="0.3"/>
<line x1="552.5" y1="248.1" x2="552.5" y2="252.9" stroke="#bbb" stroke-width="0.4"/>
<text x="514.80" y="258.40" font-size="3.0" fill="#444" font-weight="normal" text-anchor="middle">-5</text>
<text x="549.80" y="258.40" font-size="3.0" fill="#444" font-weight="normal" text-anchor="middle">0</text>
<text x="589.20" y="258.40" font-size="3.0" fill="#444" font-weight="normal" text-anchor="middle">5</text>
<text x="523.00" y="263.40" font-size="6.3" fill="#111" font-weight="normal" text-anchor="start">Fold change (Mean)</text></svg>
</body></html>
